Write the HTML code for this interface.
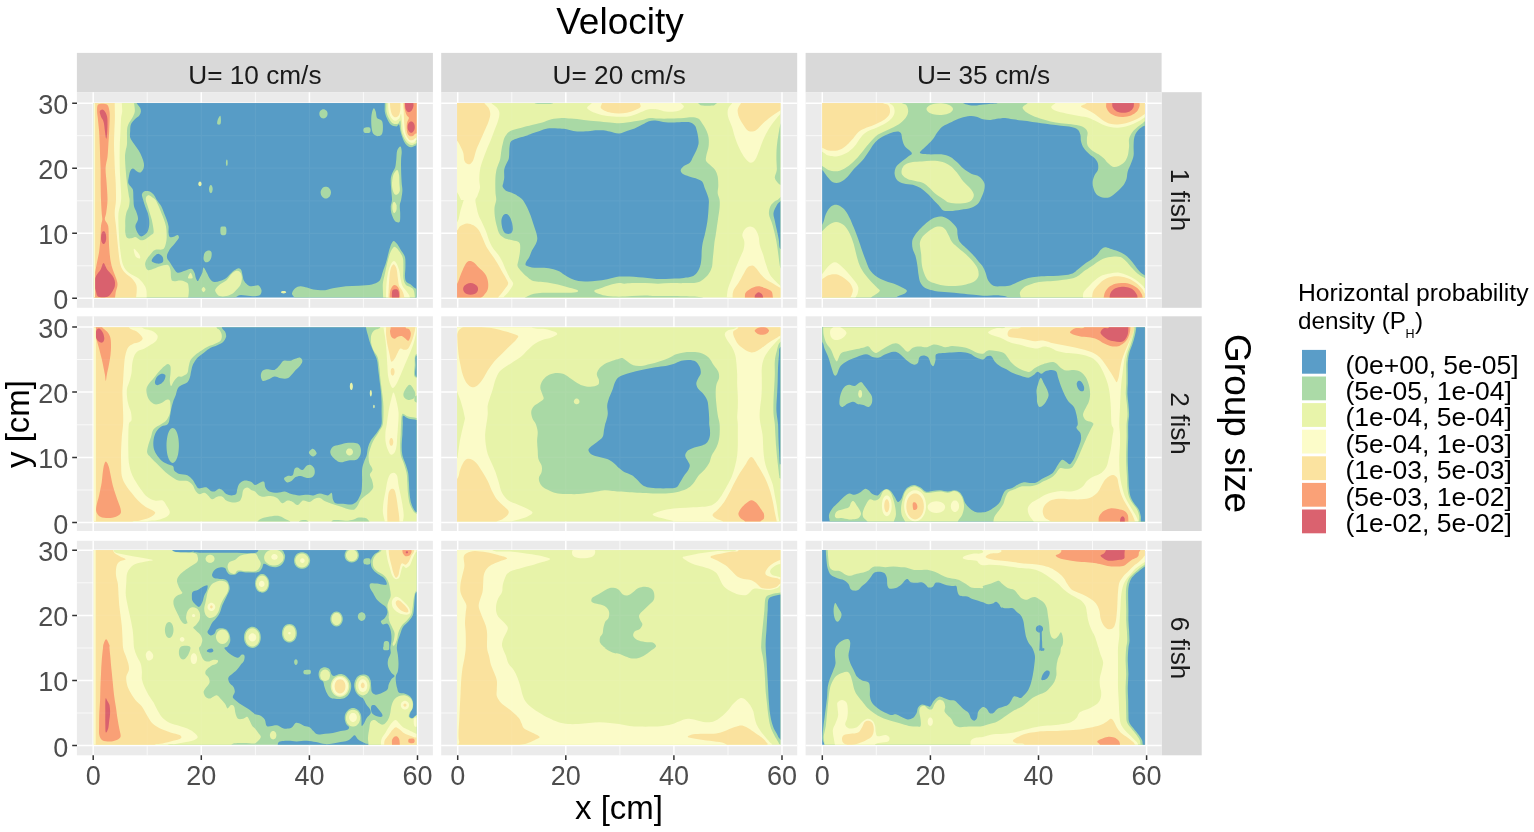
<!DOCTYPE html>
<html lang="en"><head><meta charset="utf-8"><title>Horizontal probability density</title>
<style>html,body{margin:0;padding:0;background:#fff}body{width:1534px;height:832px;overflow:hidden}svg{display:block}text{font-family:"Liberation Sans",sans-serif}</style></head><body>
<svg width="1534" height="832" viewBox="0 0 1534 832">
<rect width="1534" height="832" fill="#fff"/>
<defs>
<clipPath id="c00"><rect x="93.9" y="102.9" width="322.7" height="194.7"/></clipPath>
<clipPath id="c01"><rect x="457" y="102.9" width="323.4" height="194.7"/></clipPath>
<clipPath id="c02"><rect x="822.1" y="102.9" width="322.8" height="194.7"/></clipPath>
<clipPath id="c10"><rect x="93.9" y="327.2" width="322.7" height="194.4"/></clipPath>
<clipPath id="c11"><rect x="457" y="327.2" width="323.4" height="194.4"/></clipPath>
<clipPath id="c12"><rect x="822.1" y="327.2" width="322.8" height="194.4"/></clipPath>
<clipPath id="c20"><rect x="93.9" y="550" width="322.7" height="194.7"/></clipPath>
<clipPath id="c21"><rect x="457" y="550" width="323.4" height="194.7"/></clipPath>
<clipPath id="c22"><rect x="822.1" y="550" width="322.8" height="194.7"/></clipPath>
</defs>
<rect x="76.9" y="52.9" width="356" height="39.4" fill="#d9d9d9"/>
<text x="254.9" y="83.9" font-size="26.2" text-anchor="middle" fill="#1a1a1a">U= 10 cm/s</text>
<rect x="441.2" y="52.9" width="356" height="39.4" fill="#d9d9d9"/>
<text x="619.2" y="83.9" font-size="26.2" text-anchor="middle" fill="#1a1a1a">U= 20 cm/s</text>
<rect x="805.6" y="52.9" width="356" height="39.4" fill="#d9d9d9"/>
<text x="983.6" y="83.9" font-size="26.2" text-anchor="middle" fill="#1a1a1a">U= 35 cm/s</text>
<rect x="1161.5" y="92.2" width="40.2" height="215.6" fill="#d9d9d9"/>
<text transform="translate(1170.8 200) rotate(90)" font-size="26.2" text-anchor="middle" fill="#1a1a1a">1 fish</text>
<rect x="1161.5" y="316.3" width="40.2" height="214.7" fill="#d9d9d9"/>
<text transform="translate(1170.8 423.6) rotate(90)" font-size="26.2" text-anchor="middle" fill="#1a1a1a">2 fish</text>
<rect x="1161.5" y="540.8" width="40.2" height="214.5" fill="#d9d9d9"/>
<text transform="translate(1170.8 648) rotate(90)" font-size="26.2" text-anchor="middle" fill="#1a1a1a">6 fish</text>
<g>
<rect x="76.9" y="92.2" width="356" height="215.6" fill="#ebebeb"/>
<path d="M147.2 92.2V307.8M255.4 92.2V307.8M363.4 92.2V307.8M76.9 265.8H432.9M76.9 200.8H432.9M76.9 135.7H432.9" stroke="#fff" stroke-width="0.75" fill="none"/>
<path d="M93.2 92.2V307.8M201.3 92.2V307.8M309.4 92.2V307.8M417.5 92.2V307.8M76.9 298.3H432.9M76.9 233.3H432.9M76.9 168.2H432.9M76.9 103.2H432.9" stroke="#fff" stroke-width="1.5" fill="none"/>
<g clip-path="url(#c00)">
<rect x="76.9" y="92.2" width="356" height="215.6" fill="#579cc6"/>
<path fill="#a9d9a5" d="M136.1 99.8C136.1 100.3 135.8 101.6 136.5 102.9C137.1 104.2 139.2 106.2 140 107.6C140.7 109 141 110.2 140.9 111.5C140.8 112.8 140.3 114.1 139.3 115.4C138.3 116.7 136.2 117.8 134.8 119.3C133.4 120.8 131.6 122.5 130.9 124.5C130.1 126.4 130.3 128.8 130.2 131C130.1 133.1 129.6 135.3 130.2 137.4C130.9 139.6 132.7 141.8 134.1 143.9C135.5 146.1 137.4 148.3 138.7 150.4C140 152.6 141.1 154.8 141.9 156.9C142.8 159.1 143.6 161.5 143.9 163.4C144.1 165.4 144 167.1 143.5 168.6C142.9 170.1 141.7 172.1 140.6 172.5C139.5 172.9 138 171.8 136.7 171.2C135.4 170.6 133.9 168.6 132.8 168.6C131.7 168.6 130.9 169.9 130.2 171.2C129.6 172.5 129.3 174.4 128.9 176.4C128.6 178.3 127.9 181 128.3 182.9C128.7 184.7 130.7 186.1 131.5 187.4C132.3 188.7 132.8 188.6 133.1 190.7C133.4 192.8 133.3 197.4 133.5 200C133.7 202.7 133.6 204.3 134.1 206.5C134.7 208.7 136.1 210.8 136.7 213C137.4 215.1 138.2 217.3 138 219.5C137.8 221.6 135.5 223.8 135.4 226C135.3 228.1 136.4 230.7 137.4 232.5C138.3 234.2 139.6 236.4 141.3 236.4C142.9 236.4 145.8 234.2 147.1 232.5C148.4 230.7 148.7 228.1 149.1 226C149.4 223.8 149.3 221.6 149.1 219.5C148.8 217.3 148.4 215.1 147.8 213C147.1 210.8 145.9 208.7 145.2 206.5C144.4 204.3 143.8 202 143.2 200C142.7 198 141.7 196 141.9 194.6C142.1 193.1 143.3 191.9 144.5 191.3C145.7 190.8 147.5 190.8 149.1 191.3C150.6 191.9 152.3 193.1 153.6 194.6C154.9 196 155.6 198 156.8 200C158.1 202 160.2 204.3 161.4 206.5C162.6 208.7 163.1 210.8 164 213C164.9 215.1 165.8 217.3 166.6 219.5C167.3 221.6 168.2 223.8 168.5 226C168.9 228.1 168.3 230.6 168.5 232.5C168.8 234.3 168.9 236.4 169.8 237C170.8 237.7 173.1 236.7 174.4 236.4C175.7 236 176.9 234.8 177.6 235.1C178.4 235.3 179.1 236.6 178.9 237.7C178.7 238.7 177.3 240.2 176.3 241.5C175.4 242.8 174.2 244.1 173.1 245.4C172 246.7 170.8 247.8 169.8 249.3C168.9 250.9 167.7 253 167.2 254.5C166.8 256 166.8 257.1 167.2 258.4C167.7 259.7 168.9 260.8 169.8 262.3C170.8 263.8 171.8 265.8 173.1 267.5C174.4 269.2 175.7 272.2 177.6 272.7C179.6 273.2 182.5 271.4 184.8 270.8C187 270.1 189.6 268.5 191.3 268.8C192.9 269.1 193.7 271.2 194.5 272.7C195.3 274.2 195.3 276.5 195.8 277.9C196.3 279.3 197.1 281.1 197.7 281.1C198.4 281.1 198.9 279.3 199.7 277.9C200.5 276.5 201.6 274.4 202.3 272.7C202.9 271 202.8 267.5 203.6 267.5C204.3 267.5 205.9 271 206.8 272.7C207.8 274.4 208.4 276.4 209.4 277.9C210.5 279.4 211.6 281.3 213.3 281.8C215.1 282.3 217.7 281.8 219.8 281.1C222 280.5 224.6 279.1 226.3 277.9C228 276.7 228.8 275.3 230.2 274C231.6 272.7 233.3 271.1 234.8 270.1C236.2 269.1 237.6 268.2 238.6 268.2C239.7 268.2 240.6 268.9 241.2 270.1C241.9 271.3 242.1 273.6 242.5 275.3C243 277 243.1 279 243.8 280.5C244.6 282 245.9 283.4 247.1 284.4C248.3 285.4 249.7 286.1 251 286.3C252.3 286.6 253.7 285.8 255 285.7C256.3 285.6 257.8 284.9 258.9 285.7C260 286.4 261.3 288.7 261.5 290.2C261.7 291.8 261.3 293.8 260.2 294.8C259.1 295.8 257.4 296.2 255 296.3C252.6 296.4 248.6 295.5 245.8 295.4C243 295.3 239.6 294.6 238 295.8C236.4 297 227 301.4 236 302.6C245.1 303.7 282.7 304.1 292 302.6C301.3 301.1 291.5 295.9 292 293.5C292.5 291.1 293.8 289.5 295.2 288.3C296.7 287.1 298.5 286.4 300.4 286.3C302.4 286.2 304.8 287.1 306.9 287.6C309.1 288.2 310.4 289.2 313.4 289.6C316.5 290 321.9 290.5 325.1 290.2C328.4 290 329.4 288.9 332.9 288.3C336.4 287.6 341.6 286.8 345.9 286.3C350.2 285.9 354.5 286 358.9 285.7C363.2 285.4 368.6 285 371.9 284.4C375.1 283.7 376.8 282.9 378.3 281.8C379.9 280.7 380.2 279.6 380.9 277.9C381.7 276.2 382 274 382.9 271.4C383.8 268.8 385.2 265.6 386.1 262.3C387.1 259.1 387.9 255 388.7 251.9C389.6 248.9 390.5 246 391.3 244.1C392.2 242.3 392.7 240.9 393.7 240.9C394.6 240.9 395.9 242.5 397.2 244.1C398.4 245.8 399.8 248.5 401.1 250.6C402.4 252.8 404.2 254.3 405 257.1C405.7 259.9 405.4 264.3 405.4 267.5C405.4 270.8 404.8 274.2 405 276.6C405.1 279 405.3 280.5 406.3 281.8C407.2 283.1 409.3 283.3 410.8 284.4C412.3 285.5 413.4 287.2 415.3 288.3C417.3 289.4 421.3 290.5 422.5 290.9L428.6 309.6L81.5 309.6L81.5 90.8Z"/>
<path fill="#a9d9a5" d="M384.8 92C384.8 93.8 384.8 99.7 384.8 102.9C384.8 106.2 384.5 109 384.8 111.5C385.2 114 385.8 115.8 386.8 118C387.8 120.1 389.1 123.1 390.7 124.5C392.3 125.9 395.1 126.4 396.5 126.4C397.9 126.4 398.5 123.7 399.1 124.5C399.8 125.2 399.9 128.8 400.4 131C401 133.1 401.5 135.3 402.4 137.4C403.2 139.6 404.2 142.3 405.6 143.9C407 145.6 409 147 410.8 147.2C412.6 147.4 413.8 145.8 416.6 145.2C419.5 144.7 425.8 144.2 427.7 143.9L428.6 90.8Z"/>
<path fill="#a9d9a5" d="M220.5 227.9C220.7 226.8 221 226.8 221.8 226.6C222.5 226.4 224.3 226.3 225 226.6C225.8 226.9 226.1 227.5 226.3 228.6C226.5 229.6 226.5 232 226.3 233.1C226.1 234.2 225.8 234.7 225 235.1C224.3 235.4 222.5 235.4 221.8 235.1C221 234.7 220.7 234.3 220.5 233.1C220.3 231.9 220.3 229 220.5 227.9Z"/>
<path fill="#a9d9a5" d="M203.6 257.1C203.7 255.8 204.1 253.7 204.9 252.6C205.6 251.5 207.1 250.7 208.1 250.6C209.2 250.5 210.8 250.9 211.4 251.9C211.9 253 211.7 255.6 211.4 257.1C211.1 258.6 210.3 260.2 209.4 261C208.6 261.9 207.1 262.4 206.2 262.3C205.3 262.2 204.4 261.2 204 260.4C203.5 259.5 203.4 258.4 203.6 257.1Z"/>
<path fill="#a9d9a5" d="M217.2 121.9C217.4 120.8 218 118.9 218.5 118C219.1 117 220.1 115.4 220.5 116C220.9 116.7 221 120.5 220.9 121.9C220.8 123.3 220.4 124.1 219.8 124.5C219.3 124.8 217.9 124.6 217.5 124.2C217.1 123.8 217.1 122.9 217.2 121.9Z"/>
<path fill="#a9d9a5" d="M227.7 162.8C227.7 163.5 227.6 164.5 227.5 165.1C227.3 165.6 227 166 226.8 166C226.6 166 226.3 165.6 226.2 165.1C226 164.5 225.9 163.5 225.9 162.8C225.9 162 226 161 226.2 160.5C226.3 159.9 226.6 159.5 226.8 159.5C227 159.5 227.3 159.9 227.5 160.5C227.6 161 227.7 162 227.7 162.8Z"/>
<path fill="#e7f3a9" d="M201.6 183.9C201.6 184.5 201.4 185.2 201.1 185.6C200.9 186 200.4 186.3 200 186.3C199.6 186.3 199 186 198.8 185.6C198.5 185.2 198.3 184.5 198.3 183.9C198.3 183.4 198.5 182.7 198.8 182.3C199 181.9 199.6 181.6 200 181.6C200.4 181.6 200.9 181.9 201.1 182.3C201.4 182.7 201.6 183.4 201.6 183.9Z"/>
<path fill="#a9d9a5" d="M212.7 189.1C212.7 190.1 212.4 191.4 212.1 192.1C211.8 192.7 211.3 193.3 210.9 193.3C210.4 193.3 209.9 192.7 209.6 192.1C209.3 191.4 209 190.1 209 189.1C209 188.1 209.3 186.9 209.6 186.2C209.9 185.5 210.4 185 210.9 185C211.3 185 211.8 185.5 212.1 186.2C212.4 186.9 212.7 188.1 212.7 189.1Z"/>
<path fill="#a9d9a5" d="M327.6 113.8C327.6 114.7 327.3 115.8 326.8 116.6C326.3 117.3 325.5 118 324.7 118.3C323.9 118.5 322.9 118.5 322.1 118.3C321.4 118 320.5 117.3 320.1 116.6C319.6 115.8 319.3 114.7 319.3 113.8C319.3 112.9 319.6 111.8 320.1 111.1C320.5 110.3 321.4 109.7 322.1 109.4C322.9 109.1 323.9 109.1 324.7 109.4C325.5 109.7 326.3 110.3 326.8 111.1C327.3 111.8 327.6 112.9 327.6 113.8Z"/>
<path fill="#a9d9a5" d="M373.8 108.2C374.4 108 375.2 109.9 375.7 111.5C376.3 113.1 376.1 116.5 377 118C378 119.5 380.6 119.3 381.6 120.6C382.6 121.9 382.8 123.6 382.9 125.8C383 127.9 383 131.8 382.2 133.5C381.5 135.3 379.8 136 378.3 136.1C376.9 136.3 374.9 135.3 373.8 134.2C372.7 133.1 372.3 131.9 371.9 129.7C371.4 127.4 371.2 123.4 371.2 120.6C371.2 117.8 371.4 114.8 371.9 112.8C372.3 110.7 373.2 108.4 373.8 108.2Z"/>
<path fill="#a9d9a5" d="M364.1 128.1C365 127.3 368.9 127 369.9 127.7C370.9 128.4 370.9 131.7 369.9 132.5C368.9 133.3 365 133.2 364.1 132.5C363.1 131.8 363.1 128.9 364.1 128.1Z"/>
<path fill="#a9d9a5" d="M331 192.6C331 193.8 330.6 195.1 330 196.1C329.4 197 328.3 197.8 327.4 198.2C326.4 198.5 325.1 198.5 324.2 198.2C323.2 197.8 322.2 197 321.6 196.1C321 195.1 320.6 193.8 320.6 192.6C320.6 191.5 321 190.1 321.6 189.2C322.2 188.3 323.2 187.4 324.2 187.1C325.1 186.7 326.4 186.7 327.4 187.1C328.3 187.4 329.4 188.3 330 189.2C330.6 190.1 331 191.5 331 192.6Z"/>
<path fill="#a9d9a5" d="M400.4 146.5C401.2 146.7 401.6 149.6 401.7 151.7C401.8 153.9 401.2 156.5 401.1 159.5C401 162.5 401 166 401.1 169.9C401.2 173.8 401.5 179.4 401.7 182.9C401.9 186.3 402.5 187.8 402.4 190.7C402.3 193.5 401.5 197.6 401.1 200C400.6 202.4 399.9 203 399.8 205.2C399.6 207.4 400.2 210.3 400.2 213C400.2 215.7 400.4 219.9 399.8 221.4C399.2 222.9 397.5 222.4 396.5 222.1C395.5 221.7 394.8 221 393.9 219.5C393.1 218 391.9 215.1 391.3 213C390.8 210.8 390.6 208.7 390.7 206.5C390.8 204.3 391.9 202.6 392 200C392.1 197.4 391.5 194 391.3 190.7C391.1 187.4 390.6 183.1 390.7 180.3C390.8 177.5 391.2 176 392 173.8C392.7 171.6 394.5 169.7 395.2 167.3C395.9 164.9 395.9 162.3 396.3 159.5C396.6 156.7 396.5 152.6 397.2 150.4C397.9 148.3 399.7 146.3 400.4 146.5Z"/>
<path fill="#e7f3a9" d="M393.3 175.1C394.1 172.5 396.2 169.9 397.2 169.9C398.1 169.9 398.8 172.9 399.1 175.1C399.5 177.3 399.3 180.3 399.4 182.9C399.5 185.5 400.1 188.7 399.8 190.7C399.4 192.6 398.1 194.1 397.2 194.6C396.2 195 394.8 194.8 393.9 193.3C393.1 191.8 392.1 188.5 392 185.5C391.9 182.5 392.4 177.7 393.3 175.1Z"/>
<path fill="#e7f3a9" d="M392.6 203.9C393 202.7 393.9 201.7 394.6 201.9C395.2 202.2 396.2 203.8 396.5 205.2C396.8 206.6 396.7 209.1 396.3 210.4C395.8 211.7 394.6 213.2 393.9 213C393.3 212.8 392.6 210.6 392.4 209.1C392.2 207.6 392.3 205.1 392.6 203.9Z"/>
<path fill="#e7f3a9" d="M286.2 292.2C286.2 292.5 285.8 292.9 285.4 293.1C285 293.3 284.2 293.5 283.6 293.5C283 293.5 282.2 293.3 281.7 293.1C281.3 292.9 281 292.5 281 292.2C281 291.9 281.3 291.5 281.7 291.3C282.2 291 283 290.9 283.6 290.9C284.2 290.9 285 291 285.4 291.3C285.8 291.5 286.2 291.9 286.2 292.2Z"/>
<path fill="#579cc6" d="M151.7 261C151.2 259.7 153.7 257 154.9 255.8C156.1 254.6 157.5 253.7 158.8 253.9C160.1 254.1 162 255.7 162.7 257.1C163.3 258.5 163.6 261.2 162.7 262.3C161.8 263.4 159.3 263.8 157.5 263.6C155.7 263.4 152.1 262.3 151.7 261Z"/>
<path fill="#e7f3a9" d="M134.1 99.8C134.1 100.3 134 101 134.1 102.9C134.2 104.9 135.1 109 134.8 111.5C134.5 114 133.3 115.8 132.2 118C131.1 120.1 129.2 122.3 128.3 124.5C127.4 126.6 127.2 127.7 127 131C126.8 134.2 127.2 140.7 127 143.9C126.8 147.2 126 148.3 125.7 150.4C125.4 152.6 125 153.7 125 156.9C125 160.2 125.4 165.6 125.7 169.9C126 174.2 126.4 178.6 127 182.9C127.5 187.2 128.5 193 128.9 195.9C129.4 198.7 129.6 198.2 129.6 200C129.6 201.8 129.5 204.3 128.9 206.5C128.4 208.7 126.9 210.8 126.3 213C125.7 215.1 125.5 217.3 125.3 219.5C125.1 221.6 125.3 223.8 125.3 226C125.3 228.1 125 230.5 125.3 232.5C125.6 234.4 125.9 236.7 127 237.7C128 238.6 130.1 238.4 131.5 238.3C132.9 238.2 133.9 236.7 135.4 237C136.9 237.3 138.9 239.9 140.6 240.2C142.4 240.6 144.1 239.8 145.8 239C147.5 238.1 149.7 236.1 151 235.1C152.3 234 153.3 234 153.6 232.5C153.9 230.9 153.3 228.1 153 226C152.6 223.8 152.2 221.6 151.7 219.5C151.1 217.3 150.4 215.1 149.7 213C149.1 210.8 148.4 208.7 147.8 206.5C147.1 204.3 146 201.7 145.8 200C145.6 198.3 145.9 197.3 146.5 196.5C147 195.7 148 195 149.1 195.2C150.1 195.4 151.9 197 153 197.8C154 198.6 154.6 198.6 155.6 200C156.5 201.5 157.8 204.3 158.8 206.5C159.8 208.7 160.5 210.8 161.4 213C162.3 215.1 163.2 217.3 164 219.5C164.7 221.6 165.5 223.8 165.9 226C166.4 228.1 166.5 230.3 166.6 232.5C166.7 234.6 166.8 236.8 166.6 239C166.4 241.1 165.9 243.7 165.3 245.4C164.6 247.2 164.4 248.6 162.7 249.3C161 250.1 157 249.1 154.9 250C152.8 250.9 151.8 252.9 150.4 254.5C149 256.2 147.3 258 146.5 259.7C145.6 261.5 144.9 263.2 145.2 264.9C145.4 266.6 146.4 269.5 147.8 270.1C149.2 270.8 151.5 269.5 153.6 268.8C155.7 268.2 157.7 266.9 160.1 266.2C162.5 265.6 166.2 264.3 167.9 264.9C169.6 265.6 169.9 267.9 170.5 270.1C171 272.3 170.7 276.1 171.1 277.9C171.6 279.7 171.5 280.7 173.1 281.1C174.7 281.6 178.5 280.2 180.9 280.5C183.2 280.8 186.1 281.8 187.4 283.1C188.7 284.4 188.4 286.6 188.7 288.3C188.9 290 188.9 290.9 188.7 293.5C188.4 296.1 187.6 302.1 187.4 303.9L81.5 309.6L81.5 90.8Z"/>
<path fill="#e7f3a9" d="M188 277.9C187.7 277 189.8 272.7 190.6 272.7C191.4 272.7 193 277 192.6 277.9C192.1 278.8 188.3 278.8 188 277.9Z"/>
<path fill="#e7f3a9" d="M201.6 289.6C201.6 288.7 202.9 287 203.6 287C204.2 287 205.5 288.7 205.5 289.6C205.5 290.5 204.2 292.2 203.6 292.2C202.9 292.2 201.6 290.5 201.6 289.6Z"/>
<path fill="#e7f3a9" d="M215.3 289.6C215.8 288.1 218 285.9 219.8 284.4C221.7 282.9 224.4 282.2 226.3 280.5C228.3 278.8 229.8 275.6 231.5 274C233.2 272.4 235.2 271 236.7 270.8C238.2 270.5 239.7 271.5 240.6 272.7C241.5 273.9 241.9 276 241.9 277.9C241.9 279.8 241.5 282.4 240.6 284.4C239.7 286.3 238 288.1 236.7 289.6C235.4 291.1 234.5 292.4 232.8 293.5C231.1 294.6 228.5 295.6 226.3 296.1C224.1 296.5 221.4 296.5 219.8 296.1C218.2 295.6 217.3 294.6 216.6 293.5C215.8 292.4 214.7 291.1 215.3 289.6Z"/>
<path fill="#e7f3a9" d="M386.4 92C386.4 93.8 386.4 99.7 386.4 102.9C386.4 106.2 386 109 386.4 111.5C386.8 114 387.7 116 388.7 118C389.8 119.9 391.1 122.2 392.6 123.2C394.1 124.1 396.5 124.2 397.8 123.8C399.1 123.4 399.8 119.4 400.4 120.6C401 121.8 400.9 128.1 401.5 131C402 133.8 402.6 135.4 403.7 137.4C404.7 139.5 406.2 142 407.6 143.3C409 144.6 410.6 145.2 412.1 145.2C413.6 145.2 414 143.7 416.6 143.3C419.2 142.9 425.8 142.7 427.7 142.6L428.6 90.8Z"/>
<path fill="#e7f3a9" d="M383.5 303.9C383.4 301.7 383 294.3 382.9 290.9C382.8 287.4 382.6 285.9 382.9 283.1C383.2 280.3 384.1 277.5 384.8 274C385.6 270.5 386.6 265.8 387.4 262.3C388.3 258.9 389.1 255.7 390 253.2C391 250.7 392.3 248.4 393.3 247.4C394.2 246.4 394.8 246.6 395.9 247.4C397 248.1 398.6 250.1 399.8 251.9C401 253.8 402.4 255.6 403 258.4C403.6 261.2 403.3 265.6 403.4 268.8C403.5 272.1 403 275.3 403.4 277.9C403.8 280.5 404.5 282.9 405.6 284.4C406.7 285.9 408.7 285.9 410.2 287C411.6 288.1 413.2 288.1 414 290.9C414.9 293.7 415.1 301.7 415.3 303.9Z"/>
<path fill="#fbfbc8" d="M121.8 99.8C121.8 100.3 121.7 101 121.8 102.9C121.9 104.9 122.3 109 122.2 111.5C122.1 114 121.4 114.7 121.1 118C120.9 121.2 120.7 126.6 120.5 131C120.3 135.3 120 139.6 119.8 143.9C119.7 148.3 119.6 152.6 119.6 156.9C119.6 161.2 119.7 165.6 119.8 169.9C120 174.2 120.3 177.9 120.5 182.9C120.7 187.9 121.5 195 121.1 200C120.8 205 119 208.7 118.5 213C118.1 217.3 118.4 221.6 118.5 226C118.7 230.3 118.9 234.6 119.2 239C119.5 243.3 119.8 247.6 120.5 251.9C121.1 256.3 121.7 261.5 123.1 264.9C124.5 268.4 126.4 270.5 128.9 272.7C131.4 274.9 135.5 276 138 277.9C140.5 279.8 142.5 282.2 143.9 284.4C145.3 286.6 146 287.6 146.5 290.9C146.9 294.1 146.5 301.7 146.5 303.9L81.5 309.6L81.5 90.8Z"/>
<path fill="#fbfbc8" d="M134.1 248.7C135 249.1 138.3 252.9 139.3 254.5C140.3 256.2 140.5 258 140 258.4C139.4 258.9 137 258.2 136.1 257.1C135.1 256 134.5 253.3 134.1 251.9C133.8 250.5 133.3 248.3 134.1 248.7Z"/>
<path fill="#fbfbc8" d="M388.1 92C388.1 93.8 388 99.7 388.1 102.9C388.2 106.2 388.2 109 388.7 111.5C389.3 114 390.2 116.4 391.3 118C392.4 119.5 393.9 120.7 395.2 120.8C396.5 120.9 398.1 119.7 399.1 118.6C400.1 117.5 400.5 113.1 401.1 114.1C401.6 115 402 121.6 402.4 124.5C402.7 127.3 402.5 128.8 403 131C403.6 133.1 404.5 135.6 405.6 137.4C406.7 139.3 408.1 141.1 409.5 142C410.9 142.9 412.9 143 414 142.6C415.2 142.3 414.4 140.7 416.6 140C418.9 139.4 425.8 139 427.7 138.7L428.6 90.8Z"/>
<path fill="#fbfbc8" d="M386.1 303.9C386.1 301.7 386 294.8 386.1 290.9C386.2 287 386.4 284 386.8 280.5C387.2 277 388 272.9 388.7 270.1C389.5 267.3 390.5 265.1 391.3 263.6C392.2 262.1 393.1 261 393.9 261C394.8 261 395.7 262.1 396.5 263.6C397.4 265.1 398.5 267.7 399.1 270.1C399.8 272.5 399.9 275.3 400.4 277.9C401 280.5 401.4 283.5 402.4 285.7C403.3 287.9 405.1 289.2 406.3 290.9C407.4 292.6 408.9 293.9 409.5 296.1C410.2 298.2 410 302.6 410.2 303.9Z"/>
<path fill="#fae29e" d="M114.7 99.8C114.7 100.3 114.6 99.9 114.7 102.9C114.7 105.9 115 113.3 114.9 118C114.9 122.6 114.5 126.6 114.4 131C114.2 135.3 114 139.6 114 143.9C114 148.3 114.2 152.6 114.4 156.9C114.5 161.2 114.7 165.6 114.9 169.9C115.1 174.2 115.5 177.9 115.7 182.9C115.9 187.9 116.1 195 116 200C115.8 205 114.7 208.7 114.7 213C114.7 217.3 115.5 221.6 116 226C116.4 230.3 116.8 234.6 117.2 239C117.7 243.3 118 247.6 118.5 251.9C119.1 256.3 119.4 261.5 120.5 264.9C121.6 268.4 123.2 270.5 125 272.7C126.9 274.9 129.7 276 131.5 277.9C133.4 279.8 135.2 282.2 136.1 284.4C136.9 286.6 136.8 287.6 136.7 290.9C136.6 294.1 135.6 301.7 135.4 303.9L81.5 309.6L81.5 90.8Z"/>
<path fill="#fae29e" d="M390 92C390 93.8 389.9 99.9 390 102.9C390.1 105.9 390.2 108.1 390.7 110.2C391.1 112.3 391.8 114.2 392.6 115.4C393.5 116.6 394.8 117.4 395.9 117.3C397 117.2 398.4 116.1 399.1 114.7C399.9 113.3 400.2 110.8 400.4 108.9C400.6 106.9 400.4 105.7 400.4 102.9C400.4 100.1 400.4 93.8 400.4 92Z"/>
<path fill="#fae29e" d="M403 92C403 93.8 402.9 99.7 403 102.9C403.1 106.2 403.4 107.9 403.7 111.5C403.9 115.1 404 120.8 404.3 124.5C404.6 128.1 404.9 131.1 405.6 133.5C406.4 136 407.7 138.3 408.9 139.4C410 140.5 411.5 140.4 412.8 140C414 139.7 414.2 138.1 416.6 137.4C419.1 136.8 425.8 136.4 427.7 136.1L428.6 90.8Z"/>
<path fill="#fae29e" d="M388.1 303.9C388.2 301.3 388.5 292.6 388.7 288.3C388.9 284 389.1 281.1 389.4 277.9C389.7 274.7 390 271.1 390.7 268.8C391.4 266.5 392.7 264.3 393.7 264.3C394.6 264.3 395.8 266.5 396.5 268.8C397.2 271.1 397.4 275.1 397.8 277.9C398.3 280.7 398.3 283.3 399.1 285.7C400 288.1 401.9 289.2 403 292.2C404.1 295.2 405.2 301.9 405.6 303.9Z"/>
<path fill="#f9a076" d="M102.3 103.7C100.7 103.7 98.6 103.7 97.8 105C96.9 106.3 97.1 109.3 97.1 111.5C97.1 113.6 97.4 114.7 97.8 118C98.1 121.2 98.7 126.6 99.1 131C99.4 135.3 99.5 139.6 99.7 143.9C99.9 148.3 100 152.6 100.1 156.9C100.3 161.2 100.5 165.6 100.6 169.9C100.7 174.2 100.6 177.9 100.6 182.9C100.7 187.9 100.8 195 101 200C101.2 205 101.5 209.7 101.7 213C101.9 216.2 102.4 217.3 102.3 219.5C102.2 221.6 101.3 222.7 101 226C100.7 229.2 100.7 234.6 100.4 239C100 243.3 99.7 247.6 99.1 251.9C98.4 256.3 97.3 260.6 96.5 264.9C95.6 269.2 94.4 274.7 93.9 277.9C93.3 281.1 93.2 282.2 93.2 284.4C93.2 286.6 93.7 287.6 93.9 290.9C94.1 294.1 91.5 301.7 94.5 303.9C97.6 306 108.5 306 112.1 303.9C115.6 301.7 115 294.1 116 290.9C116.9 287.6 117.5 286.6 117.5 284.4C117.5 282.2 117 281.1 116 277.9C114.9 274.7 112.5 269.2 111.4 264.9C110.3 260.6 109.9 256.3 109.5 251.9C109 247.6 109 243.3 108.8 239C108.6 234.6 108.8 229.2 108.2 226C107.5 222.7 105.2 221.6 104.9 219.5C104.6 217.3 105.8 216.2 106.2 213C106.6 209.7 107.4 205 107.5 200C107.6 195 106.9 187.9 106.6 182.9C106.3 177.9 105.6 173.1 105.6 169.9C105.5 166.7 105.9 165.6 106.2 163.4C106.5 161.2 107.1 160.2 107.5 156.9C107.9 153.7 108.1 148.3 108.4 143.9C108.7 139.6 109 135.3 109.2 131C109.4 126.6 109.7 121.2 109.7 118C109.8 114.7 109.8 113.6 109.5 111.5C109.1 109.3 108.7 106.3 107.5 105C106.3 103.7 103.9 103.7 102.3 103.7Z"/>
<path fill="#f9a076" d="M404.3 92C404.3 93.8 404.2 99.9 404.3 102.9C404.4 105.9 404.5 108.1 405 110.2C405.4 112.3 406.3 114.1 406.9 115.4C407.6 116.7 408.9 116.7 408.9 118C408.9 119.3 407.2 121 406.9 123.2C406.6 125.3 406.6 128.9 406.9 131C407.2 133 407.9 134.6 408.9 135.5C409.8 136.4 411.6 136.5 412.8 136.1C413.9 135.8 413.5 134.4 416 133.5C418.5 132.7 425.7 131.4 427.7 131L428.6 90.8Z"/>
<path fill="#f9a076" d="M389.4 303.9C389.5 301.9 389.6 295 390 292.2C390.5 289.4 391.2 288.2 392 287C392.7 285.8 393.6 285 394.6 285C395.5 285 397 285.8 397.8 287C398.7 288.2 399.3 289.4 399.8 292.2C400.2 295 400.3 301.9 400.4 303.9Z"/>
<path fill="#d9616e" d="M99.7 111.5C99.9 110.3 101.5 109.5 102.3 109.5C103.2 109.5 104.1 110.3 104.9 111.5C105.7 112.7 106.7 114.5 107.1 116.7C107.6 118.8 107.5 121.6 107.5 124.5C107.5 127.3 107.3 131.2 107.1 133.5C106.9 135.9 106.6 139.2 106.2 138.7C105.8 138.3 105.3 133.8 104.9 131C104.5 128.1 104.3 124.2 103.6 121.9C103 119.5 101.7 118.4 101 116.7C100.4 114.9 99.5 112.7 99.7 111.5Z"/>
<path fill="#d9616e" d="M106.2 237.7C106.2 238.9 106 240.4 105.7 241.5C105.4 242.5 104.9 243.4 104.4 243.8C103.9 244.2 103.3 244.2 102.8 243.8C102.3 243.4 101.8 242.5 101.5 241.5C101.2 240.4 101 238.9 101 237.7C101 236.4 101.2 234.9 101.5 233.8C101.8 232.8 102.3 231.9 102.8 231.5C103.3 231.1 103.9 231.1 104.4 231.5C104.9 231.9 105.4 232.8 105.7 233.8C106 234.9 106.2 236.4 106.2 237.7Z"/>
<path fill="#d9616e" d="M103.6 263C104 263 104.3 263.7 104.9 264.9C105.6 266.1 106.3 268.4 107.5 270.1C108.7 271.8 110.9 273.6 112.1 275.3C113.2 277 114.2 278.8 114.7 280.5C115.1 282.2 115.2 284 114.9 285.7C114.6 287.4 113.9 289 112.7 290.9C111.5 292.7 109.9 295.8 107.5 296.7C105.1 297.7 100.4 297.7 98.4 296.7C96.5 295.8 96.5 292.7 95.8 290.9C95.2 289 94.7 287.4 94.5 285.7C94.3 284 94.2 282.2 94.5 280.5C94.9 278.8 95.5 277 96.5 275.3C97.4 273.6 99.4 271.8 100.4 270.1C101.3 268.4 101.8 266.1 102.3 264.9C102.9 263.7 103.2 263 103.6 263Z"/>
<path fill="#d9616e" d="M405 92C405 93.8 404.9 100.1 405 102.9C405.1 105.7 405.1 107.3 405.6 108.9C406.2 110.4 407.2 111.8 408.2 112.1C409.2 112.4 410.6 111.8 411.5 110.8C412.3 109.9 413.1 107.6 413.4 106.3C413.7 105 413.4 105.3 413.4 102.9C413.4 100.5 413.4 93.8 413.4 92Z"/>
<path fill="#d9616e" d="M414.8 127.1C414.8 128.1 414.6 129.5 414.1 130.3C413.7 131.2 413 132 412.3 132.4C411.6 132.7 410.7 132.7 410.1 132.4C409.4 132 408.7 131.2 408.3 130.3C407.8 129.5 407.6 128.1 407.6 127.1C407.6 126 407.8 124.7 408.3 123.8C408.7 122.9 409.4 122.1 410.1 121.7C410.7 121.4 411.6 121.4 412.3 121.7C413 122.1 413.7 122.9 414.1 123.8C414.6 124.7 414.8 126 414.8 127.1Z"/>
<path fill="#d9616e" d="M392 303.9C392 301.9 391.7 294.6 392 292.2C392.3 289.8 393.1 290 393.9 289.6C394.8 289.2 396.3 289 397.2 289.6C398 290.1 398.6 290.5 398.9 292.8C399.1 295.2 398.9 302 398.9 303.9Z"/>
<path fill="#fbfbc8" d="M91.5 100.8H95.1V299.6H91.5Z"/>
<path d="M93.2 92.2V307.8M147.2 92.2V307.8M201.3 92.2V307.8M255.4 92.2V307.8M309.4 92.2V307.8M363.4 92.2V307.8M417.5 92.2V307.8M76.9 298.3H432.9M76.9 265.8H432.9M76.9 233.3H432.9M76.9 200.8H432.9M76.9 168.2H432.9M76.9 135.7H432.9M76.9 103.2H432.9" stroke="#fff" stroke-opacity="0.05" stroke-width="1.2" fill="none"/>
</g></g>
<g>
<rect x="441.2" y="92.2" width="356" height="215.6" fill="#ebebeb"/>
<path d="M511.8 92.2V307.8M619.9 92.2V307.8M728 92.2V307.8M441.2 265.8H797.2M441.2 200.8H797.2M441.2 135.7H797.2" stroke="#fff" stroke-width="0.75" fill="none"/>
<path d="M457.7 92.2V307.8M565.8 92.2V307.8M673.9 92.2V307.8M782 92.2V307.8M441.2 298.3H797.2M441.2 233.3H797.2M441.2 168.2H797.2M441.2 103.2H797.2" stroke="#fff" stroke-width="1.5" fill="none"/>
<g clip-path="url(#c01)">
<rect x="441.2" y="92.2" width="356" height="215.6" fill="#e7f3a9"/>
<path fill="#a9d9a5" d="M619 123.2C616.2 123.2 613.5 122.8 609.8 122.5C606.1 122.2 601.1 121.6 596.8 121.2C592.5 120.8 588.1 120.3 583.8 119.9C579.5 119.5 574.5 118.9 570.8 118.6C567.2 118.3 565 117.9 561.7 118C558.5 118.1 554.6 118.5 551.4 119.3C548.1 120 545.5 121.5 542.3 122.5C539 123.5 535.3 124.2 531.9 125.1C528.4 126 524.5 126.9 521.5 127.7C518.5 128.5 515.9 128.9 513.7 129.7C511.5 130.4 510 131 508.5 132.2C507 133.5 505.6 135.5 504.6 137.4C503.6 139.4 503.2 141.8 502.7 143.9C502.1 146.1 501.8 147.8 501.4 150.4C500.9 153 500.8 156.5 500.1 159.5C499.3 162.5 497.6 165.8 496.8 168.6C496.1 171.4 495.8 173.6 495.5 176.4C495.3 179.2 495.3 182.7 495.3 185.5C495.3 188.3 495.4 190.8 495.5 193.3C495.7 195.7 496.4 197.6 496.2 200C496 202.4 494.7 205 494.5 207.8C494.3 210.6 494.5 213.8 494.9 216.9C495.3 219.9 496.1 223.2 496.8 226C497.6 228.8 498.1 231.7 499.4 233.8C500.7 235.8 502.5 237.2 504.6 238.3C506.8 239.4 510 239.6 512.4 240.2C514.8 240.9 517.6 241.1 518.9 242.2C520.2 243.3 520.1 244.7 520.2 246.7C520.3 248.8 519.9 252.2 519.6 254.5C519.2 256.9 518.6 259.1 518.3 261C517.9 263 517.1 264.5 517.6 266.2C518.1 267.9 520 269.7 521.5 271.4C523 273.1 525 275.1 526.7 276.6C528.4 278.1 529.9 279.6 531.9 280.5C533.8 281.4 535.8 281.5 538.4 281.8C541 282.1 544.2 282 547.5 282.4C550.7 282.9 554.6 283.6 557.9 284.4C561.1 285.2 563.9 286.1 566.9 287C570 287.9 574.2 288.9 576 289.6C577.9 290.2 578 290.5 578 290.9C578 291.3 578.1 291.9 576 292.2C574 292.5 569.1 292.7 565.6 292.8C562.2 292.9 558.7 292.8 555.3 292.8C551.8 292.8 548.1 292.7 544.9 292.8C541.6 292.9 538.4 293 535.8 293.5C533.2 293.9 531.2 294.6 529.3 295.4C527.3 296.3 525 297.3 524.1 298.7C523.2 300.1 494.4 303 524.1 303.9C553.8 304.7 672.4 304.9 702.1 303.9C731.8 302.8 705.1 298.9 702.1 297.6C699.1 296.4 691.3 296.6 683.9 296.3C676.6 296.1 664.4 296.2 658 296.1C651.5 295.9 649.3 295.4 645 295.4C640.6 295.4 636.3 295.9 632 296.1C627.7 296.3 623.1 296.7 619 296.7C614.9 296.7 610.5 296.5 607.2 296.1C603.9 295.6 601.6 295 599.4 294.1C597.2 293.3 594 291.9 594.2 290.9C594.4 289.9 598.1 289.3 600.7 288.3C603.3 287.3 606.7 285.9 609.8 285C612.8 284.2 616.6 283.3 619 283.1C621.4 282.9 622 283.7 624.2 283.7C626.4 283.7 628.5 283.2 632 283.1C635.4 283 640.6 283 645 283.1C649.3 283.2 653.6 283.7 658 283.7C662.3 283.7 666.6 283.2 670.9 283.1C675.3 283 679.6 283.2 683.9 283.1C688.2 283 693.7 283.1 696.9 282.4C700.1 281.8 701.4 280.6 703.4 279.2C705.3 277.8 707.2 276 708.6 274C710 272.1 711.1 269.9 711.8 267.5C712.5 265.1 712.5 262.3 712.7 259.7C713 257.1 713.2 254.7 713.5 251.9C713.8 249.1 714.1 245.7 714.4 242.8C714.8 240 715.3 237.9 715.7 235.1C716.2 232.2 716.6 229 717 226C717.5 222.9 717.9 219.9 718.3 216.9C718.8 213.8 719.4 210.6 719.6 207.8C719.8 205 719.9 202.4 719.6 200C719.3 197.6 717.9 195.7 717.7 193.3C717.5 190.9 718.3 188.3 718.3 185.5C718.3 182.7 718.2 179 717.7 176.4C717.1 173.8 716.4 171.8 715.1 169.9C713.8 168 711.4 166.2 709.9 164.7C708.4 163.2 706.5 162.5 706 160.8C705.4 159.1 706.2 156.7 706.6 154.3C707.1 151.9 708.3 149.3 708.6 146.5C708.9 143.7 709 140.3 708.6 137.4C708.2 134.6 707.1 132 706 129.7C704.9 127.3 703.4 125 702.1 123.2C700.8 121.3 699.9 119.6 698.2 118.6C696.5 117.6 694.1 117.4 691.7 117.3C689.3 117.2 687.4 117.8 683.9 118C680.5 118.2 675.3 118.5 670.9 118.6C666.6 118.7 661.4 118.7 658 118.6C654.5 118.5 652.8 117.8 650.2 118C647.6 118.2 645 119.4 642.4 119.9C639.8 120.5 637.2 120.8 634.6 121.2C632 121.6 629.4 122.2 626.8 122.5C624.2 122.8 621.8 123.2 619 123.2Z"/>
<path fill="#a9d9a5" d="M535.8 101.1C533.2 101.5 533.8 103.3 536.4 103.7C539 104.1 548.8 104.1 551.4 103.7C554 103.3 554.6 101.5 552 101.1C549.4 100.7 538.4 100.7 535.8 101.1Z"/>
<path fill="#a9d9a5" d="M696.9 101.1C693.8 101.5 698 102.9 698.8 103.7C699.7 104.4 699.8 105.3 702.1 105.6C704.4 106 710.2 105.9 712.5 105.6C714.8 105.4 714.9 104.7 715.7 103.9C716.6 103.2 720.8 101.6 717.7 101.1C714.5 100.6 700 100.7 696.9 101.1Z"/>
<path fill="#a9d9a5" d="M782.6 123.2C782.2 123.4 781.1 122.5 780.4 124.5C779.7 126.4 779 131.2 778.4 134.8C777.8 138.5 777.1 142.4 776.8 146.5C776.4 150.6 776.4 155.6 776.4 159.5C776.4 163.4 777 166.9 776.8 169.9C776.5 172.9 774.6 175.5 774.8 177.7C775 179.9 777.1 181.7 778 182.9C779 184.1 779.6 184.4 780.4 184.8C781.1 185.3 782.2 185.4 782.6 185.5Z"/>
<path fill="#a9d9a5" d="M782.6 195.9C782.2 196.1 781.3 196.5 780.4 197.2C779.5 197.9 778.3 199.3 777.4 200C776.5 200.7 776 200.2 774.8 201.3C773.6 202.4 771.2 204.3 770.3 206.5C769.3 208.7 768.7 211.7 769 214.3C769.2 216.9 770.7 219.3 771.6 222.1C772.4 224.9 773.4 227.9 774.2 231.2C775 234.4 775.7 238.1 776.4 241.5C777 245 777.6 248.5 778 251.9C778.5 255.4 779 259.7 779.3 262.3C779.7 264.9 779.8 266.4 780.4 267.5C780.9 268.6 782.2 268.6 782.6 268.8Z"/>
<path fill="#579cc6" d="M619 133.5C616.2 133.7 612.4 132.1 609.8 131.6C607.2 131.1 605.5 130.5 603.3 130.3C601.1 130.1 599 130.2 596.8 130.3C594.6 130.4 592.9 130.7 590.3 131C587.7 131.2 584 131.6 581.2 131.6C578.4 131.6 576 131.4 573.4 131C570.8 130.5 568.2 129.4 565.6 129C563 128.6 560.9 128.5 557.9 128.4C554.8 128.2 550.5 127.9 547.5 128.4C544.4 128.8 542.3 130.1 539.7 131C537.1 131.8 534.3 132.7 531.9 133.5C529.5 134.4 528 135.3 525.4 136.1C522.8 137 518.7 137.9 516.3 138.7C513.9 139.6 512.2 140 511.1 141.3C510 142.6 509.9 144.4 509.6 146.5C509.2 148.7 509.3 152.2 509.2 154.3C509 156.5 509.1 157.8 508.5 159.5C508 161.2 506.6 163 505.9 164.7C505.2 166.4 504.5 167.7 504.2 169.9C503.9 172.1 504.4 175.5 504.2 177.7C504.1 179.9 503.6 181.4 503.3 182.9C503.1 184.4 502.2 185.5 502.7 186.8C503.1 188.1 504.5 189.7 505.9 190.7C507.3 191.6 509.2 191.8 511.1 192.6C513.1 193.5 515.7 194.6 517.6 195.9C519.6 197.1 521.2 198 522.8 200C524.4 202 526 205.2 527.3 207.8C528.6 210.4 529.6 213 530.6 215.6C531.6 218.2 532.3 220.8 533.2 223.4C534 226 535.1 228.7 535.8 231.2C536.5 233.6 537.3 236.1 537.3 238.3C537.3 240.5 536.7 242.1 535.8 244.1C534.9 246.2 533 248.5 531.9 250.6C530.8 252.8 530.3 255.2 529.3 257.1C528.3 259.1 526.6 260.9 526 262.3C525.5 263.7 525.1 264.7 526 265.6C527 266.4 529.6 267.1 531.9 267.5C534.2 267.9 536.9 267.7 539.7 267.8C542.5 267.9 545.7 267.7 548.8 268.2C551.8 268.7 555.3 269.7 557.9 270.8C560.4 271.8 562.2 273.4 564.3 274.7C566.5 276 568.5 277.5 570.8 278.6C573.2 279.6 575.8 280.7 578.6 281.1C581.4 281.6 584.7 281.6 587.7 281.5C590.7 281.5 593.6 281.1 596.8 280.8C600 280.4 603.5 279.9 607.2 279.2C610.9 278.5 615.3 277 619 276.6C622.7 276.2 626.1 276.5 629.4 276.6C632.6 276.7 635.4 277 638.5 277.3C641.5 277.5 644.5 277.6 647.6 277.9C650.6 278.2 653.6 278.8 656.7 278.9C659.7 279.1 662.7 279 665.7 278.9C668.8 278.9 671.8 278.7 674.8 278.6C677.9 278.4 681.1 278.2 683.9 277.9C686.7 277.6 689.5 277.5 691.7 276.6C693.9 275.7 695.5 274.4 696.9 272.7C698.3 271 699.4 268.6 700.1 266.2C700.9 263.8 701.2 261 701.4 258.4C701.7 255.8 701.5 253.2 701.7 250.6C701.9 248 702.2 245.4 702.7 242.8C703.2 240.2 704 237.9 704.7 235.1C705.3 232.2 706.1 229 706.6 226C707.2 222.9 707.6 219.9 707.9 216.9C708.3 213.8 708.4 210.6 708.6 207.8C708.7 205 709.1 202.2 708.8 200C708.6 197.8 708 196.6 707.3 194.6C706.6 192.6 705.6 190.2 704.7 188.1C703.8 185.9 703.6 183.2 702.1 181.6C700.6 180 697.8 179.2 695.6 178.3C693.4 177.5 691.3 177.2 689.1 176.4C686.9 175.6 684 174.9 682.6 173.8C681.2 172.7 680.5 171.2 680.7 169.9C680.9 168.6 682.4 167.2 683.9 166C685.4 164.8 688.2 164.3 689.8 162.8C691.3 161.2 691.9 159 693 156.9C694.1 154.9 695.3 152.6 696.3 150.4C697.2 148.3 698.1 146.1 698.5 143.9C698.8 141.8 698.5 139.6 698.2 137.4C697.9 135.3 697.4 132.9 696.9 131C696.4 129 696 127.2 695 125.8C693.9 124.4 692.2 123.1 690.4 122.5C688.6 121.9 686.7 122.1 683.9 122.1C681.1 122.1 677 122.6 673.5 122.5C670.1 122.5 666.2 122.2 663.1 121.9C660.1 121.5 657.7 120.7 655.4 120.6C653 120.5 651 120.6 648.9 121.2C646.7 121.9 644.8 123.3 642.4 124.5C640 125.6 637.2 127.3 634.6 128.4C632 129.4 629.4 130.1 626.8 131C624.2 131.8 621.8 133.4 619 133.5Z"/>
<path fill="#579cc6" d="M501.4 220.8C501.5 218.5 502.5 216.4 503.3 215.3C504.2 214.2 505.5 213.8 506.6 214C507.6 214.3 508.9 215.3 509.8 216.9C510.7 218.4 511.7 221.2 512.2 223.4C512.6 225.5 513 228.2 512.7 229.9C512.4 231.6 511.6 232.9 510.5 233.5C509.3 234.1 507.2 234.2 505.9 233.5C504.6 232.8 503.4 231.3 502.7 229.2C501.9 227.1 501.3 223.1 501.4 220.8Z"/>
<path fill="#579cc6" d="M782.6 200C782.2 200.2 781.4 200.4 780.4 201.3C779.4 202.2 777.9 203.2 776.8 205.2C775.6 207.1 773.8 210.4 773.5 213C773.2 215.6 774.3 218 774.8 220.8C775.3 223.6 776.1 226.8 776.8 229.9C777.4 232.9 778.2 235.9 778.7 239C779.2 242 779.1 246.3 779.7 248C780.4 249.8 782.1 249.1 782.6 249.3Z"/>
<path fill="#fbfbc8" d="M491.6 99.8C491.6 100.4 490.8 101.9 491.6 103.2C492.5 104.5 495.5 106 496.8 107.6C498.1 109.2 499.2 110.6 499.4 112.8C499.6 114.9 499 117.5 498.1 120.6C497.3 123.6 495.5 127.5 494.2 131C492.9 134.4 491.6 138.1 490.3 141.3C489 144.6 487.7 147.2 486.4 150.4C485.1 153.7 483.6 157.6 482.5 160.8C481.5 164.1 480.5 166.7 480 169.9C479.4 173.1 479.3 177.3 479.3 180.3C479.3 183.3 480.3 185.5 480 188.1C479.6 190.7 478.1 193.9 477.4 195.9C476.6 197.9 475.5 198 475.4 200C475.3 202 476.2 205.2 476.7 207.8C477.2 210.4 477.7 213 478.7 215.6C479.6 218.2 481.2 220.6 482.5 223.4C483.8 226.2 485.4 229.6 486.4 232.5C487.5 235.3 488 237.7 489 240.2C490.1 242.8 491.4 245.7 492.9 248C494.4 250.4 496.6 252.4 498.1 254.5C499.6 256.7 500.7 258.4 502 261C503.3 263.6 504.6 267.3 505.9 270.1C507.2 272.9 508.6 275.7 509.8 277.9C511 280.1 512.8 281.4 513.1 283.1C513.3 284.8 512.1 286.6 511.1 288.3C510.1 290 508.5 291.9 507.2 293.5C505.9 295 504.2 295.9 503.3 297.6C502.5 299.4 502.2 302.8 502 303.9L445.5 309.6L445.5 207.8L455.3 226L458.5 219.5L460.5 210.4L463.7 200L461.1 200L458.5 194.6L455.3 189.4L445.5 172.8L445.5 90.8Z"/>
<path fill="#fbfbc8" d="M591.6 99.8C591.6 100.4 592.4 101.9 591.6 103.2C590.9 104.5 587.3 106.3 587.1 107.6C586.8 108.9 588.7 109.9 590.3 110.8C591.9 111.8 594 112.6 596.8 113.4C599.6 114.3 603.5 115.5 607.2 116C610.9 116.6 615.7 116.6 619 116.7C622.3 116.8 624.2 117 626.8 116.7C629.4 116.3 632.2 115.5 634.6 114.7C637 114 638.9 113 641.1 112.1C643.2 111.3 645.6 110.1 647.6 109.5C649.5 109 651 108.9 652.8 108.9C654.5 108.9 655.8 109.1 658 109.5C660.1 110 662.9 111.2 665.7 111.5C668.6 111.8 672.2 111.8 674.8 111.5C677.4 111.2 679.8 110.4 681.3 109.5C682.8 108.7 683.9 107.3 683.9 106.3C683.9 105.3 682 104.5 681.3 103.4C680.7 102.3 680.2 100.4 680 99.8Z"/>
<path fill="#fbfbc8" d="M733.3 99.8C733 100.4 732.8 101.7 732 103.2C731.1 104.7 728.7 106.6 728.1 108.9C727.4 111.1 727.4 113.6 728.1 116.7C728.7 119.7 730.7 123.2 732 127.1C733.3 131 734.3 135.9 735.9 140C737.4 144.2 739.3 148.5 741 151.7C742.8 155 744.6 157.7 746.2 159.5C747.9 161.4 749.3 162.8 750.8 162.8C752.3 162.8 753.9 161.6 755.3 159.5C756.7 157.5 757.9 153.7 759.2 150.4C760.5 147.2 761.6 143.5 763.1 140C764.6 136.6 766.4 132.9 768.3 129.7C770.3 126.4 772.8 123.2 774.8 120.6C776.8 118 778.4 116 780.4 114.1C782.3 112.1 785.5 109.7 786.5 108.9L792.6 90.8Z"/>
<path fill="#fbfbc8" d="M726.8 303.9C726.8 302.8 726.5 300.2 726.8 297.6C727 295 727.2 291.6 728.1 288.3C728.9 285 730.7 281.4 732 277.9C733.3 274.4 734.6 270.8 735.9 267.5C737.2 264.3 738.4 261.5 739.7 258.4C741 255.4 742.9 252.2 743.6 249.3C744.4 246.5 744.5 243.9 744.3 241.5C744.1 239.2 742.2 237.1 742.3 235.1C742.5 233 743.6 230.6 744.9 229.2C746.2 227.8 748.4 226.6 750.1 226.6C751.9 226.6 753.9 227.6 755.3 229.2C756.7 230.8 757.8 233.6 758.6 236.4C759.3 239.1 759.1 242.4 759.9 245.4C760.6 248.5 762.1 251.5 763.1 254.5C764.1 257.6 764.6 260.4 765.7 263.6C766.8 266.9 768.1 271.2 769.6 274C771.1 276.8 773 278.6 774.8 280.5C776.6 282.4 778.4 284.2 780.4 285.7C782.3 287.2 785.5 288.9 786.5 289.6L792.6 309.6Z"/>
<path fill="#fae29e" d="M484.5 99.8C484.5 100.4 483.8 101.9 484.5 103.2C485.1 104.5 487.4 105.8 488.4 107.6C489.4 109.4 490.3 111.7 490.3 114.1C490.3 116.5 489.4 119 488.4 121.9C487.4 124.7 485.9 127.7 484.5 131C483.1 134.2 481.4 138.1 480 141.3C478.5 144.6 477.1 147.4 476.1 150.4C475 153.5 474.3 157.4 473.5 159.5C472.6 161.7 471.8 162.7 470.9 163.4C469.9 164.2 468.7 164.5 467.6 164.1C466.5 163.6 465.1 162.7 464.4 160.8C463.7 159 464 155.4 463.3 153C462.7 150.6 461.4 148.5 460.5 146.5C459.5 144.6 458.8 143.1 457.5 141.3C456.2 139.6 453.5 137 452.7 136.1L445.5 90.8Z"/>
<path fill="#fae29e" d="M602.6 99.8C602.5 100.4 602.3 101.9 602 103.2C601.7 104.5 600.3 106.3 600.7 107.6C601.1 108.9 602.9 110 604.6 110.8C606.3 111.7 608.7 112.3 611.1 112.8C613.5 113.2 616.4 113.4 619 113.4C621.6 113.4 624.2 113.3 626.8 112.8C629.4 112.2 632.3 111.2 634.6 110.2C636.9 109.2 639.6 108.1 640.4 106.9C641.3 105.8 640.1 104.4 639.8 103.2C639.4 102 638.7 100.4 638.5 99.8Z"/>
<path fill="#fae29e" d="M742.3 99.8C742.1 100.4 741.8 101.7 741 103.2C740.3 104.7 738.2 106.8 737.8 108.9C737.4 110.9 737.7 113 738.4 115.4C739.2 117.8 740.9 120.8 742.3 123.2C743.8 125.5 745.4 128.2 746.9 129.7C748.4 131.1 749.8 131.6 751.4 131.6C753.1 131.6 754.7 131.1 756.6 129.7C758.6 128.2 760.7 125.3 763.1 123.2C765.5 121 768.3 118.6 770.9 116.7C773.5 114.7 776.1 113.2 778.7 111.5C781.3 109.7 785.2 107.1 786.5 106.3L792.6 90.8Z"/>
<path fill="#fae29e" d="M452.7 233.8C453.5 233.1 456.2 231.2 457.5 229.9C458.8 228.6 458.9 227 460.5 226C462.1 224.9 464.8 223.5 467 223.4C469.1 223.3 471.5 224.2 473.5 225.3C475.4 226.4 477.1 227.8 478.7 229.9C480.2 231.9 481.2 234.8 482.5 237.7C483.8 240.5 484.9 243.9 486.4 246.7C488 249.6 489.9 251.9 491.6 254.5C493.4 257.1 495.1 259.5 496.8 262.3C498.6 265.1 500.3 268.4 502 271.4C503.8 274.4 506.2 278.3 507.2 280.5C508.2 282.7 508.5 282.7 507.9 284.4C507.2 286.1 504.9 288.7 503.3 290.9C501.7 293.1 499.4 295.5 498.1 297.6C496.8 299.8 496 302.8 495.5 303.9L445.5 309.6Z"/>
<path fill="#fae29e" d="M732.6 303.9C732.6 302.8 732.5 299.8 732.6 297.6C732.7 295.5 732.3 293.3 733.3 290.9C734.2 288.5 736.7 285.9 738.4 283.1C740.2 280.3 742.1 276.6 743.6 274C745.2 271.4 746 268.9 747.5 267.5C749.1 266.1 751.2 265.4 752.7 265.6C754.2 265.8 755.3 267.4 756.6 268.8C757.9 270.2 759 272.3 760.5 274C762 275.7 763.8 277.7 765.7 279.2C767.7 280.7 770 281.8 772.2 283.1C774.4 284.4 776.3 285.7 778.7 287C781.1 288.3 785.2 290.2 786.5 290.9L792.6 309.6Z"/>
<path fill="#f9a076" d="M452.7 290.9C453.5 289.6 456.2 285.7 457.5 283.1C458.8 280.5 459.3 278.1 460.5 275.3C461.6 272.5 463.1 268.6 464.4 266.2C465.7 263.9 466.8 261.9 468.3 261.3C469.8 260.6 471.7 261.3 473.5 262.3C475.2 263.4 476.7 265.6 478.7 267.5C480.6 269.5 483.6 271.6 485.1 274C486.7 276.4 487.6 279.2 488 281.8C488.4 284.4 488.4 287.3 487.7 289.6C487 291.9 485.1 293.9 483.8 295.4C482.5 296.9 481 297.3 480 298.7C478.9 300.1 477.8 303 477.4 303.9L445.5 309.6Z"/>
<path fill="#f9a076" d="M744.9 303.9C744.9 302.8 744.8 299.5 744.9 297.6C745 295.8 744.7 294.3 745.6 292.8C746.5 291.4 748.1 290 750.1 288.9C752.2 287.9 755.3 286.4 757.9 286.3C760.5 286.2 763.4 287.4 765.7 288.3C768 289.2 770.4 290 771.6 291.5C772.7 293.1 772.6 295.6 772.9 297.6C773.1 299.7 772.9 302.8 772.9 303.9Z"/>
<path fill="#d9616e" d="M478.1 288.9C478.1 289.9 477.8 291 477.1 291.9C476.5 292.7 475.5 293.5 474.4 294C473.3 294.5 471.9 294.8 470.6 294.8C469.3 294.8 467.9 294.5 466.8 294C465.8 293.5 464.7 292.7 464.1 291.9C463.5 291 463.1 289.9 463.1 288.9C463.1 288 463.5 286.9 464.1 286C464.7 285.2 465.8 284.4 466.8 283.9C467.9 283.4 469.3 283.1 470.6 283.1C471.9 283.1 473.3 283.4 474.4 283.9C475.5 284.4 476.5 285.2 477.1 286C477.8 286.9 478.1 288 478.1 288.9Z"/>
<path fill="#d9616e" d="M754.7 303.9C754.7 302.8 754.6 299.2 754.7 297.6C754.8 296.1 754.7 295.7 755.3 294.8C756 293.9 757.5 292.3 758.6 292.2C759.7 292.1 761.1 293.2 761.8 294.1C762.6 295 762.9 296 763.1 297.6C763.3 299.3 763.1 302.8 763.1 303.9Z"/>
<path d="M457.7 92.2V307.8M511.8 92.2V307.8M565.8 92.2V307.8M619.9 92.2V307.8M673.9 92.2V307.8M728 92.2V307.8M782 92.2V307.8M441.2 298.3H797.2M441.2 265.8H797.2M441.2 233.3H797.2M441.2 200.8H797.2M441.2 168.2H797.2M441.2 135.7H797.2M441.2 103.2H797.2" stroke="#fff" stroke-opacity="0.05" stroke-width="1.2" fill="none"/>
</g></g>
<g>
<rect x="805.6" y="92.2" width="356" height="215.6" fill="#ebebeb"/>
<path d="M876.3 92.2V307.8M984.4 92.2V307.8M1092.5 92.2V307.8M805.6 265.8H1161.6M805.6 200.8H1161.6M805.6 135.7H1161.6" stroke="#fff" stroke-width="0.75" fill="none"/>
<path d="M822.3 92.2V307.8M930.4 92.2V307.8M1038.5 92.2V307.8M1146.6 92.2V307.8M805.6 298.3H1161.6M805.6 233.3H1161.6M805.6 168.2H1161.6M805.6 103.2H1161.6" stroke="#fff" stroke-width="1.5" fill="none"/>
<g clip-path="url(#c02)">
<rect x="805.6" y="92.2" width="356" height="215.6" fill="#579cc6"/>
<path fill="#a9d9a5" d="M812.8 164.7C814.3 165.6 819.8 168 822.1 169.9C824.5 171.8 825.3 174.3 827.1 176.4C828.9 178.4 830.8 181.3 832.9 182.2C835.1 183.2 837.6 183.2 840.1 182.2C842.5 181.3 845.5 178.7 847.8 176.4C850.2 174.1 852 171.2 854.3 168.6C856.7 166 859.7 163.6 862.1 160.8C864.5 158 866.7 154.5 868.6 151.7C870.6 148.9 871.9 146.2 873.8 143.9C875.8 141.7 877.7 139.8 880.3 138.1C882.9 136.4 886.6 134.6 889.4 133.5C892.2 132.5 895.2 131.6 897.2 131.6C899.1 131.6 900.2 132.1 901.1 133.5C901.9 135 901.7 137.9 902.4 140C903 142.2 903.7 144.7 905 146.5C906.3 148.4 909 149.8 910.2 151.1C911.3 152.3 912.2 153.1 911.7 154.1C911.3 155 909.3 155.6 907.6 156.9C905.8 158.3 903 160.4 901.1 162.1C899.1 163.8 897 165.4 895.9 167.3C894.8 169.3 894.4 171.6 894.6 173.8C894.8 176 895.7 178.7 897.2 180.3C898.7 181.9 901.1 182.8 903.7 183.5C906.3 184.3 910 184.1 912.8 184.8C915.6 185.6 918.2 186.7 920.6 188.1C922.9 189.5 924.9 191.3 927 193.3C929.2 195.3 931.6 198 933.5 200C935.5 202 937.1 203.5 938.7 205.2C940.4 206.9 941.3 209.4 943.3 210.4C945.2 211.4 947.5 211.1 950.4 211C953.3 210.9 957.3 210.3 960.8 209.7C964.3 209.2 968.4 208.8 971.2 207.8C974 206.8 976.2 205.2 977.7 203.9C979.2 202.6 979.2 202.2 980.3 200C981.3 197.8 983.4 193.5 984 190.7C984.7 187.8 985.1 185.3 984.3 182.9C983.5 180.5 981.2 177.9 979 176.4C976.8 174.9 973.8 175.1 971.2 173.8C968.6 172.5 965.8 170.6 963.4 168.6C961 166.7 959.1 164.1 956.9 162.1C954.7 160.2 953 158.2 950.4 156.9C947.8 155.6 945 154.8 941.3 154.3C937.6 153.9 931.9 154.6 928.3 154.3C924.8 154.1 920.3 154.1 919.9 152.8C919.5 151.5 923.7 148.7 925.7 146.5C927.8 144.4 930.3 142.4 932.2 140C934.2 137.7 935.7 134.5 937.4 132.2C939.2 130 940.2 128.1 942.6 126.4C945 124.7 948.7 123.3 951.7 121.9C954.7 120.5 957.8 118.9 960.8 118C963.8 117 967.3 116.2 969.9 116C972.5 115.8 974.2 116.1 976.4 116.7C978.6 117.2 980.6 118.7 983 119.3C985.4 119.8 988.2 120 990.8 119.9C993.4 119.8 996.2 118.9 998.6 118.6C1001 118.3 1002.7 117.9 1005.1 118C1007.5 118.1 1010 118.8 1012.9 119.3C1015.7 119.7 1018.7 120.1 1022 120.6C1025.2 121 1029.1 121.4 1032.3 121.9C1035.6 122.3 1038.4 122.7 1041.4 123.2C1044.5 123.6 1047.3 124 1050.5 124.5C1053.8 124.9 1057.4 125.3 1060.9 125.8C1064.4 126.2 1068.5 126.4 1071.3 127.1C1074.1 127.7 1076.3 128.4 1077.8 129.7C1079.3 131 1079.8 132.9 1080.4 134.8C1080.9 136.8 1080.5 139.2 1081 141.3C1081.6 143.5 1082.2 145.7 1083.6 147.8C1085 150 1087.6 152.6 1089.5 154.3C1091.3 156.1 1093.3 156.7 1094.7 158.2C1096.1 159.7 1097.4 161.5 1097.9 163.4C1098.4 165.4 1098.4 168 1097.9 169.9C1097.4 171.8 1095.5 173.1 1094.7 175.1C1093.8 177 1092.9 179.4 1092.7 181.6C1092.5 183.8 1092.7 185.9 1093.4 188.1C1094 190.2 1095.1 193 1096.6 194.6C1098.1 196.1 1100.3 197 1102.4 197.4C1104.6 197.9 1107.2 198.1 1109.6 197.2C1112 196.3 1114.5 193.9 1116.7 192C1119 190 1121.6 187.6 1123.2 185.5C1124.8 183.3 1125.7 181.4 1126.5 179C1127.2 176.6 1127 173.8 1127.8 171.2C1128.5 168.6 1130 166 1131 163.4C1132 160.8 1133.2 158.4 1133.6 155.6C1134 152.8 1133.5 149.6 1133.6 146.5C1133.7 143.5 1133.6 140 1134.3 137.4C1134.9 134.8 1136.2 132.7 1137.5 131C1138.8 129.2 1140.8 127.9 1142 127.1C1143.3 126.2 1142.9 126.4 1144.9 125.8C1147 125.1 1152.8 123.6 1154.4 123.2L1156.9 90.8L810.1 90.8Z"/>
<path fill="#579cc6" d="M960.8 99.8C961.1 100.3 961.5 102 962.8 102.9C964 103.8 966.5 104.5 968.6 105C970.6 105.4 972.7 105.7 975.1 105.6C977.5 105.6 980.4 104.9 983 104.6C985.6 104.3 988.4 103.9 990.8 103.7C993.2 103.4 996 103.8 997.3 103.2C998.6 102.5 998.4 100.4 998.6 99.8Z"/>
<path fill="#a9d9a5" d="M812.8 229.9C814.3 229 820 227.3 822.1 224.7C824.3 222.1 824.3 217.3 825.8 214.3C827.2 211.3 829 208 831 206.5C832.9 204.9 835.3 204.5 837.5 204.9C839.6 205.4 842 207.1 844 209.1C845.9 211.1 847.5 213.8 849.1 216.9C850.8 219.9 852.2 223.6 853.7 227.3C855.2 230.9 856.8 235.1 858.2 239C859.6 242.8 860.8 247 862.1 250.6C863.4 254.3 864.7 257.8 866 261C867.3 264.3 868.2 267.5 869.9 270.1C871.6 272.7 873.8 274.8 876.4 276.6C879 278.4 882.3 279.8 885.5 281.1C888.7 282.4 892.9 283.2 895.9 284.4C898.9 285.6 901.8 287.2 903.7 288.3C905.5 289.4 906.9 289.9 906.9 290.9C906.9 291.9 905.5 293 903.7 294.1C901.8 295.3 897.4 296 895.9 297.6C894.4 299.3 894.8 302.8 894.6 303.9L810.1 309.6Z"/>
<path fill="#a9d9a5" d="M912.1 242.8C912.2 240.9 912.4 239.6 913.4 237.7C914.4 235.7 916.1 233.3 918 231.2C919.8 229 922.1 226.7 924.4 224.7C926.8 222.6 929.6 220.2 932.2 218.8C934.8 217.5 937.6 216.7 940 216.6C942.4 216.5 944.4 217.1 946.5 218.2C948.7 219.3 951.3 221.6 953 223.4C954.7 225.1 956.2 226.6 956.9 228.6C957.7 230.5 957.1 232.9 957.6 235.1C958 237.2 958.1 239.4 959.5 241.5C960.9 243.7 963.6 245.7 966 248C968.4 250.4 971.4 253.2 973.8 255.8C976.2 258.4 978.7 261.8 980.3 263.6C981.8 265.5 982.1 265.4 983 266.9C983.9 268.4 984.7 270.4 985.6 272.7C986.5 275 986.9 278.3 988.2 280.5C989.5 282.7 991.2 284.7 993.4 285.7C995.6 286.7 998.6 286.3 1001.2 286.3C1003.8 286.3 1006.4 286.3 1009 285.7C1011.6 285 1014.2 283.5 1016.8 282.4C1019.4 281.4 1022 280.1 1024.5 279.2C1027.1 278.3 1029.5 277.7 1032.3 277.3C1035.2 276.8 1038 276.6 1041.4 276.3C1044.9 276.1 1049.4 276.1 1053.1 276C1056.8 275.8 1060.3 275.7 1063.5 275.3C1066.7 274.9 1070.2 274.3 1072.6 273.4C1075 272.4 1075.8 271 1077.8 269.5C1079.7 267.9 1081.9 266 1084.3 264.3C1086.7 262.5 1089.9 260.7 1092.1 259.1C1094.2 257.5 1095.8 256 1097.3 254.5C1098.7 253 1099.3 251.2 1100.5 250C1101.7 248.8 1102.8 247.6 1104.4 247.4C1106 247.2 1108 248 1110.2 248.7C1112.5 249.3 1115.6 250.3 1118 251.3C1120.4 252.3 1122.6 253.2 1124.5 254.5C1126.5 255.8 1128 257.2 1129.7 259.1C1131.4 260.9 1133.2 263.4 1134.9 265.6C1136.6 267.7 1138.4 270.4 1140.1 272.1C1141.8 273.7 1142.5 274.1 1144.9 275.3C1147.3 276.5 1152.8 273.8 1154.4 279.2C1156 284.6 1178.6 303 1154.4 307.8C1130.1 312.5 1033.4 309.5 1009 307.8C984.5 306.1 1009.2 299.7 1007.7 297.6C1006.2 295.6 1002.7 295.8 999.9 295.4C997.1 295.1 993.6 295.4 990.8 295.4C988 295.5 985.8 295.9 983 295.8C980.2 295.7 977.5 295.2 973.8 294.8C970.1 294.4 965.1 293.9 960.8 293.5C956.5 293 952.1 292.6 947.8 292.2C943.5 291.8 938.5 291.5 934.8 290.9C931.2 290.2 928.1 289.6 925.7 288.3C923.4 287 921.7 285.3 920.6 283.1C919.4 280.9 919.1 278.3 918.6 275.3C918.1 272.3 917.8 268.2 917.3 264.9C916.8 261.7 916.1 258.4 915.4 255.8C914.6 253.2 913.3 251.5 912.8 249.3C912.2 247.2 912 244.8 912.1 242.8Z"/>
<path fill="#e7f3a9" d="M812.8 162.1C814.3 162.8 819.5 164.7 822.1 166C824.7 167.3 825.8 169 828.4 169.9C830.9 170.8 834.4 171.6 837.5 171.2C840.5 170.8 843.5 169.3 846.5 167.3C849.6 165.4 852.8 162.3 855.6 159.5C858.4 156.7 861 153.2 863.4 150.4C865.8 147.6 867.5 145.2 869.9 142.6C872.3 140 874.7 137 877.7 134.8C880.7 132.7 884.6 131.4 888.1 129.7C891.6 127.9 895.6 126.4 898.5 124.5C901.4 122.5 904 120.1 905.6 118C907.2 115.8 908.1 113.6 908.2 111.5C908.3 109.3 907.4 106.4 906.3 105C905.2 103.6 902.8 104.2 901.7 102.9C900.6 101.6 900.1 98.1 899.8 97.2L810.1 90.8Z"/>
<path fill="#e7f3a9" d="M953 109.1C953 110.1 952.3 111.3 951.2 112.1C950.1 113 948.3 113.8 946.4 114.3C944.5 114.8 942 115.1 939.8 115.1C937.6 115.1 935.1 114.8 933.1 114.3C931.2 113.8 929.4 113 928.3 112.1C927.2 111.3 926.5 110.1 926.5 109.1C926.5 108.1 927.2 107 928.3 106.2C929.4 105.3 931.2 104.5 933.1 104C935.1 103.5 937.6 103.2 939.8 103.2C942 103.2 944.5 103.5 946.4 104C948.3 104.5 950.1 105.3 951.2 106.2C952.3 107 953 108.1 953 109.1Z"/>
<path fill="#e7f3a9" d="M901.7 169.9C902.2 168.2 903.1 166 905 164.7C906.8 163.4 910 162.7 912.8 162.1C915.6 161.6 918.6 161.7 921.9 161.5C925.1 161.2 928.8 160.7 932.2 160.8C935.7 160.9 939.6 161.2 942.6 162.1C945.7 163 948 164.3 950.4 166C952.8 167.7 954.7 169.9 956.9 172.5C959.1 175.1 961.2 179 963.4 181.6C965.6 184.2 968.2 185.9 969.9 188.1C971.6 190.2 973.5 192.6 973.8 194.6C974.1 196.6 972.9 198.7 971.8 200C970.8 201.3 969.6 202 967.3 202.6C965 203.2 961.2 203.6 958.2 203.6C955.2 203.6 951.4 203.2 949.1 202.6C946.8 202 947 201.6 944.6 200C942.2 198.4 937.3 195.3 934.8 193.3C932.3 191.3 931.6 189.8 929.6 188.1C927.7 186.3 925.5 184.1 923.2 182.9C920.8 181.7 918 181.6 915.4 180.9C912.8 180.3 909.7 180 907.6 179C905.4 178 903.4 176.6 902.4 175.1C901.4 173.6 901.3 171.6 901.7 169.9Z"/>
<path fill="#e7f3a9" d="M1029.7 97.2C1029.4 98.1 1029 101.2 1027.8 102.9C1026.6 104.6 1022.7 105.9 1022.6 107.6C1022.5 109.2 1025.1 111.3 1027.1 112.8C1029.2 114.3 1031.9 115.5 1034.9 116.7C1038 117.9 1041.9 118.9 1045.3 119.9C1048.8 120.9 1052.2 121.9 1055.7 122.5C1059.2 123.2 1062.6 123.4 1066.1 123.8C1069.6 124.2 1073.5 124.5 1076.5 125.1C1079.5 125.8 1082.4 126.5 1084.3 127.7C1086.1 128.9 1087.1 130.4 1087.5 132.2C1088 134.1 1086.9 136.6 1086.9 138.7C1086.9 140.9 1086.7 143.3 1087.5 145.2C1088.4 147.2 1090.2 148.9 1092.1 150.4C1093.9 151.9 1096.6 153 1098.6 154.3C1100.5 155.6 1102.2 156.8 1103.7 158.2C1105.3 159.6 1106.1 161.4 1107.6 162.8C1109.2 164.2 1111 166.1 1112.8 166.7C1114.7 167.2 1116.7 166.8 1118.7 166C1120.6 165.2 1123 163.8 1124.5 162.1C1126 160.4 1127 158.2 1127.8 155.6C1128.5 153 1128.8 149.3 1129.1 146.5C1129.3 143.7 1128.5 141.1 1129.1 138.7C1129.6 136.4 1130.9 134.2 1132.3 132.2C1133.7 130.3 1135.8 128.6 1137.5 127.1C1139.2 125.5 1141.5 124.1 1142.7 123.2C1143.9 122.2 1143 122.3 1144.9 121.2C1146.9 120.1 1152.8 117.4 1154.4 116.7L1156.9 90.8Z"/>
<path fill="#e7f3a9" d="M812.8 237.7C814.3 236.6 819.5 233.2 822.1 231.2C824.7 229.1 826 226.8 828.4 225.3C830.7 223.8 833.6 222.1 836.2 222.1C838.8 222.1 841.7 223.4 844 225.3C846.2 227.3 848.2 230.6 849.8 233.8C851.4 236.9 852.6 240.7 853.7 244.1C854.8 247.6 855.3 251.1 856.3 254.5C857.3 258 858.1 261.7 859.5 264.9C860.9 268.2 862.8 271.2 864.7 274C866.7 276.8 869.1 279.4 871.2 281.8C873.4 284.2 876.3 286.8 877.7 288.3C879.1 289.8 880.1 289.8 879.7 290.9C879.2 292 876.5 293.7 875.1 294.8C873.7 295.9 872.1 296.1 871.2 297.6C870.4 299.2 870.1 302.8 869.9 303.9L810.1 309.6Z"/>
<path fill="#e7f3a9" d="M919.9 242.8C920.2 241.1 920.7 239.4 921.9 237.7C923 235.9 925.1 234.1 927 232.5C929 230.8 931.4 228.9 933.5 227.9C935.7 226.9 938.1 226.4 940 226.6C942 226.8 943.8 227.8 945.2 229.2C946.6 230.6 947.4 233 948.5 235.1C949.6 237.1 950.3 239.6 951.7 241.5C953.1 243.5 954.7 244.8 956.9 246.7C959.1 248.7 962.1 250.9 964.7 253.2C967.3 255.6 970.3 258.4 972.5 261C974.7 263.6 976.7 266.2 977.7 268.8C978.7 271.4 979 274.4 978.3 276.6C977.7 278.8 975.8 280.5 973.8 281.8C971.7 283.1 969 283.7 966 284.4C963 285.1 959.1 285.7 955.6 286C952.1 286.2 948.5 286.1 945.2 285.7C942 285.3 938.9 284.6 936.1 283.7C933.3 282.9 930.3 282.1 928.3 280.5C926.4 278.9 925.5 276.6 924.4 274C923.4 271.4 922.4 268.2 921.9 264.9C921.3 261.7 921.5 257.3 921.2 254.5C920.9 251.7 920.5 250 920.3 248C920.1 246.1 919.6 244.6 919.9 242.8Z"/>
<path fill="#e7f3a9" d="M1020.7 303.9C1020.7 302.8 1020.8 299.6 1020.7 297.6C1020.5 295.7 1019.4 294 1020 292.2C1020.7 290.4 1022.5 288.4 1024.5 287C1026.6 285.6 1029.5 284.6 1032.3 283.7C1035.2 282.9 1038 282.2 1041.4 281.8C1044.9 281.4 1049.4 281.5 1053.1 281.1C1056.8 280.8 1060 280.4 1063.5 279.8C1067 279.3 1071.3 278.7 1073.9 277.9C1076.5 277.1 1077.1 276.6 1079.1 275.3C1081 274 1083.2 271.8 1085.6 270.1C1088 268.4 1091 266.5 1093.4 264.9C1095.7 263.3 1097.7 261.6 1099.9 260.4C1102 259.2 1104 258.4 1106.3 257.8C1108.7 257.1 1111.8 256.6 1114.1 256.5C1116.5 256.4 1118.7 256.4 1120.6 257.1C1122.6 257.9 1124.1 259.4 1125.8 261C1127.6 262.6 1129.1 264.8 1131 266.9C1133 268.9 1135.2 271.5 1137.5 273.4C1139.8 275.2 1142.1 276.5 1144.9 277.9C1147.7 279.3 1152.8 281.1 1154.4 281.8L1156.9 309.6Z"/>
<path fill="#fbfbc8" d="M812.8 149.1C814.3 149.6 819.5 150.6 822.1 151.7C824.7 152.8 825.8 154.9 828.4 155.6C830.9 156.4 834.4 156.7 837.5 156.3C840.5 155.8 843.7 154.6 846.5 153C849.4 151.4 852 149.1 854.3 146.5C856.7 143.9 858.7 139.9 860.8 137.4C863 135 864.7 133.2 867.3 131.6C869.9 130 873.4 129.1 876.4 127.7C879.4 126.3 882.9 124.8 885.5 123.2C888.1 121.5 890.5 119.8 892 118C893.5 116.1 894.4 114.1 894.6 112.1C894.8 110.2 894.2 107.8 893.3 106.3C892.4 104.7 890.3 104.4 889.4 102.9C888.5 101.4 888.3 98.1 888.1 97.2L810.1 90.8Z"/>
<path fill="#fbfbc8" d="M1058.3 97.2C1057.9 98.1 1056.9 101.3 1055.7 102.9C1054.5 104.5 1051.2 105.6 1051.2 106.9C1051.2 108.3 1053.2 109.7 1055.7 110.8C1058.2 111.9 1062.6 112.7 1066.1 113.4C1069.6 114.2 1073 114.7 1076.5 115.4C1079.9 116 1083.8 116.5 1086.9 117.3C1089.9 118.2 1092.1 119.4 1094.7 120.6C1097.3 121.8 1099.9 123.4 1102.4 124.5C1105 125.5 1107.6 126.5 1110.2 127.1C1112.8 127.6 1115.4 127.8 1118 127.7C1120.6 127.6 1123.2 127.1 1125.8 126.4C1128.4 125.8 1131.2 124.8 1133.6 123.8C1136 122.8 1138.2 121.6 1140.1 120.6C1142 119.5 1142.5 118.6 1144.9 117.3C1147.3 116 1152.8 113.5 1154.4 112.8L1156.9 90.8Z"/>
<path fill="#fbfbc8" d="M812.8 283.1C814.3 281.6 819.5 276.8 822.1 274C824.7 271.2 826.2 268.2 828.4 266.2C830.5 264.3 832.7 262.3 834.9 262.3C837 262.3 839.2 264.5 841.4 266.2C843.5 267.9 845.7 270.3 847.8 272.7C850 275.1 852.6 278.1 854.3 280.5C856.1 282.9 857.7 284.8 858.2 287C858.8 289.2 858 291.7 857.6 293.5C857.2 295.3 856.1 295.9 855.6 297.6C855.2 299.4 855.1 302.8 855 303.9L810.1 309.6Z"/>
<path fill="#fbfbc8" d="M1083 303.9C1083 302.8 1082.9 299.6 1083 297.6C1083.1 295.7 1082.8 294 1083.6 292.2C1084.5 290.4 1086.3 288.9 1088.2 287C1090 285 1092.3 282.4 1094.7 280.5C1097 278.6 1099.9 276.5 1102.4 275.3C1105 274.1 1107.4 273.8 1110.2 273.4C1113.1 272.9 1116.5 272.4 1119.3 272.7C1122.1 273 1124.5 274.2 1127.1 275.3C1129.7 276.4 1132.3 277.5 1134.9 279.2C1137.5 280.9 1141 284.2 1142.7 285.7C1144.4 287.2 1143 287 1144.9 288.3C1146.9 289.6 1152.8 292.6 1154.4 293.5L1156.9 309.6Z"/>
<path fill="#fae29e" d="M812.8 145.2C814.3 145.7 819.5 147 822.1 147.8C824.7 148.7 825.8 150 828.4 150.4C830.9 150.9 834.6 151.1 837.5 150.4C840.3 149.8 842.9 148.3 845.2 146.5C847.6 144.8 849.6 142.4 851.7 140C853.9 137.7 856.1 134.2 858.2 132.2C860.4 130.3 862.1 129.5 864.7 128.4C867.3 127.2 870.8 126.4 873.8 125.1C876.8 123.8 880.4 122.2 882.9 120.6C885.4 118.9 887.6 117.1 888.7 115.4C889.9 113.6 890.2 111.9 890 110.2C889.9 108.4 889.3 106.2 888.1 105C886.9 103.8 884 104.2 882.9 102.9C881.8 101.6 881.8 98.1 881.6 97.2L810.1 90.8Z"/>
<path fill="#fae29e" d="M1089.5 97.2C1089 98.1 1088.3 101.4 1086.9 102.9C1085.5 104.4 1081 105.2 1081 106.3C1081 107.4 1084.6 108.2 1086.9 109.5C1089.1 110.8 1092.1 112.3 1094.7 114.1C1097.3 115.8 1099.9 118.3 1102.4 119.9C1105 121.5 1107.6 123.1 1110.2 123.8C1112.8 124.6 1115.4 124.6 1118 124.5C1120.6 124.4 1123.2 123.8 1125.8 123.2C1128.4 122.5 1131.2 121.5 1133.6 120.6C1136 119.6 1138.2 118.4 1140.1 117.3C1142 116.2 1142.5 115.5 1144.9 114.1C1147.3 112.7 1152.8 109.7 1154.4 108.9L1156.9 90.8Z"/>
<path fill="#fae29e" d="M812.8 283.1C814.3 282.4 819.5 280.5 822.1 279.2C824.7 277.9 826 276.1 828.4 275.3C830.7 274.5 833.6 273.8 836.2 274.3C838.8 274.7 841.7 276.4 844 277.9C846.2 279.4 848.3 281.1 849.8 283.1C851.3 285 852.5 287.6 852.8 289.6C853.1 291.5 852.1 293.4 851.7 294.8C851.4 296.1 850.8 296.1 850.4 297.6C850.1 299.2 849.9 302.8 849.8 303.9L810.1 309.6Z"/>
<path fill="#fae29e" d="M1092.1 303.9C1092.1 302.8 1091.8 299.8 1092.1 297.6C1092.3 295.5 1092.3 293.1 1093.4 290.9C1094.4 288.7 1096.6 286.3 1098.6 284.4C1100.5 282.4 1102.7 280.5 1105 279.2C1107.4 277.9 1110.2 277 1112.8 276.6C1115.4 276.2 1118 276.3 1120.6 276.6C1123.2 276.9 1125.8 277.5 1128.4 278.6C1131 279.6 1133.8 281.3 1136.2 283.1C1138.6 284.9 1141.2 287.9 1142.7 289.6C1144.1 291.3 1143 291.5 1144.9 293.5C1146.9 295.4 1152.8 300 1154.4 301.3L1156.9 309.6Z"/>
<path fill="#f9a076" d="M1106.3 97.2C1106.3 98.1 1106.3 101.2 1106.3 102.9C1106.3 104.6 1105.8 105.9 1106.3 107.6C1106.9 109.2 1108.1 111.4 1109.6 112.8C1111.1 114.2 1113.2 115.3 1115.4 116C1117.7 116.7 1120.6 117 1123.2 116.9C1125.8 116.8 1128.7 116.3 1131 115.4C1133.3 114.5 1135.4 113 1136.9 111.5C1138.3 110 1139 107.7 1139.5 106.3C1139.9 104.9 1139.5 104.4 1139.5 102.9C1139.5 101.4 1139.5 98.1 1139.5 97.2Z"/>
<path fill="#f9a076" d="M1103.7 303.9C1103.7 302.8 1103.5 299.6 1103.7 297.6C1104 295.7 1104.2 294 1105 292.2C1105.9 290.4 1107.2 288.4 1108.9 287C1110.7 285.6 1113.1 284.4 1115.4 283.7C1117.8 283.1 1120.6 283 1123.2 283.1C1125.8 283.2 1128.6 283.5 1131 284.4C1133.4 285.3 1135.8 286.8 1137.5 288.3C1139.2 289.8 1140.5 291.9 1141.4 293.5C1142.3 295 1142.4 295.9 1142.7 297.6C1143 299.4 1142.9 302.8 1143 303.9Z"/>
<path fill="#d9616e" d="M1112.2 97.2C1112.2 98.1 1112.1 101.2 1112.2 102.9C1112.3 104.6 1112.1 106.2 1112.8 107.6C1113.6 109 1115 110.6 1116.7 111.5C1118.5 112.3 1121.1 112.8 1123.2 112.8C1125.4 112.8 1128 112.3 1129.7 111.5C1131.4 110.6 1132.7 109 1133.4 107.6C1134 106.2 1133.8 104.6 1133.9 102.9C1134 101.2 1133.9 98.1 1133.9 97.2Z"/>
<path fill="#d9616e" d="M1109.6 303.9C1109.6 302.8 1109.4 299.6 1109.6 297.6C1109.8 295.7 1109.9 293.7 1110.9 292.2C1111.9 290.6 1113.6 289.2 1115.4 288.3C1117.3 287.4 1119.8 286.8 1121.9 286.7C1124.1 286.6 1126.5 287.1 1128.4 287.6C1130.4 288.2 1132.2 289 1133.6 290.2C1135 291.4 1136.2 293.5 1136.9 294.8C1137.5 296 1137.4 296.1 1137.5 297.6C1137.6 299.2 1137.5 302.8 1137.5 303.9Z"/>
<path d="M822.3 92.2V307.8M876.3 92.2V307.8M930.4 92.2V307.8M984.4 92.2V307.8M1038.5 92.2V307.8M1092.5 92.2V307.8M1146.6 92.2V307.8M805.6 298.3H1161.6M805.6 265.8H1161.6M805.6 233.3H1161.6M805.6 200.8H1161.6M805.6 168.2H1161.6M805.6 135.7H1161.6M805.6 103.2H1161.6" stroke="#fff" stroke-opacity="0.05" stroke-width="1.2" fill="none"/>
</g></g>
<g>
<rect x="76.9" y="316.3" width="356" height="214.7" fill="#ebebeb"/>
<path d="M147.2 316.3V531M255.4 316.3V531M363.4 316.3V531M76.9 490H432.9M76.9 424.8H432.9M76.9 359.5H432.9" stroke="#fff" stroke-width="0.75" fill="none"/>
<path d="M93.2 316.3V531M201.3 316.3V531M309.4 316.3V531M417.5 316.3V531M76.9 522.6H432.9M76.9 457.4H432.9M76.9 392.1H432.9M76.9 326.9H432.9" stroke="#fff" stroke-width="1.5" fill="none"/>
<g clip-path="url(#c10)">
<rect x="76.9" y="316.3" width="356" height="214.7" fill="#e7f3a9"/>
<path fill="#a9d9a5" d="M216.6 316C189.2 317.9 216 324.8 216.6 327.2C217.1 329.5 219 328.9 219.8 330.3C220.7 331.7 221.7 333.7 221.8 335.5C221.9 337.2 221.7 339.3 220.5 340.7C219.3 342.1 216.7 342.9 214.6 343.9C212.6 344.9 210.3 345.4 208.1 346.5C206 347.6 203.8 349 201.6 350.4C199.5 351.8 197 353.3 195.2 355C193.3 356.6 191.7 358.2 190.6 360.1C189.5 362.1 189.2 364.5 188.7 366.6C188.1 368.8 188.4 371.5 187.4 373.1C186.3 374.8 183.8 375.7 182.2 376.4C180.5 377 179 376.2 177.6 377C176.2 377.9 174.8 380.1 173.7 381.6C172.6 383.1 171.8 386.2 171.1 386.1C170.5 386 169.9 383.1 169.8 380.9C169.7 378.8 170.4 375.5 170.5 373.1C170.6 370.7 170.9 368.2 170.5 366.6C170 365.1 169 364 167.9 364C166.8 364 165.5 365.3 164 366.6C162.5 367.9 160.5 369.9 158.8 371.8C157.1 373.8 155.2 376.4 153.6 378.3C152 380.3 150.2 381.8 149.1 383.5C147.9 385.2 146.8 386.8 146.5 388.7C146.1 390.7 146.6 393.3 147.1 395.2C147.7 397.1 148.4 398.9 149.7 400.4C151 401.9 153 403.9 154.9 404.3C156.8 404.7 159.4 403.7 161.4 403C163.3 402.2 165.2 400.2 166.6 399.7C168 399.3 169.2 399.2 169.8 400.4C170.5 401.6 170.5 404.7 170.5 406.9C170.5 409 170.5 411.2 169.8 413.4C169.2 415.5 168 418.1 166.6 419.9C165.2 421.6 163.6 422.5 161.4 424C159.2 425.6 155.3 427 153.6 429.2C151.9 431.4 151.9 434.4 151 437C150.1 439.6 149.1 442.2 148.4 444.8C147.8 447.4 146.7 450.4 147.1 452.6C147.5 454.7 149.3 455.8 151 457.8C152.7 459.7 155.3 462.1 157.5 464.2C159.7 466.4 161.8 468.8 164 470.7C166.2 472.7 168.1 474.3 170.5 475.9C172.9 477.6 175.5 479.6 178.3 480.5C181.1 481.3 185 480.4 187.4 481.1C189.7 481.9 191.3 483.5 192.6 485C193.9 486.5 194.1 488.7 195.2 490.2C196.2 491.7 197.5 493.7 199 494.1C200.6 494.5 202.7 492.6 204.2 492.8C205.8 493 206.8 494.3 208.1 495.4C209.4 496.5 210.5 499.1 212 499.3C213.5 499.5 215.5 497.1 217.2 496.7C219 496.3 220.9 496.1 222.4 496.7C223.9 497.4 224.6 499.6 226.3 500.6C228 501.6 230.6 502.4 232.8 502.6C235 502.7 237.8 502.2 239.3 501.3C240.8 500.3 241.2 498.5 241.9 496.7C242.5 494.9 242.3 491.7 243.2 490.2C244.1 488.7 245.7 487.6 247.1 487.6C248.5 487.6 250.3 489.6 251.6 490.2C252.9 490.9 253.8 490.6 255 491.5C256.2 492.4 257.4 494.5 258.9 495.4C260.4 496.3 262.1 496.6 264.1 496.7C266 496.8 268.4 495.8 270.6 496.1C272.7 496.3 275.1 496.8 277.1 498C279 499.2 280.5 502.8 282.3 503.2C284 503.6 285.7 500.8 287.5 500.6C289.2 500.4 290.9 501.1 292.7 501.9C294.4 502.7 296.1 505.4 297.8 505.1C299.6 504.9 301.1 501.1 303 500.6C305 500.1 307.6 502.2 309.5 501.9C311.5 501.6 313 499.3 314.7 498.7C316.5 498 318.2 497.6 319.9 498C321.6 498.4 323.2 500.3 325.1 501.3C327.1 502.2 329.4 503.1 331.6 503.8C333.8 504.6 335.7 505 338.1 505.8C340.5 506.6 343.3 507.7 345.9 508.4C348.5 509 351.7 510.1 353.7 509.7C355.6 509.3 356.5 507.3 357.6 505.8C358.7 504.3 359.1 502.1 360.2 500.6C361.2 499.1 362.5 498 364.1 496.7C365.6 495.4 367.7 494.3 369.3 492.8C370.8 491.3 372.7 489.8 373.2 487.6C373.6 485.5 372.4 482 371.9 479.8C371.3 477.7 369.8 476.4 369.9 474.6C370 472.9 372.6 471.4 372.5 469.4C372.4 467.5 369.9 465.3 369.3 463C368.6 460.6 368.4 457.8 368.6 455.2C368.8 452.6 369.8 449.8 370.6 447.4C371.3 445 372.2 442.8 373.2 440.9C374.1 438.9 375.3 437.4 376.4 435.7C377.5 434 378.6 432.4 379.6 430.5C380.7 428.5 382.2 427.5 382.9 424C383.5 420.5 383.5 413.6 383.5 409.5C383.5 405.3 383.2 402.6 382.9 399.1C382.6 395.6 382 392.2 381.6 388.7C381.2 385.2 380.7 381.8 380.3 378.3C379.9 374.9 379.8 371.4 379.4 367.9C379 364.5 378.6 360.4 377.7 357.5C376.8 354.7 374.9 353.4 373.8 351.1C372.7 348.7 371.6 345.9 371.2 343.3C370.8 340.7 370.7 337.6 371.2 335.5C371.7 333.3 372.9 331.7 374.4 330.3C376 328.9 379.2 329.5 380.3 327.2C381.4 324.8 408.2 317.9 380.9 316C353.7 314.1 244 314.1 216.6 316Z"/>
<path fill="#a9d9a5" d="M409.5 384.8C407.9 385 405.3 389.4 404.3 391.3C403.3 393.3 403.1 395.1 403.7 396.5C404.2 397.9 406 399.3 407.6 399.7C409.1 400.2 411.5 399.9 412.8 399.1C414 398.3 415.1 396.7 415.3 395.2C415.6 393.7 415 391.7 414 390C413.1 388.3 411.1 384.6 409.5 384.8Z"/>
<path fill="#a9d9a5" d="M426.4 417.9C424.8 417.9 419.7 418.1 416.6 417.9C413.6 417.7 410.6 417.3 408.2 416.6C405.8 416 403.6 412.8 402.4 414C401.2 415.3 401.3 420.6 401.1 424C400.8 427.4 400.8 430.9 400.7 434.4C400.5 437.8 400.1 441.3 400.2 444.8C400.2 448.2 400.2 451.9 400.8 455.2C401.5 458.4 403.1 461.2 404.1 464.2C405 467.3 406.1 470.3 406.6 473.3C407.2 476.4 407.1 479.2 407.3 482.4C407.5 485.7 407.6 489.6 407.9 492.8C408.3 496.1 408.6 499.2 409.2 501.9C409.9 504.6 411 507.1 412.1 509C413.2 511 413.6 512.2 416 513.6C418.4 515 424.7 516.8 426.4 517.5Z"/>
<path fill="#a9d9a5" d="M426.4 353.7C424.7 353.8 417.9 352.4 416 354.3C414 356.2 414.9 361.6 414.7 365.3C414.5 369.1 413 374.9 415 377C416.9 379.2 424.5 378.1 426.4 378.3Z"/>
<path fill="#a9d9a5" d="M426.4 395.2C424.7 395.3 418 395.2 416 395.8C414 396.5 414.4 398 414.4 399.1C414.4 400.2 414 401.7 416 402.3C418 403 424.7 402.9 426.4 403Z"/>
<path fill="#579cc6" d="M221.8 316C197.8 317.9 221.2 324.6 221.8 327.2C222.3 329.8 224.3 330 225 331.6C225.7 333.2 226.4 335 226.1 336.8C225.7 338.5 224.5 340.6 223.1 342C221.6 343.4 219.3 344.2 217.2 345.2C215.2 346.2 212.9 346.6 210.7 347.8C208.6 349 206.4 350.7 204.2 352.4C202.1 354 199.6 355.6 197.7 357.5C195.9 359.5 194.3 361.9 193.2 364C192.1 366.2 191.8 368.4 191.3 370.5C190.7 372.7 190.6 375.1 190 377C189.3 379 188.9 380.8 187.4 382.2C185.8 383.6 182.5 384.4 180.9 385.5C179.2 386.5 178.5 387.1 177.6 388.7C176.8 390.3 176.4 393 175.7 395.2C174.9 397.4 173.8 399.3 173.1 401.7C172.3 404.1 171.7 406.9 171.1 409.5C170.6 412.1 170.4 414.8 169.8 417.3C169.3 419.7 169.3 422.5 167.9 424C166.5 425.6 163.3 425.3 161.4 426.6C159.4 427.9 157.5 429.6 156.2 431.8C154.9 434 154 437 153.6 439.6C153.2 442.2 153.2 445 153.6 447.4C154 449.8 154.9 451.7 156.2 453.9C157.5 456 159.4 458.6 161.4 460.4C163.3 462.1 165.9 463.3 167.9 464.2C169.8 465.2 172 465.1 173.1 466.2C174.2 467.3 173.3 469.4 174.4 470.7C175.5 472 177.4 473.2 179.6 474C181.7 474.7 185.2 474.3 187.4 475.3C189.5 476.3 191.1 478.2 192.6 479.8C194 481.5 194.8 483.6 195.8 485C196.8 486.4 197.1 487.8 198.4 488.3C199.7 488.7 202.2 487.7 203.6 487.6C205 487.5 205.6 487.1 206.8 487.6C208 488.2 209.4 490.2 210.7 490.9C212 491.5 213.3 491.8 214.6 491.5C215.9 491.2 217.2 489.1 218.5 488.9C219.8 488.7 221.1 489.4 222.4 490.2C223.7 491.1 224.8 493.2 226.3 494.1C227.8 495 229.9 495.4 231.5 495.4C233.1 495.4 235.1 495.2 236 494.1C237 493 236.8 490.6 237.3 488.9C237.9 487.2 238.1 485.1 239.3 483.7C240.5 482.3 242.5 480.8 244.5 480.5C246.4 480.2 249.2 481 251 481.8C252.7 482.5 253.5 484.9 255 485C256.5 485.1 258.7 483 260.2 482.4C261.7 481.9 263.2 480.9 264.1 481.8C265 482.6 264.5 486 265.4 487.6C266.3 489.2 267.3 490.6 269.3 491.5C271.2 492.4 274.5 492.8 277.1 492.8C279.7 492.8 282.5 491.3 284.9 491.5C287.2 491.7 289 493.5 291.4 494.1C293.7 494.8 296.5 495.3 299.1 495.4C301.7 495.5 304.6 494.8 306.9 494.8C309.3 494.8 311.3 495.6 313.4 495.4C315.6 495.2 317.5 493.5 319.9 493.5C322.3 493.5 325.8 495.5 327.7 495.4C329.7 495.3 330.7 492.2 331.6 492.8C332.5 493.5 332.3 497.6 332.9 499.3C333.6 501 333.8 502.4 335.5 503.2C337.2 504 340.7 503.6 343.3 503.8C345.9 504.1 348.9 504.8 351.1 504.5C353.2 504.2 355 503 356.3 501.9C357.6 500.8 358 499.7 358.9 498C359.7 496.3 360.9 494.3 361.5 491.5C362 488.7 362 484.8 362.1 481.1C362.2 477.4 361.8 472.7 362.1 469.4C362.4 466.2 363.3 464 364.1 461.7C364.8 459.3 366 457.5 366.7 455.2C367.3 452.8 367.3 449.8 368 447.4C368.6 445 369.5 442.8 370.6 440.9C371.6 438.9 373.2 437.4 374.4 435.7C375.7 434 377.2 432.4 378.3 430.5C379.5 428.5 381 427.1 381.6 424C382.1 420.9 381.6 415.8 381.6 412.1C381.6 408.4 381.7 405.2 381.6 401.7C381.5 398.2 381.3 394.8 380.9 391.3C380.6 387.8 380.1 384.4 379.6 380.9C379.2 377.5 378.8 374 378.3 370.5C377.9 367.1 377.7 363 377 360.1C376.4 357.3 375.5 356.2 374.4 353.7C373.4 351.1 371.6 347.6 370.6 344.6C369.5 341.5 368.7 338.4 368 335.5C367.2 332.6 366.4 330.4 366 327.2C365.6 323.9 389.4 317.9 365.4 316C341.3 314.1 245.7 314.1 221.8 316Z"/>
<path fill="#579cc6" d="M154.9 382.2C154.9 380.9 155.8 378.4 156.8 377C157.9 375.6 160 374.1 161.4 373.8C162.8 373.5 164.7 374.1 165.3 375.1C165.8 376 165.3 378.2 164.6 379.6C164 381 162.7 382.6 161.4 383.5C160.1 384.4 157.9 385.3 156.8 385.1C155.8 384.9 154.9 383.6 154.9 382.2Z"/>
<path fill="#579cc6" d="M426.4 419.9C424.8 419.9 419.7 420.1 416.6 419.9C413.6 419.7 410.5 419.2 408.2 418.6C405.9 417.9 403.9 415.1 403 416C402.1 416.9 402.9 421 402.8 424C402.6 427.1 402.5 430.9 402.4 434.4C402.2 437.8 401.7 441.3 401.7 444.8C401.7 448.2 401.7 451.9 402.4 455.2C403 458.4 404.6 461.2 405.6 464.2C406.6 467.3 407.7 470.3 408.2 473.3C408.7 476.4 408.6 479.2 408.9 482.4C409.1 485.7 409.2 489.6 409.5 492.8C409.8 496.1 410.2 499.3 410.8 501.9C411.5 504.5 412.4 506.7 413.4 508.4C414.4 510.1 414.5 511 416.6 512.3C418.8 513.6 424.8 515.5 426.4 516.2Z"/>
<path fill="#579cc6" d="M426.4 355C424.7 355.1 418.2 353.9 416.4 355.6C414.6 357.3 415.8 361.9 415.7 365.3C415.7 368.8 414.2 374.4 416 376.4C417.8 378.3 424.7 376.9 426.4 377Z"/>
<path fill="#a9d9a5" d="M178.9 445.4C178.9 448.3 178.6 451.7 178.1 454.2C177.6 456.7 176.7 459.1 175.8 460.6C174.9 462.1 173.7 463 172.7 463C171.7 463 170.5 462.1 169.6 460.6C168.7 459.1 167.8 456.7 167.3 454.2C166.8 451.7 166.5 448.3 166.5 445.4C166.5 442.5 166.8 439.2 167.3 436.7C167.8 434.1 168.7 431.7 169.6 430.2C170.5 428.8 171.7 427.9 172.7 427.9C173.7 427.9 174.9 428.8 175.8 430.2C176.7 431.7 177.6 434.1 178.1 436.7C178.6 439.2 178.9 442.5 178.9 445.4Z"/>
<path fill="#a9d9a5" d="M260.8 375.7C260.8 374 261.6 371.6 262.8 370.5C264 369.4 266 369.3 268 369.2C269.9 369.1 272.5 370.5 274.5 369.9C276.4 369.2 278.2 366.9 279.7 365.3C281.2 363.8 281.8 361.6 283.6 360.8C285.3 360 288.1 361.1 290.1 360.8C292 360.5 293.6 359.4 295.2 358.8C296.9 358.3 298.6 357.2 299.8 357.5C301 357.9 302.3 359.5 302.4 360.8C302.5 362.1 301.6 363.7 300.4 365.3C299.3 367 296.8 368.9 295.2 370.5C293.7 372.2 292.7 373.8 291.4 375.1C290.1 376.4 289.2 377.8 287.5 378.3C285.7 378.9 283.1 378.6 281 378.3C278.8 378 276.6 376.2 274.5 376.4C272.3 376.6 269.9 378.9 268 379.6C266 380.4 264 381.6 262.8 380.9C261.6 380.3 260.8 377.5 260.8 375.7Z"/>
<path fill="#e7f3a9" d="M352.9 386.4C352.9 387.2 352.7 388.3 352.4 388.9C352.2 389.5 351.7 390 351.3 390C351 390 350.5 389.5 350.2 388.9C350 388.3 349.8 387.2 349.8 386.4C349.8 385.5 350 384.4 350.2 383.8C350.5 383.2 351 382.7 351.3 382.7C351.7 382.7 352.2 383.2 352.4 383.8C352.7 384.4 352.9 385.5 352.9 386.4Z"/>
<path fill="#e7f3a9" d="M371.9 393.3C371.9 394 371.7 395 371.5 395.5C371.4 396.1 371.1 396.5 370.8 396.5C370.6 396.5 370.3 396.1 370.1 395.5C369.9 395 369.8 394 369.8 393.3C369.8 392.5 369.9 391.5 370.1 391C370.3 390.4 370.6 390 370.8 390C371.1 390 371.4 390.4 371.5 391C371.7 391.5 371.9 392.5 371.9 393.3Z"/>
<path fill="#e7f3a9" d="M374.7 406.5C374.7 406.9 374.6 407.4 374.5 407.7C374.4 408 374.1 408.2 373.9 408.2C373.7 408.2 373.5 408 373.4 407.7C373.2 407.4 373.2 406.9 373.2 406.5C373.2 406.1 373.2 405.6 373.4 405.3C373.5 405 373.7 404.8 373.9 404.8C374.1 404.8 374.4 405 374.5 405.3C374.6 405.6 374.7 406.1 374.7 406.5Z"/>
<path fill="#a9d9a5" d="M330.3 451.3C330.5 449.8 331.4 447.8 332.9 446.7C334.4 445.6 336.8 445.4 339.4 444.8C342 444.1 345.5 443 348.5 442.8C351.5 442.6 355.5 442.5 357.6 443.5C359.6 444.4 360.4 446.7 360.8 448.7C361.2 450.6 360.9 453.3 360.2 455.2C359.4 457 358.2 458.8 356.3 459.7C354.3 460.6 351.1 459.9 348.5 460.4C345.9 460.8 342.9 462.4 340.7 462.3C338.5 462.2 337 460.8 335.5 459.7C334 458.6 332.5 457.2 331.6 455.8C330.7 454.4 330.1 452.8 330.3 451.3Z"/>
<path fill="#e7f3a9" d="M353 451.9C353 452.6 352.8 453.4 352.4 454C352 454.5 351.3 455 350.6 455.2C350 455.5 349.1 455.5 348.4 455.2C347.8 455 347.1 454.5 346.7 454C346.3 453.4 346 452.6 346 451.9C346 451.2 346.3 450.4 346.7 449.9C347.1 449.3 347.8 448.8 348.4 448.6C349.1 448.4 350 448.4 350.6 448.6C351.3 448.8 352 449.3 352.4 449.9C352.8 450.4 353 451.2 353 451.9Z"/>
<path fill="#a9d9a5" d="M312.8 448.7C314.1 448.8 316.7 451.9 316.7 453.2C316.7 454.5 314.1 456.6 312.8 456.5C311.5 456.4 308.9 453.9 308.9 452.6C308.9 451.3 311.5 448.6 312.8 448.7Z"/>
<path fill="#a9d9a5" d="M284.2 477.9C284.6 477.1 286.1 476.4 287.5 475.9C288.9 475.5 291.5 476.5 292.7 475.3C293.8 474.1 293.7 470.1 294.6 468.8C295.5 467.5 296.5 467.3 297.8 467.5C299.1 467.7 300.9 470.4 302.4 470.1C303.9 469.8 305.5 466.4 306.9 465.5C308.3 464.7 309.6 464.5 310.8 464.9C312 465.3 313.4 466.7 314.1 468.1C314.7 469.6 315 471.8 314.7 473.3C314.4 474.9 313.4 476.5 312.1 477.2C310.8 478 308.9 478.1 306.9 477.9C305 477.7 302.4 476 300.4 475.9C298.5 475.8 296.8 476.4 295.2 477.2C293.7 478.1 292.7 480.3 291.4 481.1C290.1 482 288.5 482.5 287.5 482.4C286.4 482.3 285.4 481.2 284.9 480.5C284.3 479.7 283.8 478.6 284.2 477.9Z"/>
<path fill="#a9d9a5" d="M257.6 527.9C257.6 526.8 256.7 523.3 257.6 521.6C258.5 520 260.4 519 262.8 518.1C265.2 517.2 269.1 516.5 271.9 516.2C274.7 515.9 277.3 515.6 279.7 516.2C282 516.7 284.4 518.5 286.2 519.4C287.9 520.3 289.4 520.2 290.1 521.6C290.7 523 290.1 526.8 290.1 527.9Z"/>
<path fill="#a9d9a5" d="M299.1 527.9C299.1 526.8 298.3 522.9 299.1 521.6C300 520.3 302.8 520.1 304.3 520.1C305.9 520.1 307.6 520.3 308.2 521.6C308.9 522.9 308.2 526.8 308.2 527.9Z"/>
<path fill="#a9d9a5" d="M331.6 527.9C331.6 526.8 331 522.9 331.6 521.6C332.3 520.3 333.1 520.2 335.5 520.1C337.9 519.9 342.9 520.8 345.9 520.7C348.9 520.6 351.5 520 353.7 519.4C355.8 518.9 356.9 517.7 358.9 517.5C360.8 517.3 363.6 517.4 365.4 518.1C367.1 518.8 368.6 520 369.3 521.6C369.9 523.3 369.3 526.8 369.3 527.9Z"/>
<path fill="#fbfbc8" d="M141.9 316C141.9 317.9 140.2 324.7 141.9 327.2C143.6 329.7 149.7 329.5 152.3 330.9C154.9 332.3 156.8 333.9 157.5 335.5C158.1 337.1 157.3 339.2 156.2 340.7C155.1 342.2 153 343.3 151 344.6C149.1 345.9 146.7 347.4 144.5 348.5C142.4 349.5 139.8 349.8 138 351.1C136.3 352.4 135.1 354.1 134.1 356.2C133.2 358.4 132.6 361.2 132.2 364C131.7 366.9 132 370.3 131.5 373.1C131.1 375.9 130.3 378.3 129.6 380.9C128.8 383.5 127.4 386.1 127 388.7C126.6 391.3 126.8 393.9 127 396.5C127.2 399.1 127.6 401.7 128.3 404.3C128.9 406.9 130.3 409.5 130.9 412.1C131.4 414.7 131.9 417.9 131.5 419.9C131.2 421.9 129.5 421.1 128.9 424C128.4 426.9 128.4 432.7 128.3 437C128.2 441.3 128.2 445.6 128.3 450C128.4 454.3 128.4 459.1 128.9 463C129.5 466.8 130.4 470.3 131.5 473.3C132.6 476.4 133.9 478.5 135.4 481.1C136.9 483.7 138.7 486.3 140.6 488.9C142.6 491.5 144.7 494.8 147.1 496.7C149.5 498.7 152.3 500 154.9 500.6C157.5 501.3 160.7 499.7 162.7 500.6C164.6 501.5 165.4 503.8 166.6 505.8C167.8 507.7 169.8 510.4 169.8 512.3C169.8 514.1 168.6 515.5 166.6 516.8C164.5 518.1 160.7 519.3 157.5 520.1C154.3 520.9 149.3 520.3 147.1 521.6C144.9 522.9 144.9 526.8 144.5 527.9L81.5 533.6L81.5 315Z"/>
<path fill="#fbfbc8" d="M383.5 316C383.5 317.9 383.3 323.9 383.5 327.2C383.8 330.4 384.4 332.4 384.8 335.5C385.3 338.6 385.8 342.4 386.1 345.9C386.5 349.3 386.6 352.8 386.8 356.2C387 359.7 387.2 363.4 387.4 366.6C387.6 369.9 387.6 372.9 388.1 375.7C388.5 378.5 389.3 381.5 390 383.5C390.8 385.6 391.7 387.8 392.6 388.1C393.6 388.3 394.8 386.4 395.9 384.8C397 383.2 397.9 380.9 399.1 378.3C400.3 375.7 401.7 372.3 403 369.2C404.3 366.2 405.6 363.2 406.9 360.1C408.2 357.1 409.6 354.1 410.8 351.1C412 348 413.2 345 414 342C414.9 338.9 415.6 335.3 416 332.9C416.4 330.4 416.4 330 416.6 327.2C416.9 324.4 417.2 317.9 417.3 316Z"/>
<path fill="#fbfbc8" d="M393.3 392.6C392.6 393 392 396.7 391.3 399.1C390.7 401.5 389.9 404.3 389.4 406.9C388.8 409.5 388.5 411.8 388.1 414.7C387.6 417.5 387.2 421.1 386.8 424C386.4 426.9 385.7 429 385.5 431.8C385.3 434.6 385.2 438.1 385.5 440.9C385.8 443.7 386.6 446.4 387.4 448.7C388.3 450.9 389.5 453.9 390.7 454.5C391.9 455.2 393.6 454 394.6 452.6C395.5 451.2 396.1 448.7 396.5 446.1C397 443.5 397 439.8 397.2 437C397.4 434.2 397.6 432.3 397.8 429.2C398 426.1 398.4 421.4 398.5 418.6C398.6 415.7 398.7 414.5 398.5 412.1C398.3 409.7 397.7 406.9 397.2 404.3C396.6 401.7 395.9 398.4 395.2 396.5C394.6 394.6 393.9 392.2 393.3 392.6Z"/>
<path fill="#fbfbc8" d="M384.8 527.9C384.8 526.8 385.2 524.2 384.8 521.6C384.5 519 383.1 515.6 382.9 512.3C382.7 509 383.1 505.4 383.5 501.9C384 498.4 384.8 495 385.5 491.5C386.1 488.1 386.7 483.9 387.4 481.1C388.2 478.3 388.9 476 390 474.6C391.1 473.2 392.7 472.5 393.9 472.7C395.1 472.9 396.4 473.9 397.2 475.9C397.9 478 397.9 482 398.5 485C399 488.1 399.8 490.9 400.4 494.1C401.1 497.4 401.8 501 402.4 504.5C402.9 508 403.6 512 403.7 514.9C403.8 517.7 403.1 519.5 403 521.6C402.9 523.8 403 526.8 403 527.9Z"/>
<path fill="#fae29e" d="M128.9 316C128.9 317.9 127.6 324.6 128.9 327.2C130.2 329.8 134.5 329.8 136.7 331.6C139 333.4 142.1 336.3 142.6 338.1C143 339.8 140.9 341 139.3 342C137.7 342.9 134.7 343 132.8 343.9C131 344.8 129.5 345.5 128.3 347.2C127.1 348.8 126.3 351.3 125.7 353.7C125 356 124.7 358.6 124.4 361.4C124.1 364.3 124 367.3 123.7 370.5C123.5 373.8 123.3 377.5 123.1 380.9C122.9 384.4 122.5 387.8 122.4 391.3C122.4 394.8 122.6 398.2 122.7 401.7C122.8 405.2 123 408.4 123.1 412.1C123.2 415.8 123.3 419.9 123.1 424C122.9 428.2 122.1 432.7 121.8 437C121.5 441.3 121.3 445.6 121.1 450C121 454.3 121 458.6 121.1 463C121.3 467.3 121 472.3 121.8 475.9C122.6 479.6 124.1 482.2 125.7 485C127.3 487.8 129.5 490.2 131.5 492.8C133.6 495.4 135.6 498.2 138 500.6C140.4 503 143.2 505.4 145.8 507.1C148.4 508.8 152.1 509.9 153.6 511C155.1 512.1 155.6 512.5 154.9 513.6C154.3 514.7 152.3 516.3 149.7 517.5C147.1 518.7 142.1 520 139.3 520.7C136.5 521.4 134.1 520.4 132.8 521.6C131.5 522.8 131.7 526.8 131.5 527.9L81.5 533.6L81.5 315Z"/>
<path fill="#fae29e" d="M386.1 316C386.1 317.9 386.1 323.9 386.1 327.2C386.1 330.4 385.9 332.6 386.1 335.5C386.4 338.4 386.9 341.5 387.4 344.6C388 347.6 388.7 350.8 389.4 353.7C390 356.5 390.5 360.6 391.3 361.4C392.2 362.3 393.5 360.4 394.6 358.8C395.7 357.3 396.8 354.1 397.8 352.4C398.8 350.6 399.3 348.9 400.4 348.5C401.5 348 403 349.8 404.3 349.8C405.6 349.8 407 349.8 408.2 348.5C409.4 347.2 410.5 344.3 411.5 342C412.4 339.6 413.4 336.6 414 334.2C414.7 331.7 415.1 330.2 415.3 327.2C415.6 324.1 415.7 317.9 415.7 316Z"/>
<path fill="#fae29e" d="M394.6 371.8C394.6 372.7 394.3 373.9 394 374.6C393.7 375.2 393.1 375.7 392.6 375.7C392.2 375.7 391.6 375.2 391.2 374.6C390.9 373.9 390.7 372.7 390.7 371.8C390.7 370.9 390.9 369.7 391.2 369.1C391.6 368.4 392.2 367.9 392.6 367.9C393.1 367.9 393.7 368.4 394 369.1C394.3 369.7 394.6 370.9 394.6 371.8Z"/>
<path fill="#fae29e" d="M393.3 441.9C393.3 442.8 393 444 392.7 444.7C392.4 445.3 391.8 445.8 391.3 445.8C390.9 445.8 390.3 445.3 390 444.7C389.6 444 389.4 442.8 389.4 441.9C389.4 441 389.6 439.8 390 439.2C390.3 438.5 390.9 438 391.3 438C391.8 438 392.4 438.5 392.7 439.2C393 439.8 393.3 441 393.3 441.9Z"/>
<path fill="#fae29e" d="M387.4 527.9C387.4 526.8 387.5 524.2 387.4 521.6C387.4 519 387.1 515.6 387.2 512.3C387.2 509 387.4 505.1 387.7 501.9C388 498.7 388.1 495 388.7 492.8C389.3 490.6 390.4 489.4 391.3 488.9C392.3 488.5 393.7 488.7 394.6 490.2C395.4 491.7 396 495.2 396.5 498C397.1 500.8 397.4 504.1 397.8 507.1C398.3 510.1 398.9 513.8 399.1 516.2C399.4 518.6 399.3 519.7 399.4 521.6C399.4 523.6 399.4 526.8 399.4 527.9Z"/>
<path fill="#f9a076" d="M95.2 323.8C94.3 325.1 94.3 329 94.5 331.6C94.7 334.2 95.7 336.6 96.5 339.4C97.2 342.2 98.2 345.2 99.1 348.5C99.9 351.7 100.9 355.6 101.7 358.8C102.4 362.1 103.1 365.3 103.6 367.9C104.2 370.5 104.5 372.3 104.9 374.4C105.3 376.6 105.5 380.9 105.8 380.9C106.1 380.9 106.4 377 106.9 374.4C107.4 371.8 108.2 368.6 108.8 365.3C109.4 362.1 110.1 358.4 110.5 355C110.9 351.5 111.1 347.6 111 344.6C111 341.5 110.8 338.9 110.1 336.8C109.4 334.6 108.1 333 106.9 331.6C105.7 330.2 104.2 329.6 103 328.3C101.8 327 101 324.5 99.7 323.8C98.4 323 96 322.5 95.2 323.8Z"/>
<path fill="#f9a076" d="M106.2 461.7C107 462.1 108.1 464.5 108.8 466.8C109.6 469.2 110 472.5 110.8 475.9C111.5 479.4 112.3 483.7 113.4 487.6C114.4 491.5 116.1 495.8 117.2 499.3C118.4 502.8 120 506 120.5 508.4C121 510.8 121.3 512.2 120.5 513.6C119.7 515 118 516.1 116 516.8C113.9 517.6 110.8 518.1 108.2 518.1C105.6 518.1 102.3 517.8 100.4 516.8C98.4 515.9 97.1 514.1 96.5 512.3C95.8 510.4 96 508.6 96.5 505.8C96.9 503 98.2 499.3 99.1 495.4C99.9 491.5 101 486.5 101.7 482.4C102.3 478.3 102.5 473.8 103 470.7C103.4 467.7 103.7 465.8 104.3 464.2C104.8 462.7 105.5 461.2 106.2 461.7Z"/>
<path fill="#f9a076" d="M390.7 316C390.7 317.9 390.8 324.6 390.7 327.2C390.6 329.8 389.9 330 390 331.6C390.1 333.2 390.6 335.6 391.3 336.8C392.1 338 393.5 338.7 394.6 338.7C395.7 338.7 396.6 337.2 397.8 336.8C399 336.3 400.4 335.8 401.7 336.1C403 336.4 404.5 338 405.6 338.7C406.7 339.5 407.4 340.9 408.2 340.7C409 340.5 409.7 338.7 410.2 337.4C410.6 336.1 411 334.3 410.8 332.9C410.6 331.5 409.7 329.9 408.9 329C408 328 406.2 329.3 405.6 327.2C405.1 325 405.6 317.9 405.6 316Z"/>
<path fill="#d9616e" d="M96.5 330.3C97.1 328.9 98.6 328.3 99.7 328.7C100.8 329.2 102.2 331.2 103 332.9C103.7 334.5 104.4 337.1 104.3 338.7C104.2 340.3 103.3 342.2 102.3 342.6C101.3 343 99.5 342.3 98.4 341.3C97.3 340.3 96.2 338.6 95.8 336.8C95.5 334.9 95.8 331.6 96.5 330.3Z"/>
<path fill="#fbfbc8" d="M91.5 325H95.9V523.6H91.5Z"/>
<path d="M93.2 316.3V531M147.2 316.3V531M201.3 316.3V531M255.4 316.3V531M309.4 316.3V531M363.4 316.3V531M417.5 316.3V531M76.9 522.6H432.9M76.9 490H432.9M76.9 457.4H432.9M76.9 424.8H432.9M76.9 392.1H432.9M76.9 359.5H432.9M76.9 326.9H432.9" stroke="#fff" stroke-opacity="0.05" stroke-width="1.2" fill="none"/>
</g></g>
<g>
<rect x="441.2" y="316.3" width="356" height="214.7" fill="#ebebeb"/>
<path d="M511.8 316.3V531M619.9 316.3V531M728 316.3V531M441.2 490H797.2M441.2 424.8H797.2M441.2 359.5H797.2" stroke="#fff" stroke-width="0.75" fill="none"/>
<path d="M457.7 316.3V531M565.8 316.3V531M673.9 316.3V531M782 316.3V531M441.2 522.6H797.2M441.2 457.4H797.2M441.2 392.1H797.2M441.2 326.9H797.2" stroke="#fff" stroke-width="1.5" fill="none"/>
<g clip-path="url(#c11)">
<rect x="441.2" y="316.3" width="356" height="214.7" fill="#e7f3a9"/>
<path fill="#a9d9a5" d="M619 358.8C617.3 359.3 614.8 359.9 612.4 360.8C610 361.7 606.9 362.6 604.6 364C602.3 365.4 600 367.5 598.8 369.2C597.5 371 596.8 372.7 596.8 374.4C596.8 376.2 598.5 377.9 598.8 379.6C599 381.4 599.5 383.6 598.1 384.8C596.7 386 592.9 386.7 590.3 386.8C587.7 386.9 584.9 386.2 582.5 385.5C580.1 384.7 578.2 383.5 576 382.2C573.9 380.9 571.7 379.1 569.5 377.7C567.4 376.3 565.4 374.5 563 373.8C560.7 373 557.9 372.8 555.3 373.1C552.7 373.5 549.6 374.4 547.5 375.7C545.3 377 543.5 379 542.3 380.9C541.1 382.9 540.3 385.2 540.3 387.4C540.3 389.6 541.7 392 542.3 393.9C542.8 395.8 544.2 397.6 543.6 399.1C542.9 400.6 540.1 401.7 538.4 403C536.6 404.3 534.4 405.4 533.2 406.9C532 408.4 531.3 410.1 531.2 412.1C531.1 414 531.8 416.6 532.5 418.6C533.3 420.6 534.9 421.8 535.8 424C536.6 426.2 537.5 429 537.7 431.8C537.9 434.6 537.1 437.8 537.1 440.9C537.1 443.9 537.5 446.9 537.7 450C537.9 453 537.7 456.5 538.4 459.1C539 461.7 541.1 463.4 541.6 465.5C542.2 467.7 542.1 470.1 541.6 472C541.2 474 539.4 475.5 539 477.2C538.7 479 538.9 480.7 539.7 482.4C540.4 484.2 541.8 486.2 543.6 487.6C545.3 489 547.7 489.9 550.1 490.9C552.4 491.8 554.8 492.9 557.9 493.5C560.9 494 564.8 494 568.2 494.1C571.7 494.2 575.2 494.3 578.6 494.1C582.1 493.9 586 493.2 589 492.8C592 492.4 594.2 491.9 596.8 491.5C599.4 491.1 602 490.3 604.6 490.2C607.2 490.1 610 490.6 612.4 490.9C614.8 491.1 616.2 491.3 619 491.5C621.8 491.7 625.9 491.9 629.4 492.2C632.8 492.4 635.9 492.6 639.8 492.8C643.7 493 648.4 493.4 652.8 493.5C657.1 493.6 661.8 493.7 665.7 493.5C669.6 493.2 672.7 492.9 676.1 492.2C679.6 491.4 683.7 490.3 686.5 488.9C689.3 487.5 691.1 485.9 693 483.7C695 481.6 696.3 478.3 698.2 475.9C700.1 473.6 702.9 471.6 704.7 469.4C706.5 467.3 708 465.3 709.2 463C710.4 460.6 710.8 457.5 711.8 455.2C712.9 452.8 714.6 450.8 715.7 448.7C716.8 446.5 717.7 444.6 718.3 442.2C719 439.8 719.4 437.4 719.6 434.4C719.8 431.4 719.9 427.3 719.6 424C719.3 420.7 718.2 418 717.7 414.7C717.1 411.4 716.7 407.8 716.4 404.3C716.1 400.8 715.7 397.1 715.7 393.9C715.7 390.7 715.8 387.4 716.4 384.8C716.9 382.2 718.6 380.5 719 378.3C719.3 376.2 719.2 374 718.3 371.8C717.5 369.7 715.4 367.7 713.8 365.3C712.2 363 710.8 359.6 708.6 357.5C706.4 355.5 703.4 353.9 700.8 353C698.2 352.1 695.8 352.2 693 352.1C690.2 352 686.7 352 683.9 352.4C681.1 352.7 678.7 353.3 676.1 354.3C673.5 355.3 671.2 357 668.3 358.2C665.5 359.4 662.3 360.5 659.2 361.4C656.2 362.4 653.2 363.3 650.2 364C647.1 364.8 643.9 365.8 641.1 366C638.3 366.2 635.4 366 633.3 365.3C631.1 364.7 629.8 363.3 628.1 362.1C626.4 360.9 624.4 358.7 622.9 358.2C621.4 357.7 620.8 358.4 619 358.8Z"/>
<path fill="#e7f3a9" d="M579.5 401.4C579.5 402.1 579.2 403 578.7 403.5C578.2 403.9 577.4 404.3 576.7 404.3C576 404.3 575.1 403.9 574.7 403.5C574.2 403 573.8 402.1 573.8 401.4C573.8 400.8 574.2 399.9 574.7 399.4C575.1 398.9 576 398.6 576.7 398.6C577.4 398.6 578.2 398.9 578.7 399.4C579.2 399.9 579.5 400.8 579.5 401.4Z"/>
<path fill="#a9d9a5" d="M790.4 340.7C788.7 340.9 782.7 340.2 780.4 342C778.1 343.7 777.7 347.8 776.8 351.1C775.8 354.3 775.1 357.5 774.8 361.4C774.5 365.3 774.9 370.1 774.8 374.4C774.7 378.8 774.4 383.1 774.2 387.4C773.9 391.7 773.6 396.1 773.5 400.4C773.4 404.7 773.3 409.4 773.5 413.4C773.7 417.3 774.5 420.1 774.8 424C775.1 428 775.2 432.7 775.5 437C775.7 441.3 776 445.6 776.4 450C776.7 454.3 777.2 458.6 777.7 463C778.2 467.3 778.9 473.3 779.3 475.9C779.8 478.5 778.5 477.9 780.4 478.5C782.2 479.2 788.7 479.6 790.4 479.8Z"/>
<path fill="#579cc6" d="M790.4 345.9C788.7 346.1 782.3 345.6 780.4 347.2C778.5 348.7 779.3 351.5 779 355C778.6 358.4 778.3 363.6 778 367.9C777.8 372.3 777.8 376.6 777.7 380.9C777.5 385.2 777.4 389.6 777.1 393.9C776.9 398.2 776.4 403.4 776.4 406.9C776.3 410.3 776.5 411.8 776.8 414.7C777 417.5 777.8 420.3 778 424C778.3 427.7 778.3 432.7 778.4 437C778.6 441.3 778.7 445.6 779 450C779.2 454.3 779.5 460.6 779.7 463C780 465.3 778.6 463.9 780.4 464.2C782.2 464.6 788.7 464.8 790.4 464.9Z"/>
<path fill="#579cc6" d="M619 377C617 378.4 616.1 380.1 615 382.2C613.9 384.4 613.4 387.4 612.4 390C611.4 392.6 610 395.2 609.1 397.8C608.3 400.4 607.4 403 607.2 405.6C607 408.2 607.9 411 607.8 413.4C607.7 415.8 607 418.1 606.5 419.9C606.1 421.6 605.7 422.3 605.2 424C604.8 425.8 604.4 428.3 603.9 430.5C603.5 432.7 603.8 435 602.6 437C601.5 438.9 598.6 440.7 596.8 442.2C595 443.7 593 444.8 591.6 446.1C590.2 447.4 588.4 448.6 588.4 450C588.4 451.4 589.8 453.3 591.6 454.5C593.4 455.7 596.8 456.4 599.4 457.1C602 457.9 604.8 458.1 607.2 459.1C609.6 460 611.7 461.4 613.7 463C615.7 464.5 617.3 466.6 619 468.1C620.8 469.7 622 470.8 624.2 472C626.4 473.2 629.8 474 632 475.3C634.1 476.6 635.4 478.2 637.2 479.8C638.9 481.5 640.4 483.7 642.4 485C644.3 486.3 646.3 487.1 648.9 487.6C651.5 488.2 654.7 488.2 658 488.3C661.2 488.4 665.3 488.4 668.3 488.3C671.4 488.2 674.2 488.6 676.1 487.6C678.1 486.6 678.7 484.4 680 482.4C681.3 480.5 682.6 477.9 683.9 475.9C685.2 474 686.8 472.5 687.8 470.7C688.8 469 689.8 467.2 689.8 465.5C689.8 463.9 688.6 462.6 687.8 461C687.1 459.4 685.2 457.5 685.2 455.8C685.2 454.1 686.3 452 687.8 450.6C689.3 449.2 691.9 448.2 694.3 447.4C696.7 446.5 699.9 446.3 702.1 445.4C704.3 444.6 706 443.8 707.3 442.2C708.6 440.6 709.5 437.8 709.9 435.7C710.3 433.5 710 431.1 709.9 429.2C709.8 427.2 709.3 425.8 709.2 424C709.1 422.2 709.3 421 709.2 418.6C709.1 416.2 708.9 412.5 708.6 409.5C708.3 406.5 708.2 403 707.3 400.4C706.4 397.8 704.9 395.8 703.4 393.9C701.9 392 699.4 390.4 698.2 388.7C697 387 696.3 385.2 696.3 383.5C696.3 381.8 697.4 380.1 698.2 378.3C699 376.6 700.6 375.1 700.8 373.1C701 371.2 700.4 368.6 699.5 366.6C698.6 364.7 697.3 362.6 695.6 361.4C693.9 360.3 691.5 360 689.1 359.9C686.7 359.8 683.9 360.1 681.3 360.8C678.7 361.5 676.1 363.2 673.5 364C670.9 364.9 668.8 365.4 665.7 366C662.7 366.5 658.8 366.7 655.4 367.3C651.9 367.8 648.2 368.6 645 369.2C641.7 369.9 638.9 370.4 635.9 371.2C632.8 371.9 629.6 372.8 626.8 373.8C624 374.8 621 375.6 619 377Z"/>
<path fill="#fbfbc8" d="M531.9 316C531.9 317.9 529.7 325 531.9 327.2C534 329.3 541.2 328.2 544.9 329C548.5 329.7 551.9 330.7 554 331.6C556 332.4 557.6 333.2 557.2 334.2C556.8 335.2 553.8 336.4 551.4 337.4C548.9 338.4 545.1 338.9 542.3 340C539.5 341.1 536.9 342.3 534.5 343.9C532.1 345.5 530.2 347.7 528 349.8C525.8 351.8 523.9 354.3 521.5 356.2C519.1 358.2 516.3 359.7 513.7 361.4C511.1 363.2 508.3 364.9 505.9 366.6C503.5 368.4 501.2 369.7 499.4 371.8C497.7 374 496.6 376.8 495.5 379.6C494.4 382.4 493.8 385.9 492.9 388.7C492.1 391.5 491.2 393.7 490.3 396.5C489.5 399.3 488.2 402.6 487.7 405.6C487.3 408.6 488 411.6 487.7 414.7C487.5 417.7 486.9 420.7 486.4 424C486 427.3 485.3 430.9 485.1 434.4C485 437.8 485.4 441.5 485.8 444.8C486.2 448 486.8 450.8 487.7 453.9C488.7 456.9 490.3 459.9 491.6 463C492.9 466 494.3 468.8 495.5 472C496.7 475.3 497.7 479 498.8 482.4C499.9 485.9 500.4 489.8 502 492.8C503.6 495.8 505.9 498.7 508.5 500.6C511.1 502.6 514.6 503.2 517.6 504.5C520.6 505.8 524.2 507.1 526.7 508.4C529.2 509.7 532.3 511 532.5 512.3C532.8 513.6 530.3 515 528 516.2C525.7 517.4 521.7 518.5 518.9 519.4C516.1 520.3 512.8 520.2 511.1 521.6C509.4 523 508.9 526.8 508.5 527.9L445.2 533.6L445.2 457.6L457.5 457.8L458.5 450L459.8 440.9L461.8 431.8L463.7 424L465 418.6L463.1 409.5L460.5 400.4L457.5 392.6L445.2 387L445.2 315Z"/>
<path fill="#fbfbc8" d="M736.5 316C727.5 317.9 737.9 324.8 736.5 327.2C735.1 329.5 730 329.1 728.1 330.3C726.1 331.5 725 332.7 724.8 334.2C724.6 335.7 725.6 337.2 726.8 339.4C728 341.5 730.6 344.6 732 347.2C733.4 349.8 734.4 352.1 735.2 355C736 357.8 736.2 360.8 736.5 364C736.8 367.3 737 371 737.2 374.4C737.3 377.9 737 381.1 737.2 384.8C737.3 388.5 737.7 392.8 737.8 396.5C737.9 400.2 737.9 403.4 737.8 406.9C737.7 410.3 737.2 414.4 737.2 417.3C737.2 420.1 737.7 421.1 737.8 424C737.9 426.9 737.8 430.9 737.8 434.4C737.8 437.8 737.9 441.3 737.8 444.8C737.7 448.2 737.6 451.7 737.2 455.2C736.7 458.6 736.1 462.1 735.2 465.5C734.3 469 733.4 472.5 732 475.9C730.6 479.4 728.5 483.1 726.8 486.3C725 489.6 723.3 492.8 721.6 495.4C719.8 498 718.3 500.2 716.4 501.9C714.4 503.6 712.7 504.9 709.9 505.8C707.1 506.7 703.4 506.8 699.5 507.1C695.6 507.4 690.8 507.5 686.5 507.7C682.2 508 677.9 507.9 673.5 508.4C669.2 508.9 664 510 660.5 511C657.1 512 653.4 513.3 652.8 514.2C652.1 515.2 654.3 516 656.7 516.8C659 517.7 664 518.6 667 519.4C670.1 520.2 673.3 520.2 674.8 521.6C676.3 523 658.6 526.8 676.1 527.9C693.7 528.9 762.8 528.9 780 527.9C797.2 526.8 779.7 523.8 779.3 521.6C779 519.5 778.5 517.5 778 514.9C777.6 512.2 777.3 509 776.8 505.8C776.2 502.6 775.5 498.9 774.8 495.4C774.2 491.9 773.7 488.3 772.9 485C772 481.8 770.8 479.2 769.6 475.9C768.4 472.7 766.7 469 765.7 465.5C764.7 462.1 764.2 458.6 763.8 455.2C763.3 451.7 763.3 448.2 763.1 444.8C762.9 441.3 763 438.5 762.5 434.4C761.9 430.2 760.3 424 759.9 419.9C759.4 415.7 759.7 412.9 759.9 409.5C760.1 406 760.8 402.6 761.2 399.1C761.5 395.6 761.7 392.2 761.8 388.7C761.9 385.2 761.8 381.8 761.8 378.3C761.8 374.9 761.5 371.2 761.8 367.9C762.1 364.7 762.7 361.7 763.8 358.8C764.8 356 766.5 353.7 768.3 351.1C770.2 348.5 772.8 345.4 774.8 343.3C776.8 341.1 777.8 340 780.4 338.1C783 336.1 788.7 335.3 790.4 331.6C792.1 327.9 799.4 318.6 790.4 316C781.4 313.4 745.5 314.1 736.5 316Z"/>
<path fill="#fae29e" d="M469.6 326.4C472.6 326.3 476.1 326.6 480 326.9C483.8 327.2 488.6 327.6 492.9 328.3C497.3 329.1 501.8 330.4 505.9 331.6C510 332.8 515.9 334.2 517.6 335.5C519.3 336.8 517.6 337.6 516.3 339.4C515 341.1 512.2 343.5 509.8 345.9C507.4 348.2 504.6 351.1 502 353.7C499.4 356.2 496.6 358.6 494.2 361.4C491.9 364.3 489.7 367.5 487.7 370.5C485.8 373.6 484.3 377.1 482.5 379.6C480.8 382.1 479.1 384.2 477.4 385.5C475.6 386.7 473.9 387.5 472.2 387.2C470.4 386.8 468.5 385.4 467 383.5C465.5 381.6 464.2 378.8 463.1 375.7C462 372.7 461.2 369 460.5 365.3C459.7 361.7 459 357.5 458.5 353.7C458.1 349.8 457.8 345.4 457.6 342C457.5 338.5 456.9 335.3 457.6 332.9C458.3 330.5 459.8 328.8 461.8 327.7C463.8 326.6 466.5 326.5 469.6 326.4Z"/>
<path fill="#fae29e" d="M448.8 486.3C450.2 485 455.6 481.1 457.5 478.5C459.3 475.9 458.9 473.3 459.8 470.7C460.8 468.1 461.9 464.9 463.1 463C464.3 461 465.5 459.6 467 459.1C468.5 458.5 470.4 458.8 472.2 459.7C473.9 460.6 475.6 462.2 477.4 464.2C479.1 466.3 480.8 469.2 482.5 472C484.3 474.9 486.2 478.1 487.7 481.1C489.3 484.2 490.1 487.2 491.6 490.2C493.2 493.2 494.9 496.7 496.8 499.3C498.8 501.9 501.4 503.8 503.3 505.8C505.3 507.7 507.9 509.4 508.5 511C509.2 512.6 508.3 514.1 507.2 515.5C506.1 516.9 503.8 518.4 502 519.4C500.3 520.4 497.9 520.2 496.8 521.6C495.7 523 495.7 526.8 495.5 527.9L445.2 533.6Z"/>
<path fill="#fae29e" d="M738.4 316C738.4 317.9 739.3 324.6 738.4 327.2C737.6 329.8 733.9 329.8 733.3 331.6C732.6 333.4 733.7 335.9 734.6 338.1C735.4 340.2 736.7 342.6 738.4 344.6C740.2 346.5 742.8 348.5 744.9 349.8C747.1 351.1 749.3 352.2 751.4 352.4C753.6 352.5 755.8 351.5 757.9 350.4C760.1 349.3 762.3 347.4 764.4 345.9C766.6 344.3 768.7 342.7 770.9 341.3C773.1 339.9 775.8 338.4 777.4 337.4C779 336.4 778.2 336.7 780.4 335.5C782.6 334.3 788.7 331.1 790.4 330.3L792.6 315Z"/>
<path fill="#fae29e" d="M722.9 527.9C722.9 526.8 724 523.2 722.9 521.6C721.8 520.1 718.1 519.9 716.4 518.8C714.6 517.7 712.3 516.4 712.5 514.9C712.7 513.4 715.7 511.9 717.7 509.7C719.6 507.5 722.2 504.7 724.2 501.9C726.1 499.1 727.6 496.1 729.4 492.8C731.1 489.6 732.8 485.7 734.6 482.4C736.3 479.2 738 476.2 739.7 473.3C741.5 470.5 743.4 467.9 744.9 465.5C746.5 463.2 747.8 460.5 748.8 459.1C749.9 457.6 750.5 456.9 751.4 457.1C752.4 457.3 753.5 458.7 754.7 460.4C755.9 462 757.2 464.5 758.6 466.8C760 469.2 761.7 472 763.1 474.6C764.5 477.2 765.8 479.6 767 482.4C768.2 485.2 769.3 488.3 770.3 491.5C771.2 494.8 772.1 498.4 772.9 501.9C773.6 505.4 774.2 509 774.8 512.3C775.5 515.6 776.3 519 776.8 521.6C777.2 524.2 777.3 526.8 777.4 527.9Z"/>
<path fill="#f9a076" d="M754.7 330.9C754.5 330 756.1 329 757.3 328.3C758.5 327.7 760.3 327 761.8 326.9C763.3 326.8 765.2 327.1 766.4 327.7C767.6 328.2 768.7 329.4 769 330.3C769.2 331.1 768.6 332.1 767.7 332.9C766.7 333.6 764.6 334.6 763.1 334.8C761.6 335 760 334.8 758.6 334.2C757.2 333.5 754.9 331.9 754.7 330.9Z"/>
<path fill="#f9a076" d="M744.9 527.9C744.9 526.8 745.7 523.3 744.9 521.6C744.2 520 741.5 519.5 740.4 518.1C739.3 516.8 738.3 515.2 738.4 513.6C738.6 512 739.7 510.1 741 508.4C742.3 506.7 744.5 504.5 746.2 503.2C748 501.9 749.8 500.5 751.4 500.3C753.1 500.2 754.5 501.2 756 502.6C757.5 503.9 759.2 506.6 760.5 508.4C761.8 510.2 763.2 511.9 763.8 513.6C764.3 515.3 764.3 517.4 763.8 518.8C763.2 520.1 761.1 520.1 760.5 521.6C760 523.2 760.5 526.8 760.5 527.9Z"/>
<path d="M457.7 316.3V531M511.8 316.3V531M565.8 316.3V531M619.9 316.3V531M673.9 316.3V531M728 316.3V531M782 316.3V531M441.2 522.6H797.2M441.2 490H797.2M441.2 457.4H797.2M441.2 424.8H797.2M441.2 392.1H797.2M441.2 359.5H797.2M441.2 326.9H797.2" stroke="#fff" stroke-opacity="0.05" stroke-width="1.2" fill="none"/>
</g></g>
<g>
<rect x="805.6" y="316.3" width="356" height="214.7" fill="#ebebeb"/>
<path d="M876.3 316.3V531M984.4 316.3V531M1092.5 316.3V531M805.6 490H1161.6M805.6 424.8H1161.6M805.6 359.5H1161.6" stroke="#fff" stroke-width="0.75" fill="none"/>
<path d="M822.3 316.3V531M930.4 316.3V531M1038.5 316.3V531M1146.6 316.3V531M805.6 522.6H1161.6M805.6 457.4H1161.6M805.6 392.1H1161.6M805.6 326.9H1161.6" stroke="#fff" stroke-width="1.5" fill="none"/>
<g clip-path="url(#c12)">
<rect x="805.6" y="316.3" width="356" height="214.7" fill="#579cc6"/>
<path fill="#a9d9a5" d="M812.8 335.5C814.3 336.6 820.2 339.8 822.1 342C824.1 344.1 823.4 345.9 824.5 348.5C825.5 351.1 827.2 354.3 828.4 357.5C829.6 360.8 830.6 365 831.6 367.9C832.6 370.9 833.3 374 834.2 375.1C835.1 376.2 835.9 375.6 836.8 374.4C837.7 373.2 838.4 369.7 839.4 367.9C840.4 366.2 841 365.3 842.7 364C844.3 362.7 846.8 361.3 849.1 360.1C851.5 359 854.1 357.9 856.9 356.9C859.7 355.9 863.4 354.3 866 354.3C868.6 354.3 870.4 356.4 872.5 356.9C874.7 357.4 876.8 358 879 357.5C881.2 357.1 883.1 355.3 885.5 354.3C887.9 353.3 891.1 351.9 893.3 351.7C895.5 351.5 896.8 352 898.5 353C900.2 354 901.9 356 903.7 357.5C905.4 359.1 907.1 360.9 908.9 362.1C910.6 363.3 912.5 364.6 914.1 364.7C915.6 364.8 917.1 363.9 918 362.7C918.8 361.6 918.4 358.7 919.3 357.5C920.1 356.4 921.6 355.6 923.2 355.6C924.7 355.6 927 356.1 928.3 357.5C929.6 359 930.1 362.6 930.9 364C931.8 365.4 932.8 366.6 933.5 366C934.3 365.3 935.1 362.1 935.5 360.1C935.9 358.2 934.9 355.5 936.1 354.3C937.3 353.1 940 353.3 942.6 353C945.2 352.7 948.7 352.5 951.7 352.4C954.7 352.2 957.8 351.9 960.8 352.1C963.8 352.3 967.3 352.7 969.9 353.7C972.5 354.6 974.2 356.6 976.4 357.5C978.6 358.5 981.3 359.7 983 359.5C984.8 359.3 985.5 356.8 986.9 356.2C988.3 355.7 990.1 355.4 991.4 356.2C992.7 357.1 993.3 359.8 994.7 361.4C996.1 363.1 997.9 364.7 999.9 366C1001.8 367.3 1004.2 368 1006.4 369.2C1008.5 370.4 1010.5 372 1012.9 373.1C1015.2 374.2 1018.1 375 1020.7 375.7C1023.2 376.5 1026.3 377.8 1028.4 377.7C1030.6 377.6 1032.1 376 1033.6 375.1C1035.2 374.1 1036.2 372 1037.5 371.8C1038.8 371.6 1040.1 373.9 1041.4 373.8C1042.7 373.7 1043.6 371.8 1045.3 371.2C1047.1 370.5 1050 369.8 1051.8 369.9C1053.7 370 1055.3 370.4 1056.4 371.8C1057.4 373.2 1057.5 375.9 1058.3 378.3C1059.1 380.7 1059.8 383.3 1060.9 386.1C1062 388.9 1063.5 392.6 1064.8 395.2C1066.1 397.8 1067.2 399.7 1068.7 401.7C1070.2 403.6 1072.6 404.7 1073.9 406.9C1075.2 409 1075.8 411.8 1076.5 414.7C1077.1 417.5 1077.8 421.8 1077.8 424C1077.8 426.2 1076 426.4 1076.5 427.9C1076.9 429.4 1079.6 431.1 1080.4 433.1C1081.1 435 1081.2 437.4 1081 439.6C1080.8 441.7 1079.8 443.9 1079.1 446.1C1078.3 448.2 1077.3 450.4 1076.5 452.6C1075.6 454.7 1075 457.1 1073.9 459.1C1072.8 461 1071.3 463.8 1070 464.2C1068.7 464.7 1067.4 462.4 1066.1 461.7C1064.8 460.9 1063.5 459.3 1062.2 459.7C1060.9 460.1 1059.6 462.4 1058.3 464.2C1057 466.1 1055.7 469 1054.4 470.7C1053.1 472.5 1052.5 473.3 1050.5 474.6C1048.6 475.9 1045.1 477.2 1042.7 478.5C1040.3 479.8 1038.4 481.7 1036.2 482.4C1034.1 483.2 1031.9 483.1 1029.7 483.1C1027.6 483.1 1025.2 482.2 1023.2 482.4C1021.3 482.6 1020 483.4 1018.1 484.4C1016.1 485.3 1013.6 487.3 1011.6 488.3C1009.5 489.2 1007.2 489 1005.7 490.2C1004.2 491.4 1003.4 493.5 1002.5 495.4C1001.5 497.4 1001.2 500 999.9 501.9C998.6 503.8 996.6 505.6 994.7 507.1C992.7 508.6 990.1 510.1 988.2 511C986.2 511.9 985 512.1 983 512.3C981 512.5 978.6 512.9 976.4 512.3C974.2 511.6 971.7 509.9 969.9 508.4C968.1 506.9 966.5 505.1 965.3 503.2C964.2 501.3 963.7 498.5 962.8 496.7C961.8 494.9 960.9 493.2 959.5 492.2C958.1 491.1 956.3 490.3 954.3 490.2C952.4 490.1 950.2 491.5 947.8 491.5C945.4 491.5 942.6 490.3 940 490.2C937.4 490.1 934.6 490.6 932.2 490.9C929.9 491.1 927.7 492.1 925.7 491.5C923.8 491 922.5 488.7 920.6 487.6C918.6 486.5 916.2 485 914.1 485C911.9 485 909.3 486.3 907.6 487.6C905.8 488.9 904.8 490.9 903.7 492.8C902.6 494.8 902.1 497.8 901.1 499.3C900.1 500.8 898.9 502.3 897.8 501.9C896.8 501.5 895.8 498.5 894.6 496.7C893.4 494.9 892.1 492.2 890.7 490.9C889.3 489.6 887.7 488.8 886.1 488.9C884.6 489 883 490.4 881.6 491.5C880.2 492.6 879.2 495 877.7 495.4C876.2 495.8 874 495 872.5 494.1C871 493.2 869.9 491.1 868.6 490.2C867.3 489.4 866.2 488.5 864.7 488.9C863.2 489.4 861.3 491.8 859.5 492.8C857.8 493.8 856.1 494.7 854.3 494.8C852.6 494.9 850.9 493.1 849.1 493.5C847.4 493.8 845.7 495.3 844 496.7C842.2 498.1 840.7 500 838.8 501.9C836.8 503.8 833.9 506.2 832.3 508.4C830.6 510.6 829.5 512.7 829 514.9C828.6 517.1 829.6 519.5 829.7 521.6C829.8 523.8 829.7 526.8 829.7 527.9L1156.9 533.6L1156.9 315L810.1 315Z"/>
<path fill="#a9d9a5" d="M839.4 401.7C839.5 399.7 839.9 396.3 840.7 393.9C841.5 391.5 842.5 388.9 844 387.4C845.4 385.9 847.4 385 849.1 384.8C850.9 384.6 852.8 386.3 854.3 386.1C855.9 385.9 857 384.2 858.2 383.5C859.4 382.9 860.4 381.8 861.5 382.2C862.6 382.6 863.5 384.6 864.7 386.1C865.9 387.6 867.4 389.6 868.6 391.3C869.8 393 871.3 394.6 871.9 396.5C872.4 398.4 872.4 401.3 871.9 403C871.3 404.7 870 406.6 868.6 406.9C867.2 407.2 865.2 405.4 863.4 404.9C861.7 404.5 860 404.8 858.2 404.3C856.5 403.7 854.8 401.8 853 401.7C851.3 401.6 849.6 402.8 847.8 403.6C846.1 404.5 844 406.6 842.7 406.9C841.4 407.2 840.6 406.5 840.1 405.6C839.5 404.7 839.3 403.6 839.4 401.7Z"/>
<path fill="#e7f3a9" d="M862.1 393.9C862.1 394.8 861.9 396 861.6 396.7C861.2 397.3 860.6 397.8 860.2 397.8C859.7 397.8 859.1 397.3 858.8 396.7C858.5 396 858.2 394.8 858.2 393.9C858.2 393 858.5 391.8 858.8 391.1C859.1 390.5 859.7 390 860.2 390C860.6 390 861.2 390.5 861.6 391.1C861.9 391.8 862.1 393 862.1 393.9Z"/>
<path fill="#a9d9a5" d="M1040.8 377.7C1041.8 377.7 1042.9 381.5 1044 383.5C1045.1 385.6 1046.5 388.1 1047.3 390C1048 392 1048.7 393.5 1048.6 395.2C1048.5 396.9 1047.5 398.8 1046.6 400.4C1045.8 402 1044.6 403.9 1043.4 404.9C1042.2 406 1040.5 407.2 1039.5 406.9C1038.5 406.6 1037.7 404.7 1037.3 403C1036.8 401.3 1037 398.7 1036.9 396.5C1036.8 394.3 1036.3 392.2 1036.5 390C1036.7 387.8 1037.5 385.6 1038.2 383.5C1038.9 381.5 1039.8 377.7 1040.8 377.7Z"/>
<path fill="#579cc6" d="M1076.7 383.5C1076.9 382.3 1077.6 381.1 1078.4 380.9C1079.3 380.7 1080.7 381.2 1081.7 382.2C1082.6 383.2 1083.7 385.4 1084 386.8C1084.3 388.2 1084.2 389.9 1083.6 390.7C1083 391.4 1081.4 391.5 1080.4 391C1079.4 390.6 1078.4 389.3 1077.8 388.1C1077.2 386.8 1076.6 384.7 1076.7 383.5Z"/>
<path fill="#e7f3a9" d="M823.2 316C823.2 318.2 823.1 325.7 823.2 329C823.3 332.2 823.3 333.1 823.8 335.5C824.4 337.9 825.2 340.9 826.4 343.3C827.6 345.6 829.7 347.4 831 349.8C832.3 352.1 833.2 355.6 834.2 357.5C835.2 359.5 836.1 361.4 836.8 361.4C837.6 361.4 838 359 838.8 357.5C839.5 356.1 839.8 354.1 841.4 353C842.9 351.9 845.2 351.7 847.8 351.1C850.4 350.4 854.1 349.8 856.9 349.1C859.7 348.5 862.8 347.6 864.7 347.2C866.7 346.7 867.3 345.9 868.6 346.5C869.9 347.2 871.2 350 872.5 351.1C873.8 352.1 874.7 353.3 876.4 353C878.1 352.7 880.7 350.4 882.9 349.1C885.1 347.8 887.2 346.2 889.4 345.2C891.6 344.2 893.9 343.2 895.9 343.3C897.8 343.4 899.1 344.5 901.1 345.9C903 347.3 905.6 351.4 907.6 351.7C909.5 352 910.8 348.7 912.8 347.8C914.7 346.9 916.9 346.6 919.3 346.5C921.6 346.4 924.7 347.5 927 347.2C929.4 346.8 931.6 344.9 933.5 344.6C935.5 344.2 936.8 344.8 938.7 345.2C940.7 345.6 943.1 347.1 945.2 347.2C947.4 347.3 949.6 346 951.7 345.9C953.9 345.8 955.8 346.2 958.2 346.5C960.6 346.8 963.6 347.2 966 347.8C968.4 348.5 970.5 349.5 972.5 350.4C974.4 351.3 975.9 352.5 977.7 353C979.4 353.5 981.3 354.1 983 353.7C984.8 353.2 986 350.8 988.2 350.4C990.4 350 993.4 350.6 996 351.1C998.6 351.5 1001.8 351.9 1003.8 353C1005.7 354.1 1006.4 355.9 1007.7 357.5C1009 359.2 1009.8 361 1011.6 362.7C1013.3 364.5 1015.7 366.5 1018.1 367.9C1020.4 369.3 1023.9 370.5 1025.8 371.2C1027.8 371.8 1028.2 372.4 1029.7 371.8C1031.3 371.3 1033 369.1 1034.9 367.9C1036.9 366.7 1039.3 365.6 1041.4 364.7C1043.6 363.8 1046 363.2 1047.9 362.7C1049.9 362.3 1051.6 361.9 1053.1 362.1C1054.6 362.3 1055.7 363.1 1057 364C1058.3 365 1059.4 366.9 1060.9 367.9C1062.4 369 1063.9 370.2 1066.1 370.5C1068.3 370.9 1071.5 369.7 1073.9 369.9C1076.3 370.1 1078.4 370.6 1080.4 371.8C1082.3 373 1084.2 374.9 1085.6 377C1087 379.2 1088.1 382 1088.8 384.8C1089.6 387.6 1090.1 391.1 1090.1 393.9C1090.1 396.7 1089.6 399.3 1088.8 401.7C1088.1 404.1 1086.5 406 1085.6 408.2C1084.6 410.3 1083 412.7 1083 414.7C1083 416.6 1084.3 418.7 1085.6 419.9C1086.9 421.1 1089.5 421.1 1090.8 421.8C1092.1 422.5 1093.4 422.8 1093.4 424C1093.4 425.3 1091.8 427 1090.8 429.2C1089.7 431.4 1088.2 434.2 1086.9 437C1085.6 439.8 1084.3 443 1083 446.1C1081.7 449.1 1080.4 452.3 1079.1 455.2C1077.8 458 1076.5 460.8 1075.2 463C1073.9 465.1 1072.8 467.2 1071.3 468.1C1069.8 469.1 1067.9 468.8 1066.1 468.8C1064.3 468.8 1061.9 467.5 1060.3 468.1C1058.6 468.8 1057.8 471.2 1056.4 472.7C1055 474.2 1053.9 475.8 1051.8 477.2C1049.8 478.6 1046.6 479.8 1044 481.1C1041.4 482.4 1038.8 484.2 1036.2 485C1033.6 485.9 1030.8 486.1 1028.4 486.3C1026.1 486.5 1024.1 485.9 1022 486.3C1019.8 486.8 1017.6 488.1 1015.5 488.9C1013.3 489.8 1010.6 490.2 1009 491.5C1007.3 492.8 1006.7 494.5 1005.7 496.7C1004.7 498.9 1004.3 502.1 1003.1 504.5C1001.9 506.9 1000 509 998.6 511C997.2 512.9 995.6 514.4 994.7 516.2C993.8 518 993.6 519.7 993.4 521.6C993.2 523.6 993.4 526.8 993.4 527.9L1156.9 533.6L1156.9 315Z"/>
<path fill="#e7f3a9" d="M834.9 514.9C835.1 513.7 835.9 512 837.5 511C839 510 842 509.7 844 509C845.9 508.4 848 508.2 849.1 507.1C850.3 506 850.3 503.5 851.1 502.6C851.8 501.6 852.7 500.7 853.7 501.3C854.7 501.8 855.9 504.2 856.9 505.8C858 507.4 859.5 509.5 860.2 511C860.8 512.5 861.4 513.6 860.8 514.9C860.3 516.2 858.9 518 856.9 518.8C855 519.5 851.7 519.5 849.1 519.4C846.5 519.3 843.5 518.3 841.4 518.1C839.2 517.9 837.2 518.7 836.2 518.1C835.1 517.6 834.6 516.1 834.9 514.9Z"/>
<path fill="#e7f3a9" d="M867.3 527.9C867.3 526.8 868 523.4 867.3 521.6C866.7 519.9 864.2 519 863.4 517.5C862.7 515.9 862.3 514.5 862.8 512.3C863.2 510.1 864.8 506.7 866 504.5C867.2 502.3 868.4 500 869.9 499.3C871.4 498.7 873.5 500.8 875.1 500.6C876.7 500.4 878.4 499.5 879.7 498C881 496.5 881.7 492.9 882.9 491.5C884.1 490.1 885.5 489.4 886.8 489.6C888.1 489.8 889.6 491.2 890.7 492.8C891.8 494.4 892.5 496.9 893.3 499.3C894 501.7 894.8 504.5 895.2 507.1C895.7 509.7 896.1 512.5 895.9 514.9C895.7 517.3 894.3 519.5 893.9 521.6C893.6 523.8 893.9 526.8 893.9 527.9Z"/>
<path fill="#e7f3a9" d="M905 527.9C905 526.8 905.5 523.8 905 521.6C904.4 519.5 902.4 517.3 901.7 514.9C901.1 512.5 900.9 509.9 901.1 507.1C901.3 504.3 902.2 500.8 903 498C903.9 495.2 904.4 492.2 906.3 490.2C908.1 488.3 911.7 486.5 914.1 486.3C916.4 486.1 918.6 487.8 920.6 488.9C922.5 490 923.6 492.3 925.7 492.8C927.9 493.4 930.9 492.4 933.5 492.2C936.1 491.9 938.9 491.4 941.3 491.5C943.7 491.6 945.7 492.9 947.8 492.8C950 492.7 952.4 490.8 954.3 490.9C956.3 491 958.1 492.1 959.5 493.5C960.9 494.9 962 497 962.8 499.3C963.5 501.6 964.2 504.5 964 507.1C963.9 509.7 963.1 512.6 962.1 514.9C961.1 517.2 959.1 518.6 958.2 520.7C957.3 522.9 957.1 526.7 956.9 527.9Z"/>
<path fill="#a9d9a5" d="M1134.6 316C1134.6 317.9 1134.9 323.9 1134.6 327.2C1134.4 330.4 1134 332.6 1133.4 335.5C1132.7 338.4 1131.7 341.5 1130.8 344.6C1129.8 347.6 1128.3 350.6 1127.5 353.7C1126.8 356.7 1126.4 359.5 1126.2 362.7C1126 366 1126.2 369.7 1126.2 373.1C1126.2 376.6 1126.3 380.1 1126.2 383.5C1126.1 387 1125.7 390.4 1125.8 393.9C1125.9 397.4 1126.6 400.8 1126.9 404.3C1127.1 407.8 1127.6 411.4 1127.5 414.7C1127.5 418 1126.8 420.3 1126.6 424C1126.4 427.7 1126.7 432.7 1126.6 437C1126.5 441.3 1126.3 445.6 1126.2 450C1126.1 454.3 1126.1 458.6 1126.2 463C1126.3 467.3 1126.6 471.6 1126.9 475.9C1127.1 480.3 1127.1 485.2 1127.5 488.9C1127.9 492.6 1128.5 495.4 1129.5 498C1130.4 500.6 1132.1 502.6 1133.4 504.5C1134.6 506.4 1136.3 507.7 1137.2 509.7C1138.2 511.6 1138.9 514.2 1139.2 516.2C1139.5 518.2 1139.2 519.7 1139.2 521.6C1139.2 523.6 1139.2 526.8 1139.2 527.9L1156.9 533.6L1156.9 315Z"/>
<path fill="#579cc6" d="M1136.2 316C1136.2 317.9 1136.4 323.9 1136.2 327.2C1136 330.4 1135.6 332.6 1134.9 335.5C1134.3 338.4 1133.3 341.5 1132.3 344.6C1131.3 347.6 1129.8 350.6 1129.1 353.7C1128.3 356.7 1128 359.5 1127.8 362.7C1127.6 366 1127.8 369.7 1127.8 373.1C1127.8 376.6 1127.8 380.1 1127.8 383.5C1127.7 387 1127.3 390.4 1127.4 393.9C1127.5 397.4 1128.1 400.8 1128.4 404.3C1128.7 407.8 1129.1 411.4 1129.1 414.7C1129 418 1128.3 420.3 1128.2 424C1128 427.7 1128.2 432.7 1128.2 437C1128.1 441.3 1127.8 445.6 1127.8 450C1127.7 454.3 1127.7 458.6 1127.8 463C1127.9 467.3 1128.2 471.6 1128.4 475.9C1128.6 480.3 1128.6 485.2 1129.1 488.9C1129.5 492.6 1130 495.4 1131 498C1132 500.6 1133.6 502.6 1134.9 504.5C1136.2 506.4 1137.8 507.7 1138.8 509.7C1139.8 511.6 1140.4 514.2 1140.8 516.2C1141.1 518.2 1140.8 519.7 1140.8 521.6C1140.8 523.6 1140.8 526.8 1140.8 527.9L1156.9 533.6L1156.9 315Z"/>
<path fill="#fbfbc8" d="M830.3 330.3C831 328.6 833 326.8 834.9 326.4C836.7 326 839.4 326.6 841.4 327.7C843.3 328.8 846.5 331 846.5 332.9C846.5 334.7 843.3 337.5 841.4 338.7C839.4 339.9 836.6 340.3 834.9 340C833.1 339.7 831.7 338.4 831 336.8C830.2 335.2 829.7 332 830.3 330.3Z"/>
<path fill="#fbfbc8" d="M1005.1 316C983.5 317.9 1006.6 325.1 1005.1 327.2C1003.6 329.2 998.8 327.5 996 328.3C993.2 329.2 988.6 331 988.2 332.2C987.8 333.4 991.4 334.6 993.4 335.5C995.3 336.3 997.7 336.6 999.9 337.4C1002 338.3 1004.2 339.7 1006.4 340.7C1008.5 341.6 1010.3 342.5 1012.9 343.3C1015.5 344 1018.9 344.5 1022 345.2C1025 346 1028.4 347.3 1031 347.8C1033.6 348.4 1035.4 348.7 1037.5 348.5C1039.7 348.2 1041.9 346.6 1044 346.5C1046.2 346.4 1048.4 347.1 1050.5 347.8C1052.7 348.6 1054.4 350.2 1057 351.1C1059.6 351.9 1062.8 352.6 1066.1 353C1069.3 353.4 1073.2 353.2 1076.5 353.7C1079.7 354.1 1082.8 354.7 1085.6 355.6C1088.4 356.5 1091.2 357.4 1093.4 358.8C1095.5 360.3 1097 362.1 1098.6 364C1100.1 366 1101.2 367.9 1102.4 370.5C1103.7 373.1 1105.3 376.6 1106.3 379.6C1107.4 382.6 1108.3 385.5 1108.9 388.7C1109.6 392 1109.9 395.6 1110.2 399.1C1110.6 402.6 1110.7 405.3 1110.9 409.5C1111.1 413.6 1111.1 420.7 1111.5 424C1112 427.3 1113.4 426.8 1113.5 429.2C1113.6 431.6 1112.6 435 1112.2 438.3C1111.8 441.5 1111.4 445.4 1110.9 448.7C1110.3 451.9 1109.6 454.9 1108.9 457.8C1108.3 460.6 1107.9 463.4 1107 465.5C1106.1 467.7 1105.2 469.2 1103.7 470.7C1102.3 472.3 1100.5 473.6 1098.6 474.6C1096.6 475.7 1094 476.2 1092.1 477.2C1090.1 478.3 1088.4 479.6 1086.9 481.1C1085.4 482.6 1084.7 484.8 1083 486.3C1081.2 487.8 1078.9 489.4 1076.5 490.2C1074.1 491.1 1071.3 491.4 1068.7 491.5C1066.1 491.6 1063.5 490.8 1060.9 490.9C1058.3 491 1055.7 491.5 1053.1 492.2C1050.5 492.8 1047.9 493.6 1045.3 494.8C1042.7 496 1039.9 497.9 1037.5 499.3C1035.2 500.7 1032.7 501.7 1031 503.2C1029.4 504.7 1028.1 506.4 1027.8 508.4C1027.5 510.3 1028.1 512.7 1029.1 514.9C1030.1 517.1 1032.8 519.5 1033.6 521.6C1034.5 523.8 1016.8 526.8 1034.3 527.9C1051.8 528.9 1121.5 528.9 1138.8 527.9C1156.1 526.8 1138.6 523.6 1138.2 521.6C1137.7 519.7 1137.2 518.2 1136.2 516.2C1135.2 514.2 1133.6 511.9 1132.3 509.7C1131 507.5 1129.7 505.6 1128.4 503.2C1127.1 500.8 1125.6 498.2 1124.5 495.4C1123.4 492.6 1122.7 489.6 1121.9 486.3C1121.2 483.1 1120.4 479.4 1120 475.9C1119.5 472.5 1119.4 469 1119.3 465.5C1119.2 462.1 1119.2 458.6 1119.3 455.2C1119.4 451.7 1119.9 448.2 1120 444.8C1120.1 441.3 1120.1 437.8 1120 434.4C1119.9 430.9 1119.3 428.6 1119.3 424C1119.3 419.4 1119.8 411.9 1120 406.9C1120.2 401.9 1120.4 397.8 1120.6 393.9C1120.8 390 1121 387 1121.3 383.5C1121.6 380.1 1122.1 376.6 1122.6 373.1C1123 369.7 1123.3 366 1123.9 362.7C1124.4 359.5 1124.8 357.1 1125.8 353.7C1126.8 350.2 1128.4 346.4 1129.7 342C1131 337.6 1132.9 331.5 1133.6 327.2C1134.4 322.8 1155.7 317.9 1134.3 316C1112.8 314.1 1026.6 314.1 1005.1 316Z"/>
<path fill="#fbfbc8" d="M891.7 505.8C891.7 507.5 891.5 509.5 891.1 511C890.7 512.5 890 513.9 889.3 514.8C888.6 515.7 887.6 516.2 886.8 516.2C886 516.2 885 515.7 884.3 514.8C883.6 513.9 882.9 512.5 882.5 511C882.1 509.5 881.9 507.5 881.9 505.8C881.9 504.1 882.1 502.1 882.5 500.6C882.9 499.1 883.6 497.7 884.3 496.8C885 495.9 886 495.4 886.8 495.4C887.6 495.4 888.6 495.9 889.3 496.8C890 497.7 890.7 499.1 891.1 500.6C891.5 502.1 891.7 504.1 891.7 505.8Z"/>
<path fill="#fbfbc8" d="M926.1 505.8C926.1 508.1 925.7 510.5 925 512.6C924.4 514.6 923.2 516.6 922 518C920.7 519.4 919.1 520.5 917.6 521C916 521.5 914.2 521.5 912.6 521C911.1 520.5 909.5 519.4 908.2 518C907 516.6 905.9 514.6 905.2 512.6C904.5 510.5 904.1 508.1 904.1 505.8C904.1 503.5 904.5 501.1 905.2 499C905.9 497 907 495 908.2 493.6C909.5 492.2 911.1 491.1 912.6 490.6C914.2 490.1 916 490.1 917.6 490.6C919.1 491.1 920.7 492.2 922 493.6C923.2 495 924.4 497 925 499C925.7 501.1 926.1 503.5 926.1 505.8Z"/>
<path fill="#fbfbc8" d="M945.2 507.1C945.2 508.1 944.8 509.2 944 510C943.3 510.9 942.1 511.7 940.8 512.2C939.5 512.6 937.9 512.9 936.4 512.9C934.9 512.9 933.3 512.6 932 512.2C930.7 511.7 929.5 510.9 928.7 510C928 509.2 927.6 508.1 927.6 507.1C927.6 506.1 928 505 928.7 504.2C929.5 503.3 930.7 502.5 932 502C933.3 501.5 934.9 501.3 936.4 501.3C937.9 501.3 939.5 501.5 940.8 502C942.1 502.5 943.3 503.3 944 504.2C944.8 505 945.2 506.1 945.2 507.1Z"/>
<path fill="#fbfbc8" d="M959.1 506.2C959.1 507.3 958.8 508.7 958.3 509.6C957.8 510.5 957 511.4 956.2 511.7C955.5 512.1 954.5 512.1 953.7 511.7C952.9 511.4 952.1 510.5 951.6 509.6C951.1 508.7 950.8 507.3 950.8 506.2C950.8 505 951.1 503.7 951.6 502.8C952.1 501.8 952.9 501 953.7 500.6C954.5 500.3 955.5 500.3 956.2 500.6C957 501 957.8 501.8 958.3 502.8C958.8 503.7 959.1 505 959.1 506.2Z"/>
<path fill="#fae29e" d="M1020.7 316C1020.7 317.9 1022.3 325 1020.7 327.2C1019 329.3 1013.1 328 1010.9 329C1008.8 329.9 1008 331.6 1007.7 332.9C1007.3 334.2 1007.5 335.9 1009 336.8C1010.5 337.6 1013.9 337.6 1016.8 338.1C1019.6 338.5 1022.8 338.8 1025.8 339.4C1028.9 339.9 1031.9 341.1 1034.9 341.3C1038 341.5 1041 340.3 1044 340.7C1047.1 341 1049.9 342.5 1053.1 343.3C1056.4 344 1060 344.6 1063.5 345.2C1067 345.9 1070.4 346.4 1073.9 347.2C1077.3 347.9 1081 348.8 1084.3 349.8C1087.5 350.7 1090.8 351.7 1093.4 353C1096 354.3 1097.9 355.7 1099.9 357.5C1101.8 359.4 1103.3 361.7 1105 364C1106.8 366.4 1108.7 369.4 1110.2 371.8C1111.8 374.2 1113.1 376.6 1114.1 378.3C1115.2 380.1 1116 382.4 1116.7 382.2C1117.5 382 1118.1 379.2 1118.7 377C1119.2 374.9 1119.4 372 1120 369.2C1120.5 366.4 1121.1 363.2 1121.9 360.1C1122.8 357.1 1124 354.1 1125.2 351.1C1126.4 348 1127.9 344.8 1129.1 342C1130.3 339.2 1131.4 336.6 1132.3 334.2C1133.2 331.7 1133.8 330.2 1134.3 327.2C1134.7 324.1 1134.8 317.9 1134.9 316Z"/>
<path fill="#fae29e" d="M1050.5 527.9C1050.5 526.8 1051.5 523.4 1050.5 521.6C1049.5 519.9 1046 519.3 1044.7 517.5C1043.4 515.7 1042.6 513.2 1042.7 511C1042.8 508.8 1043.8 506.3 1045.3 504.5C1046.8 502.7 1049.2 500.9 1051.8 500C1054.4 499 1057.7 498.8 1060.9 498.7C1064.1 498.5 1067.8 499.2 1071.3 499.3C1074.8 499.4 1078.4 499.6 1081.7 499.3C1084.9 499 1088.2 498.4 1090.8 497.4C1093.4 496.3 1095.5 494.7 1097.3 492.8C1099 491 1099.9 488.5 1101.2 486.3C1102.4 484.2 1103.6 481.6 1105 479.8C1106.5 478.1 1108.1 476.7 1109.6 475.9C1111.1 475.2 1112.8 474.9 1114.1 475.3C1115.4 475.7 1116.6 476.9 1117.4 478.5C1118.1 480.2 1118.1 482.6 1118.7 485C1119.2 487.4 1119.8 490.2 1120.6 492.8C1121.5 495.4 1122.7 498.2 1123.9 500.6C1125.1 503 1126.5 504.9 1127.8 507.1C1129.1 509.3 1130.5 511.2 1131.7 513.6C1132.9 516 1134.3 519.3 1134.9 521.6C1135.6 524 1135.4 526.8 1135.6 527.9Z"/>
<path fill="#fae29e" d="M889.4 505.8C889.4 507.1 889.2 508.6 888.9 509.6C888.6 510.6 888.1 511.6 887.6 512C887.1 512.4 886.5 512.4 886 512C885.5 511.6 885 510.6 884.7 509.6C884.4 508.6 884.2 507.1 884.2 505.8C884.2 504.5 884.4 503 884.7 502C885 501 885.5 500 886 499.6C886.5 499.2 887.1 499.2 887.6 499.6C888.1 500 888.6 501 888.9 502C889.2 503 889.4 504.5 889.4 505.8Z"/>
<path fill="#fae29e" d="M923.9 506.4C923.9 508.3 923.6 510.4 923.1 512.1C922.5 513.8 921.6 515.4 920.6 516.6C919.6 517.8 918.3 518.7 917.1 519.1C915.8 519.5 914.4 519.5 913.1 519.1C911.9 518.7 910.6 517.8 909.6 516.6C908.6 515.4 907.7 513.8 907.1 512.1C906.6 510.4 906.3 508.3 906.3 506.4C906.3 504.6 906.6 502.5 907.1 500.8C907.7 499.1 908.6 497.5 909.6 496.3C910.6 495.1 911.9 494.2 913.1 493.8C914.4 493.4 915.8 493.4 917.1 493.8C918.3 494.2 919.6 495.1 920.6 496.3C921.6 497.5 922.5 499.1 923.1 500.8C923.6 502.5 923.9 504.6 923.9 506.4Z"/>
<path fill="#f9a076" d="M1084.3 316C1084.3 317.9 1085.8 325.1 1084.3 327.2C1082.8 329.2 1077.6 327.5 1075.2 328.3C1072.8 329.2 1070.2 331.1 1070 332.2C1069.8 333.3 1071.9 334.1 1073.9 334.8C1075.8 335.6 1078.9 336.3 1081.7 336.8C1084.5 337.2 1088.2 337 1090.8 337.4C1093.4 337.9 1095.1 338.4 1097.3 339.4C1099.4 340.3 1101.6 342.2 1103.7 343.3C1105.9 344.3 1108.1 345.3 1110.2 345.9C1112.4 346.4 1114.7 346.8 1116.7 346.5C1118.8 346.2 1120.8 345.1 1122.6 343.9C1124.3 342.7 1125.9 341.2 1127.1 339.4C1128.3 337.5 1129.2 334.9 1129.7 332.9C1130.3 330.8 1130.2 330 1130.4 327.2C1130.5 324.4 1130.6 317.9 1130.6 316Z"/>
<path fill="#f9a076" d="M1098.6 527.9C1098.6 526.8 1098.4 523.6 1098.6 521.6C1098.7 519.7 1098.3 518 1099.2 516.2C1100.1 514.4 1101.9 512.3 1103.7 511C1105.6 509.7 1107.9 508.7 1110.2 508.4C1112.6 508.1 1115.6 508.6 1118 509C1120.4 509.5 1122.9 510 1124.5 511C1126.1 512 1127.1 513.1 1127.8 514.9C1128.4 516.7 1128.3 519.5 1128.4 521.6C1128.5 523.8 1128.4 526.8 1128.4 527.9Z"/>
<path fill="#f9a076" d="M912.8 503.2C913.1 502 914.6 502.1 915.4 502.6C916.1 503 917.1 504.7 917.3 505.8C917.5 506.9 917.3 508.4 916.7 509C916 509.7 914.1 510.7 913.4 509.7C912.8 508.7 912.4 504.4 912.8 503.2Z"/>
<path fill="#d9616e" d="M1108.9 316C1108.9 317.9 1109.8 325.1 1108.9 327.2C1108.1 329.2 1105.2 327.5 1103.7 328.3C1102.3 329.2 1100.7 331 1100.5 332.2C1100.3 333.4 1101.3 334.3 1102.4 335.5C1103.6 336.7 1105.7 338.4 1107.6 339.4C1109.6 340.3 1112 340.9 1114.1 341.3C1116.3 341.8 1118.8 342.3 1120.6 342C1122.5 341.6 1124 340.7 1125.2 339.4C1126.4 338.1 1127.2 336.2 1127.8 334.2C1128.3 332.1 1128.3 330.2 1128.4 327.2C1128.5 324.1 1128.4 317.9 1128.4 316Z"/>
<path fill="#d9616e" d="M1120 527.9C1120 526.8 1119.9 523.3 1120 521.6C1120.1 520 1120.2 519 1120.6 518.1C1121.1 517.2 1121.9 516.2 1122.6 516.2C1123.2 516.2 1124.2 517.2 1124.5 518.1C1124.9 519 1124.7 520 1124.8 521.6C1124.8 523.3 1124.8 526.8 1124.8 527.9Z"/>
<path d="M822.3 316.3V531M876.3 316.3V531M930.4 316.3V531M984.4 316.3V531M1038.5 316.3V531M1092.5 316.3V531M1146.6 316.3V531M805.6 522.6H1161.6M805.6 490H1161.6M805.6 457.4H1161.6M805.6 424.8H1161.6M805.6 392.1H1161.6M805.6 359.5H1161.6M805.6 326.9H1161.6" stroke="#fff" stroke-opacity="0.05" stroke-width="1.2" fill="none"/>
</g></g>
<g>
<rect x="76.9" y="540.8" width="356" height="214.5" fill="#ebebeb"/>
<path d="M147.2 540.8V755.3M255.4 540.8V755.3M363.4 540.8V755.3M76.9 713H432.9M76.9 648H432.9M76.9 582.8H432.9" stroke="#fff" stroke-width="0.75" fill="none"/>
<path d="M93.2 540.8V755.3M201.3 540.8V755.3M309.4 540.8V755.3M417.5 540.8V755.3M76.9 745.6H432.9M76.9 680.5H432.9M76.9 615.4H432.9M76.9 550.3H432.9" stroke="#fff" stroke-width="1.5" fill="none"/>
<g clip-path="url(#c20)">
<rect x="76.9" y="540.8" width="356" height="214.5" fill="#a9d9a5"/>
<path fill="#579cc6" d="M212 575.1C212 573.6 213.3 571.1 214.6 569.9C215.9 568.6 218.1 567.8 219.8 567.5C221.6 567.2 223.8 567.2 225 567.9C226.2 568.6 226.2 570.7 227 571.8C227.7 572.9 228.2 574 229.6 574.4C231 574.8 233.8 574.8 235.4 574.4C237 574 237.6 572.1 239.3 571.8C241 571.5 243.2 572.4 245.8 572.5C248.4 572.6 252.8 572.6 255 572.5C257.2 572.4 257.7 572.6 258.9 571.8C260.1 571.1 261.4 569.2 262.1 567.9C262.9 566.6 262.7 564.6 263.4 564C264.2 563.5 265.5 564.2 266.7 564.7C267.9 565.1 269.1 566.2 270.6 566.6C272.1 567 274 567.5 275.8 567.3C277.5 567 279.6 566.4 281 565.3C282.4 564.2 283.5 562.4 284.2 560.8C284.9 559.2 285.2 557.1 285.1 555.6C285 554.1 284.3 554.3 283.6 551.7C282.9 549.1 265 541.9 281 540C297 538.1 363.2 538.3 379.6 540C396.1 541.7 380.5 547.7 379.6 550.1C378.8 552.5 375.9 552.7 374.4 554.3C373 555.8 371.7 557.5 371.2 559.5C370.7 561.4 370.7 564 371.2 566C371.7 567.9 373 569.6 374.4 571.2C375.9 572.7 377.9 573.8 379.6 575.1C381.4 576.4 383.6 577.4 384.8 579C386 580.5 387 583.2 386.8 584.1C386.6 585.1 385.2 584.9 383.5 584.8C381.9 584.7 379.2 583.7 377 583.5C374.9 583.3 371.7 582.8 370.6 583.5C369.4 584.1 369.5 585.8 369.9 587.4C370.3 589 372 591.2 373.2 593.2C374.3 595.3 375.5 597.9 377 599.7C378.6 601.6 380.7 603 382.2 604.3C383.8 605.6 385.3 606.1 386.1 607.5C387 608.9 387.6 611 387.4 612.7C387.2 614.4 385.9 616.5 384.8 617.9C383.8 619.3 381.3 620.1 380.9 621.1C380.6 622.2 381.8 624 382.9 624.4C384 624.8 386.2 623.1 387.4 623.7C388.6 624.4 389.4 626.4 390 628.3C390.7 630.1 391.1 632.6 391.3 634.8C391.5 636.9 391.5 639.1 391.3 641.3C391.2 643.5 390.4 646 390.3 648C390.2 650 391 651.2 390.7 653.2C390.3 655.1 388.5 657.5 388.1 659.7C387.6 661.8 387.5 664 388.1 666.2C388.6 668.3 390.2 671 391.3 672.7C392.4 674.3 394.6 674.8 394.6 675.9C394.6 677 392.3 677.8 391.3 679.2C390.4 680.6 389.4 682.6 388.7 684.4C388.1 686.1 388.5 688.1 387.4 689.5C386.4 691 384.2 691.9 382.2 692.8C380.3 693.7 377.5 694.8 375.7 694.7C374 694.6 372.6 693.4 371.9 692.1C371.1 690.8 371.4 688.9 371.2 687C371 685 371.1 682.3 370.6 680.5C370 678.6 369.3 676.9 368 675.9C366.7 674.9 364.5 674.5 362.8 674.6C361 674.7 358.9 675.4 357.6 676.6C356.2 677.8 355.3 680 354.7 681.8C354.2 683.5 354.1 685.1 354.3 687C354.6 688.8 355.3 691.2 356.3 692.8C357.2 694.4 359.1 695.8 360.2 696.7C361.2 697.6 362 697.2 362.8 698C363.5 698.7 364.1 700 364.7 701.2C365.4 702.4 365.8 703.8 366.7 705.1C367.5 706.4 369.3 707.6 369.9 709C370.6 710.4 371.1 712.1 370.6 713.6C370 715.1 367.7 716.5 366.7 718.1C365.6 719.7 364.9 722 364.1 723.3C363.2 724.6 362.2 726.3 361.7 725.9C361.3 725.5 361.6 722.7 361.5 720.7C361.3 718.8 361.5 716.1 360.8 714.2C360.2 712.4 358.9 710.7 357.6 709.7C356.3 708.6 354.5 708 353 708C351.5 708 349.8 708.6 348.5 709.7C347.2 710.7 345.8 712.6 345.2 714.2C344.6 715.8 344.6 717.7 344.8 719.4C345.1 721.1 345.8 723.3 346.5 724.6C347.2 725.9 349 726.3 349.1 727.2C349.2 728.1 348.6 729.1 347.2 729.8C345.8 730.4 343.1 730.6 340.7 731.1C338.3 731.6 335.5 732.6 332.9 733C330.3 733.5 327.7 733.5 325.1 733.7C322.5 733.9 319.3 734.8 317.3 734.3C315.4 733.9 314.7 732.3 313.4 731.1C312.1 729.9 311 728.1 309.5 727.2C308 726.3 306.1 726.6 304.3 725.9C302.6 725.3 300.7 723.7 299.1 723.3C297.6 722.9 296.5 722.5 295.2 723.3C294 724.1 293.3 727 291.4 727.8C289.4 728.7 285.9 728.9 283.6 728.5C281.2 728.1 279 725.7 277.1 725.3C275.1 724.8 273.6 725.8 271.9 725.9C270.1 726 267.9 727 266.7 725.9C265.5 724.8 265.8 721.1 264.7 719.4C263.7 717.7 261.8 716.4 260.2 715.5C258.6 714.6 256.1 714.6 255 714.2C253.9 713.8 254.7 713.8 253.6 712.9C252.5 712.1 250.3 710.3 248.4 709C246.4 707.7 243.8 706.4 241.9 705.1C239.9 703.8 238.2 702.5 236.7 701.2C235.2 699.9 233.1 698.9 232.8 697.3C232.5 695.8 234.6 693.9 234.8 692.1C234.9 690.4 234.3 688.5 233.5 687C232.6 685.4 230.4 684.6 229.6 683.1C228.7 681.5 227.9 679.3 228.3 677.9C228.6 676.5 230.1 675.9 231.5 674.6C232.9 673.3 235.2 671.7 236.7 670.1C238.2 668.4 239.4 666.4 240.6 664.9C241.8 663.4 243.2 662.5 243.8 661C244.5 659.5 244.8 656.9 244.5 655.8C244.2 654.7 243 654.2 241.9 654.5C240.8 654.8 239.5 657.5 238 657.7C236.5 658 234.5 656.8 232.8 655.8C231.1 654.8 229 653.2 227.6 651.9C226.2 650.6 224.4 648.9 224.4 648C224.4 647.1 226.6 647.6 227.6 646.5C228.6 645.3 229.9 643.2 230.2 641.3C230.5 639.3 230.2 636.7 229.6 634.8C228.9 632.8 227.7 630.7 226.3 629.6C224.9 628.5 222.7 628.3 221.1 628.3C219.5 628.3 217.7 628.7 216.6 629.6C215.5 630.5 215.6 632.5 214.6 633.5C213.7 634.5 211.9 635.6 210.7 635.4C209.5 635.2 207.7 633.4 207.5 632.2C207.3 631 208.7 629.8 209.4 628.3C210.2 626.8 210.9 624.7 212 623.1C213.1 621.5 214.6 620.3 215.9 618.6C217.2 616.8 218.7 615 219.8 612.7C220.9 610.4 221.3 607.5 222.4 604.9C223.5 602.3 225.1 599.7 226.3 597.1C227.5 594.5 229.2 591.7 229.6 589.3C229.9 587 229 584.5 228.3 582.8C227.5 581.2 226.4 580.2 225 579.6C223.6 579 221.6 579.2 219.8 579C218.1 578.7 215.9 579 214.6 578.3C213.3 577.7 212 576.5 212 575.1Z"/>
<path fill="#579cc6" d="M191.9 597.1C191.9 595.7 191.6 593.1 192.6 591.9C193.5 590.7 196 590.9 197.7 590C199.5 589.1 201.3 587.5 202.9 586.7C204.6 586 206.8 584.8 207.5 585.4C208.1 586.1 207.4 588.9 206.8 590.6C206.3 592.4 205 593.9 204.2 595.8C203.5 597.8 203.2 600.5 202.3 602.3C201.4 604.2 200.3 606.6 199 606.9C197.7 607.1 195.6 604.7 194.5 603.6C193.4 602.5 192.7 601.5 192.3 600.4C191.9 599.3 191.9 598.5 191.9 597.1Z"/>
<path fill="#579cc6" d="M192.6 540C192.8 541.7 193.5 548.1 193.9 550.1C194.2 552.2 192.3 551.9 194.5 552.3C196.7 552.8 200.5 552.7 206.8 552.7C213.2 552.8 224.8 552.7 232.8 552.7C240.8 552.8 250.7 553.8 255 553C259.3 552.2 258.1 548.7 258.8 547.8Z"/>
<path fill="#579cc6" d="M172.4 540C172.5 541.8 169.5 549 173.1 550.9C176.6 552.8 190.4 553 193.9 551.2C197.3 549.3 193.9 541.9 193.9 540Z"/>
<path fill="#579cc6" d="M206.8 651.2C206.6 650.7 207.9 649.5 208.8 649C209.6 648.6 211.3 648.3 212 648.6C212.8 649 213.7 650.6 213.3 651.2C213 651.9 211.2 652.5 210.1 652.5C209 652.5 207.1 651.8 206.8 651.2Z"/>
<path fill="#579cc6" d="M278.4 751.9C278.4 750.3 276.9 744.4 278.4 742.5C279.9 740.7 284.4 741 287.5 740.8C290.5 740.7 293.3 741.5 296.5 741.5C299.8 741.5 303.7 740.7 306.9 740.8C310.2 740.9 313 741.6 316 742.1C319.1 742.7 322.3 743.9 325.1 744.1C327.9 744.3 330.3 743.8 332.9 743.4C335.5 743.1 338.3 742.6 340.7 742.1C343.1 741.7 345.5 741.5 347.2 740.8C348.9 740.2 349.8 739.2 351.1 738.2C352.3 737.3 353.6 735.1 354.7 735.3C355.8 735.4 356.4 737.8 357.6 738.9C358.7 739.9 360.2 740.7 361.5 741.5C362.8 742.2 364.2 742.9 365.4 743.4C366.6 744 368 743.3 368.6 744.7C369.3 746.1 369.1 750.7 369.3 751.9Z"/>
<path fill="#579cc6" d="M371.2 706.4C371.6 705.1 373.3 704.7 374.4 705.1C375.6 705.6 377 707.5 378.3 709C379.6 710.5 381.7 712.9 382.2 714.2C382.8 715.5 382.5 716.5 381.6 716.8C380.7 717.1 378.7 716.8 377 716.2C375.4 715.5 372.8 714.5 371.9 712.9C370.9 711.3 370.8 707.7 371.2 706.4Z"/>
<path fill="#579cc6" d="M426.4 590.6C424.8 590.9 418.6 590.6 416.6 591.9C414.7 593.2 415.1 595.8 414.7 598.4C414.3 601 414.4 604.7 414 607.5C413.7 610.3 413.7 612.9 412.8 615.3C411.8 617.7 409.8 619.8 408.2 621.8C406.6 623.7 404.3 625 403 627C401.7 628.9 401.3 631.1 400.4 633.5C399.6 635.9 398.4 638.8 397.8 641.3C397.2 643.7 396.8 645.8 396.8 648C396.8 650.2 397.5 651.9 397.8 654.5C398.1 657.1 398.5 660.8 398.5 663.6C398.5 666.4 398.3 669.3 397.8 671.4C397.4 673.4 396.2 674.2 395.9 675.9C395.5 677.6 395.7 679.7 395.9 681.8C396.1 683.8 396.6 686.4 397.2 688.2C397.7 690.1 397.9 691.9 399.1 692.8C400.3 693.7 402.6 692.9 404.3 693.4C406 694 408.1 694.7 409.5 696C410.9 697.3 412.2 699.3 412.8 701.2C413.3 703.2 413.2 705.8 412.8 707.7C412.3 709.7 410.7 711.4 410.2 712.9C409.6 714.4 409.1 715.9 409.5 716.8C409.9 717.7 411.6 718.4 412.8 718.1C413.9 717.8 414.4 715.7 416.6 714.9C418.9 714 424.8 713.2 426.4 712.9Z"/>
<path fill="#a9d9a5" d="M310.1 560.5C310.1 561.9 309.6 563.5 309 564.7C308.3 565.9 307.2 567 306 567.7C304.9 568.4 303.3 568.8 302 568.8C300.7 568.8 299.1 568.4 298 567.7C296.8 567 295.7 565.9 295 564.7C294.4 563.5 294 561.9 294 560.5C294 559.1 294.4 557.6 295 556.4C295.7 555.2 296.8 554 298 553.3C299.1 552.6 300.7 552.2 302 552.2C303.3 552.2 304.9 552.6 306 553.3C307.2 554 308.3 555.2 309 556.4C309.6 557.6 310.1 559.1 310.1 560.5Z"/>
<path fill="#a9d9a5" d="M269.3 583.5C269.3 585.1 268.9 586.8 268.3 588.2C267.7 589.5 266.7 590.8 265.7 591.6C264.7 592.4 263.3 592.8 262.1 592.8C261 592.8 259.6 592.4 258.6 591.6C257.5 590.8 256.6 589.5 256 588.2C255.4 586.8 255 585.1 255 583.5C255 581.9 255.4 580.2 256 578.8C256.6 577.5 257.5 576.2 258.6 575.4C259.6 574.6 261 574.1 262.1 574.1C263.3 574.1 264.7 574.6 265.7 575.4C266.7 576.2 267.7 577.5 268.3 578.8C268.9 580.2 269.3 581.9 269.3 583.5Z"/>
<path fill="#a9d9a5" d="M358.9 555.3C358.9 556.5 358.5 557.9 357.9 558.9C357.3 559.9 356.3 560.9 355.3 561.5C354.3 562.1 352.9 562.5 351.7 562.5C350.5 562.5 349.2 562.1 348.2 561.5C347.1 560.9 346.1 559.9 345.5 558.9C344.9 557.9 344.6 556.5 344.6 555.3C344.6 554.1 344.9 552.8 345.5 551.8C346.1 550.7 347.1 549.7 348.2 549.1C349.2 548.5 350.5 548.2 351.7 548.2C352.9 548.2 354.3 548.5 355.3 549.1C356.3 549.7 357.3 550.7 357.9 551.8C358.5 552.8 358.9 554.1 358.9 555.3Z"/>
<path fill="#a9d9a5" d="M364.1 559.1C365 558.2 368.9 558 369.9 558.8C370.9 559.6 370.9 563.2 369.9 564C368.9 564.9 365 564.8 364.1 564C363.1 563.2 363.1 560 364.1 559.1Z"/>
<path fill="#a9d9a5" d="M342.8 618.9C342.8 620.2 342.5 621.6 341.9 622.7C341.4 623.8 340.6 624.8 339.7 625.5C338.8 626.1 337.6 626.5 336.5 626.5C335.5 626.5 334.3 626.1 333.4 625.5C332.5 624.8 331.7 623.8 331.1 622.7C330.6 621.6 330.3 620.2 330.3 618.9C330.3 617.7 330.6 616.3 331.1 615.2C331.7 614.1 332.5 613 333.4 612.4C334.3 611.8 335.5 611.4 336.5 611.4C337.6 611.4 338.8 611.8 339.7 612.4C340.6 613 341.4 614.1 341.9 615.2C342.5 616.3 342.8 617.7 342.8 618.9Z"/>
<path fill="#a9d9a5" d="M365.6 616.6C365.6 617.6 365.1 618.9 364.5 619.6C363.8 620.3 362.6 620.9 361.7 620.9C360.8 620.9 359.6 620.3 359 619.6C358.3 618.9 357.8 617.6 357.8 616.6C357.8 615.6 358.3 614.3 359 613.6C359.6 612.9 360.8 612.3 361.7 612.3C362.6 612.3 363.8 612.9 364.5 613.6C365.1 614.3 365.6 615.6 365.6 616.6Z"/>
<path fill="#a9d9a5" d="M296.9 633.2C296.9 634.8 296.6 636.5 295.9 637.9C295.3 639.2 294.3 640.5 293.2 641.3C292.1 642.1 290.7 642.6 289.4 642.6C288.2 642.6 286.7 642.1 285.6 641.3C284.6 640.5 283.5 639.2 282.9 637.9C282.3 636.5 281.9 634.8 281.9 633.2C281.9 631.7 282.3 629.9 282.9 628.5C283.5 627.2 284.6 625.9 285.6 625.1C286.7 624.3 288.2 623.9 289.4 623.9C290.7 623.9 292.1 624.3 293.2 625.1C294.3 625.9 295.3 627.2 295.9 628.5C296.6 629.9 296.9 631.7 296.9 633.2Z"/>
<path fill="#a9d9a5" d="M260.8 637.4C260.8 639.2 260.4 641.2 259.7 642.7C259 644.2 257.8 645.7 256.6 646.6C255.4 647.5 253.8 648 252.4 648C251 648 249.4 647.5 248.2 646.6C247 645.7 245.8 644.2 245.1 642.7C244.4 641.2 244 639.2 244 637.4C244 635.6 244.4 633.6 245.1 632.1C245.8 630.5 247 629 248.2 628.2C249.4 627.3 251 626.7 252.4 626.7C253.8 626.7 255.4 627.3 256.6 628.2C257.8 629 259 630.5 259.7 632.1C260.4 633.6 260.8 635.6 260.8 637.4Z"/>
<path fill="#a9d9a5" d="M384.2 641.9C384.9 640.7 388 640.7 388.7 641.9C389.5 643.1 389.5 647.9 388.7 649.1C388 650.3 384.9 650.3 384.2 649.1C383.4 647.9 383.4 643.1 384.2 641.9Z"/>
<path fill="#a9d9a5" d="M318.6 674C318.7 672.2 319.5 669.9 320.6 668.8C321.6 667.6 323.6 667.1 325.1 667.2C326.6 667.3 328.6 668.2 329.7 669.4C330.7 670.7 330.8 673.5 331.6 674.6C332.4 675.7 332.8 676 334.2 675.9C335.6 675.8 338.1 674 340 674C342 674 344.2 674.6 345.9 675.9C347.6 677.2 349.6 679.7 350.4 681.8C351.3 683.8 351.4 686.1 351.1 688.2C350.8 690.4 349.8 693 348.5 694.7C347.2 696.5 345.2 697.9 343.3 698.6C341.3 699.3 338.9 699 336.8 698.9C334.7 698.8 332.6 698.9 331 698C329.3 697.1 328.1 695.3 327.1 693.4C326 691.6 325.1 688.9 324.5 687C323.8 685 323.9 683.1 323.2 681.8C322.4 680.5 320.7 680.5 319.9 679.2C319.2 677.9 318.5 675.7 318.6 674Z"/>
<path fill="#a9d9a5" d="M297.7 662C297.7 662.7 297.5 663.6 297.2 664C296.9 664.5 296.3 664.9 295.9 664.9C295.5 664.9 294.9 664.5 294.6 664C294.3 663.6 294.1 662.7 294.1 662C294.1 661.3 294.3 660.5 294.6 660C294.9 659.5 295.5 659.2 295.9 659.2C296.3 659.2 296.9 659.5 297.2 660C297.5 660.5 297.7 661.3 297.7 662Z"/>
<path fill="#a9d9a5" d="M304.1 670.3C305.1 669.7 309.2 669.5 310.2 670.1C311.2 670.7 311.2 673.3 310.2 674C309.2 674.6 305.1 674.6 304.1 674C303.1 673.4 303.1 671 304.1 670.3Z"/>
<path fill="#e7f3a9" d="M173.1 540C173.1 541.9 169.6 549 173.1 551.2C176.5 553.3 189.7 552 193.9 553C198 553.9 197.2 555.4 197.7 556.9C198.3 558.4 198.2 560.6 197.1 562.1C196 563.6 193.3 564.6 191.3 566C189.2 567.4 186.7 569 184.8 570.5C182.8 572 180.9 573.4 179.6 575.1C178.3 576.7 177.2 578.5 177 580.2C176.8 582 177.6 583.7 178.3 585.4C178.9 587.2 180.2 589.3 180.9 590.6C181.5 591.9 182.8 592.4 182.2 593.2C181.5 594.1 178.4 594.7 177 595.8C175.6 596.9 174.3 598.2 173.7 599.7C173.2 601.2 173.4 603.2 173.7 604.9C174.1 606.6 174.9 608.4 175.7 610.1C176.4 611.8 177.4 613.6 178.3 615.3C179.1 617 179.9 619.1 180.9 620.5C181.8 621.9 183 623.3 184.1 623.7C185.2 624.2 187 624.1 187.4 623.1C187.7 622.1 186.1 619.8 186.1 617.9C186.1 616 186.5 613.1 187.4 611.4C188.2 609.7 189.7 608.1 191.3 607.5C192.8 607 195 607.3 196.4 608.2C197.9 609 199.2 610.9 199.7 612.7C200.2 614.5 200.2 617.3 199.7 619.2C199.2 621.1 197.5 623 196.4 624.4C195.4 625.8 193.2 626.6 193.2 627.6C193.2 628.7 195.3 629.7 196.4 630.9C197.6 632.1 199.4 633.3 200.3 634.8C201.3 636.3 202.2 638.2 202.3 640C202.4 641.7 201.5 643.8 201 645.2C200.5 646.5 199.2 646.7 199 648C198.9 649.4 199.6 651.2 200.3 653.2C201.1 655.1 202.3 658.3 203.6 659.7C204.9 661.1 206.5 661.6 208.1 661.6C209.8 661.6 211.7 659.9 213.3 659.7C215 659.5 217.3 659.7 217.9 660.3C218.4 661 217.8 662.6 216.6 663.6C215.4 664.6 212.5 665.1 210.7 666.2C209 667.3 207.1 668.8 206.2 670.1C205.3 671.4 205.1 672.7 205.5 674C206 675.3 208.1 676.3 208.8 677.9C209.4 679.4 210 681.3 209.4 683.1C208.9 684.8 206.5 686.7 205.5 688.2C204.6 689.8 203.6 690.7 203.6 692.1C203.6 693.6 204.6 695.6 205.5 696.7C206.5 697.8 208.1 698.6 209.4 698.6C210.7 698.6 212 697.2 213.3 696.7C214.6 696.1 215.9 695 217.2 695.4C218.5 695.8 219.8 697.9 221.1 699.3C222.4 700.7 223.9 702.3 225 703.8C226.1 705.3 226.6 708.2 227.6 708.4C228.6 708.6 229.8 705.5 230.9 705.1C231.9 704.8 233.3 705.1 234.1 706.4C234.9 707.7 234.8 710.9 235.4 712.9C236 715 236.7 717.8 238 718.8C239.3 719.7 241.7 719.1 243.2 718.8C244.7 718.4 246 716.5 247.1 716.8C248.2 717.1 248.8 719.2 249.7 720.7C250.5 722.2 251.4 724.6 252.3 725.9C253.2 727.2 253.9 727.2 255 728.5C256.1 729.8 257.9 732.3 258.9 733.7C259.9 735.1 261 735.7 260.8 736.9C260.7 738.1 259.2 739.8 258.2 740.8C257.3 741.9 256 743 255 743.4C254 743.9 256 743.4 252.3 743.4C248.6 743.5 236.3 742.4 232.8 743.8C229.3 745.2 231.7 750.5 231.5 751.9L81.5 756.9L81.5 538.3Z"/>
<path fill="#a9d9a5" d="M173.5 630C173.5 631.3 173.3 632.8 172.9 634C172.5 635.2 171.9 636.3 171.3 636.9C170.7 637.6 169.9 638 169.2 638C168.5 638 167.7 637.6 167 636.9C166.4 636.3 165.8 635.2 165.5 634C165.1 632.8 164.9 631.3 164.9 630C164.9 628.6 165.1 627.1 165.5 626C165.8 624.8 166.4 623.7 167 623C167.7 622.3 168.5 621.9 169.2 621.9C169.9 621.9 170.7 622.3 171.3 623C171.9 623.7 172.5 624.8 172.9 626C173.3 627.1 173.5 628.6 173.5 630Z"/>
<path fill="#a9d9a5" d="M178.9 653.2C178.9 651.2 179 647.8 180.9 646.7C182.7 645.6 188.6 645.6 190 646.7C191.3 647.8 189.8 651.1 188.9 653.2C188.1 655.2 186.1 658.2 184.8 659C183.4 659.9 181.8 659.4 180.9 658.4C179.9 657.4 178.9 655.1 178.9 653.2Z"/>
<path fill="#e7f3a9" d="M214.6 558.8C214.6 559.6 214.3 560.6 213.8 561.3C213.2 561.9 212.3 562.5 211.5 562.8C210.6 563 209.5 563 208.7 562.8C207.8 562.5 206.9 561.9 206.4 561.3C205.9 560.6 205.5 559.6 205.5 558.8C205.5 558 205.9 557 206.4 556.4C206.9 555.7 207.8 555.1 208.7 554.9C209.5 554.6 210.6 554.6 211.5 554.9C212.3 555.1 213.2 555.7 213.8 556.4C214.3 557 214.6 558 214.6 558.8Z"/>
<path fill="#e7f3a9" d="M227.6 566C227.8 564.7 228.4 563 229.6 562.1C230.7 561.1 233.1 561.1 234.8 560.1C236.4 559.2 237.5 557.2 239.3 556.2C241.1 555.3 243.2 554.7 245.8 554.3C248.4 553.8 252.9 553 255 553.6C257.1 554.3 257.3 556.6 258.2 558.2C259.2 559.8 260.7 561.6 260.8 563.4C261 565.1 259.9 567.3 258.9 568.6C257.9 569.9 257.2 570.7 255 571.2C252.8 571.6 248.6 571.3 245.8 571.2C243 571.1 239.8 570.1 238 570.5C236.2 570.9 235.9 573.3 234.8 573.8C233.6 574.2 231.9 573.8 230.9 573.1C229.8 572.5 228.8 571.1 228.3 569.9C227.7 568.7 227.4 567.3 227.6 566Z"/>
<path fill="#e7f3a9" d="M208.1 590.6C209 588.7 210.3 585.8 212 584.1C213.8 582.5 216.4 581.3 218.5 580.9C220.7 580.5 223.4 580.8 225 581.5C226.6 582.3 227.8 583.7 228.3 585.4C228.7 587.2 228.4 589.8 227.6 591.9C226.9 594.1 224.9 596.3 223.7 598.4C222.5 600.6 221.3 602.8 220.5 604.9C219.6 607.1 219.5 609.5 218.5 611.4C217.5 613.4 216.1 615.5 214.6 616.6C213.1 617.7 210.9 618.2 209.4 617.9C207.9 617.6 206.4 616.2 205.5 614.7C204.7 613.1 204.2 610.9 204.2 608.8C204.2 606.8 205.1 604.5 205.5 602.3C206 600.2 206.4 597.8 206.8 595.8C207.3 593.9 207.3 592.6 208.1 590.6Z"/>
<path fill="#e7f3a9" d="M228.9 636.7C228.9 637.9 228.6 639.3 228 640.3C227.5 641.3 226.6 642.3 225.7 642.9C224.7 643.5 223.5 643.9 222.4 643.9C221.3 643.9 220.1 643.5 219.2 642.9C218.2 642.3 217.3 641.3 216.8 640.3C216.3 639.3 215.9 637.9 215.9 636.7C215.9 635.5 216.3 634.2 216.8 633.2C217.3 632.1 218.2 631.1 219.2 630.5C220.1 629.9 221.3 629.6 222.4 629.6C223.5 629.6 224.7 629.9 225.7 630.5C226.6 631.1 227.5 632.1 228 633.2C228.6 634.2 228.9 635.5 228.9 636.7Z"/>
<path fill="#e7f3a9" d="M259.5 637.4C259.5 638.9 259.2 640.6 258.6 641.9C258 643.2 257 644.5 256 645.2C254.9 646 253.6 646.5 252.4 646.5C251.2 646.5 249.9 646 248.8 645.2C247.8 644.5 246.8 643.2 246.2 641.9C245.6 640.6 245.3 638.9 245.3 637.4C245.3 635.9 245.6 634.1 246.2 632.8C246.8 631.5 247.8 630.3 248.8 629.5C249.9 628.7 251.2 628.3 252.4 628.3C253.6 628.3 254.9 628.7 256 629.5C257 630.3 258 631.5 258.6 632.8C259.2 634.1 259.5 635.9 259.5 637.4Z"/>
<path fill="#e7f3a9" d="M283.6 557.5C283.6 558.9 283.1 560.4 282.3 561.6C281.4 562.7 280.1 563.8 278.7 564.5C277.3 565.2 275.4 565.6 273.8 565.6C272.2 565.6 270.4 565.2 269 564.5C267.6 563.8 266.2 562.7 265.4 561.6C264.6 560.4 264.1 558.9 264.1 557.5C264.1 556.2 264.6 554.7 265.4 553.5C266.2 552.3 267.6 551.2 269 550.6C270.4 549.9 272.2 549.5 273.8 549.5C275.4 549.5 277.3 549.9 278.7 550.6C280.1 551.2 281.4 552.3 282.3 553.5C283.1 554.7 283.6 556.2 283.6 557.5Z"/>
<path fill="#e7f3a9" d="M308.8 560.5C308.8 561.7 308.4 563 307.8 564C307.3 565 306.4 566 305.4 566.6C304.4 567.2 303.1 567.5 302 567.5C300.9 567.5 299.6 567.2 298.6 566.6C297.7 566 296.7 565 296.2 564C295.6 563 295.2 561.7 295.2 560.5C295.2 559.3 295.6 558 296.2 557C296.7 556 297.7 555 298.6 554.4C299.6 553.9 300.9 553.5 302 553.5C303.1 553.5 304.4 553.9 305.4 554.4C306.4 555 307.3 556 307.8 557C308.4 558 308.8 559.3 308.8 560.5Z"/>
<path fill="#e7f3a9" d="M268.2 583.5C268.2 584.8 267.9 586.4 267.4 587.5C266.9 588.7 266.1 589.8 265.2 590.5C264.3 591.1 263.2 591.5 262.1 591.5C261.1 591.5 260 591.1 259.1 590.5C258.2 589.8 257.4 588.7 256.9 587.5C256.3 586.4 256 584.8 256 583.5C256 582.2 256.3 580.6 256.9 579.5C257.4 578.3 258.2 577.2 259.1 576.5C260 575.9 261.1 575.4 262.1 575.4C263.2 575.4 264.3 575.9 265.2 576.5C266.1 577.2 266.9 578.3 267.4 579.5C267.9 580.6 268.2 582.2 268.2 583.5Z"/>
<path fill="#e7f3a9" d="M357.6 555.3C357.6 556.3 357.3 557.4 356.8 558.2C356.3 559.1 355.5 559.9 354.6 560.4C353.8 560.9 352.7 561.2 351.7 561.2C350.8 561.2 349.7 560.9 348.8 560.4C348 559.9 347.2 559.1 346.7 558.2C346.2 557.4 345.9 556.3 345.9 555.3C345.9 554.3 346.2 553.2 346.7 552.4C347.2 551.6 348 550.7 348.8 550.3C349.7 549.8 350.8 549.5 351.7 549.5C352.7 549.5 353.8 549.8 354.6 550.3C355.5 550.7 356.3 551.6 356.8 552.4C357.3 553.2 357.6 554.3 357.6 555.3Z"/>
<path fill="#e7f3a9" d="M341.5 618.9C341.5 620 341.2 621.2 340.8 622.1C340.4 623 339.7 623.8 339 624.3C338.3 624.9 337.4 625.2 336.5 625.2C335.7 625.2 334.8 624.9 334.1 624.3C333.4 623.8 332.7 623 332.3 622.1C331.9 621.2 331.6 620 331.6 618.9C331.6 617.9 331.9 616.7 332.3 615.8C332.7 614.9 333.4 614.1 334.1 613.5C334.8 613 335.7 612.7 336.5 612.7C337.4 612.7 338.3 613 339 613.5C339.7 614.1 340.4 614.9 340.8 615.8C341.2 616.7 341.5 617.9 341.5 618.9Z"/>
<path fill="#e7f3a9" d="M295.6 633.2C295.6 634.6 295.3 636.1 294.8 637.2C294.3 638.4 293.4 639.5 292.5 640.2C291.6 640.9 290.4 641.3 289.4 641.3C288.4 641.3 287.2 640.9 286.3 640.2C285.4 639.5 284.5 638.4 284 637.2C283.5 636.1 283.2 634.6 283.2 633.2C283.2 631.9 283.5 630.4 284 629.2C284.5 628 285.4 626.9 286.3 626.3C287.2 625.6 288.4 625.2 289.4 625.2C290.4 625.2 291.6 625.6 292.5 626.3C293.4 626.9 294.3 628 294.8 629.2C295.3 630.4 295.6 631.9 295.6 633.2Z"/>
<path fill="#e7f3a9" d="M330 675.3C330 676.2 329.8 677.3 329.4 678.2C329 679 328.3 679.8 327.6 680.3C326.9 680.8 325.9 681.1 325.1 681.1C324.3 681.1 323.4 680.8 322.6 680.3C321.9 679.8 321.3 679 320.8 678.2C320.4 677.3 320.2 676.2 320.2 675.3C320.2 674.3 320.4 673.2 320.8 672.3C321.3 671.5 321.9 670.7 322.6 670.2C323.4 669.7 324.3 669.4 325.1 669.4C325.9 669.4 326.9 669.7 327.6 670.2C328.3 670.7 329 671.5 329.4 672.3C329.8 673.2 330 674.3 330 675.3Z"/>
<path fill="#e7f3a9" d="M349.4 686.3C349.4 688.1 348.9 690.1 348.1 691.6C347.4 693.2 346.1 694.6 344.7 695.5C343.4 696.4 341.6 696.9 340 696.9C338.5 696.9 336.7 696.4 335.4 695.5C334 694.6 332.7 693.2 331.9 691.6C331.2 690.1 330.7 688.1 330.7 686.3C330.7 684.5 331.2 682.5 331.9 681C332.7 679.4 334 678 335.4 677.1C336.7 676.2 338.5 675.7 340 675.7C341.6 675.7 343.4 676.2 344.7 677.1C346.1 678 347.4 679.4 348.1 681C348.9 682.5 349.4 684.5 349.4 686.3Z"/>
<path fill="#e7f3a9" d="M369.9 685.7C369.9 687.3 369.5 689.1 368.9 690.5C368.4 691.9 367.4 693.3 366.3 694.1C365.3 694.9 364 695.4 362.8 695.4C361.6 695.4 360.2 694.9 359.2 694.1C358.2 693.3 357.2 691.9 356.6 690.5C356 689.1 355.6 687.3 355.6 685.7C355.6 684 356 682.2 356.6 680.8C357.2 679.4 358.2 678 359.2 677.2C360.2 676.4 361.6 675.9 362.8 675.9C364 675.9 365.3 676.4 366.3 677.2C367.4 678 368.4 679.4 368.9 680.8C369.5 682.2 369.9 684 369.9 685.7Z"/>
<path fill="#e7f3a9" d="M360.2 718.1C360.2 719.5 359.8 721.1 359.2 722.3C358.6 723.5 357.6 724.7 356.6 725.4C355.6 726.1 354.2 726.6 353 726.6C351.8 726.6 350.5 726.1 349.5 725.4C348.4 724.7 347.4 723.5 346.8 722.3C346.2 721.1 345.9 719.5 345.9 718.1C345.9 716.7 346.2 715.1 346.8 713.9C347.4 712.7 348.4 711.5 349.5 710.8C350.5 710.1 351.8 709.7 353 709.7C354.2 709.7 355.6 710.1 356.6 710.8C357.6 711.5 358.6 712.7 359.2 713.9C359.8 715.1 360.2 716.7 360.2 718.1Z"/>
<path fill="#e7f3a9" d="M276.4 735.3C276.4 736.3 276 737.6 275.5 738.3C274.9 739 273.9 739.5 273.2 739.5C272.4 739.5 271.4 739 270.9 738.3C270.3 737.6 269.9 736.3 269.9 735.3C269.9 734.2 270.3 732.9 270.9 732.2C271.4 731.5 272.4 731 273.2 731C273.9 731 274.9 731.5 275.5 732.2C276 732.9 276.4 734.2 276.4 735.3Z"/>
<path fill="#a9d9a5" d="M383.5 646.7C384.4 646.2 387.9 646.2 388.7 646.7C389.6 647.2 389.3 649.4 388.5 649.9C387.6 650.5 384.6 650.5 383.8 649.9C383 649.4 382.7 647.2 383.5 646.7Z"/>
<path fill="#e7f3a9" d="M381.6 540C381.6 541.7 382.5 547.7 381.6 550.1C380.7 552.5 377.8 552.7 376.4 554.3C375 555.8 373.7 557.5 373.2 559.5C372.6 561.4 372.6 564.1 373.2 566C373.7 567.8 375 569.2 376.4 570.5C377.8 571.8 380 572.6 381.6 573.8C383.2 574.9 384.9 576.1 386.1 577.7C387.3 579.2 388.1 580.9 388.7 582.8C389.4 584.8 389.7 587.2 390 589.3C390.4 591.5 390.9 593.9 390.7 595.8C390.5 597.8 389.3 599.3 388.7 601C388.2 602.8 387.4 604.3 387.4 606.2C387.4 608.2 388.5 610.8 388.7 612.7C388.9 614.7 388.5 616.2 388.7 617.9C388.9 619.6 389.4 621.4 390 623.1C390.7 624.8 391.9 626.6 392.6 628.3C393.4 630 394.4 631.5 394.6 633.5C394.8 635.4 394.2 638.2 393.9 640C393.6 641.7 392.7 642.9 392.6 643.9C392.5 644.8 392.8 645.8 393.3 645.8C393.7 645.8 394.6 645.1 395.2 643.9C395.9 642.7 396.6 640.6 397.2 638.7C397.7 636.7 397.7 634.3 398.5 632.2C399.2 630 400.3 627.6 401.7 625.7C403.1 623.7 405.3 622.4 406.9 620.5C408.5 618.6 410.5 616.4 411.5 614C412.4 611.6 412.3 609 412.8 606.2C413.2 603.4 413.4 599.7 414 597.1C414.7 594.5 414.6 591.9 416.6 590.6C418.7 589.3 424.8 589.6 426.4 589.3L428.6 538.3Z"/>
<path fill="#e7f3a9" d="M368.6 751.9C368.6 750.7 368.7 747.1 368.6 744.7C368.5 742.3 367.8 740.3 368 737.6C368.1 734.9 368.8 731.1 369.3 728.5C369.7 725.9 369.7 723.4 370.6 722C371.4 720.6 373.2 720 374.4 720.1C375.7 720.2 376.9 721.9 378.3 722.7C379.8 723.4 381.4 724.9 382.9 724.6C384.4 724.3 386.2 722.4 387.4 720.7C388.6 719 389.4 716.6 390 714.2C390.7 711.8 390.7 708.8 391.3 706.4C392 704 392.6 701.7 393.9 699.9C395.2 698.2 397.2 696.8 399.1 696C401.1 695.3 403.7 695 405.6 695.4C407.6 695.8 409.6 697.2 410.8 698.6C412 700 412.5 702.1 412.8 703.8C413 705.6 412.6 707.5 412.1 709C411.6 710.5 410 711.6 409.5 712.9C409 714.2 408.4 715.8 408.9 716.8C409.3 717.8 410.8 719 412.1 718.8C413.4 718.5 414.3 716.5 416.6 715.5C419 714.5 424.8 713.4 426.4 712.9L428.6 756.9Z"/>
<path fill="#fbfbc8" d="M114 540C114 541.9 112.6 548.8 114 551.2C115.4 553.5 119.3 553.4 122.4 554.3C125.6 555.1 129.2 555.6 132.8 556.2C136.5 556.9 141.2 557.5 144.5 558.2C147.9 558.8 153 559.5 153 560.1C153 560.7 147.4 561.2 144.5 561.8C141.6 562.5 137.8 563 135.4 564C133 565 131.6 566.3 130.2 567.9C128.8 569.5 127.6 571.3 127 573.8C126.3 576.2 126.6 579.6 126.3 582.8C126.1 586.1 125.6 590 125.7 593.2C125.8 596.5 126.4 599.3 127 602.3C127.5 605.4 128.3 608.4 128.9 611.4C129.6 614.4 130.2 617.3 130.9 620.5C131.5 623.7 132.4 627.6 132.8 630.9C133.3 634.1 133.3 637.1 133.5 640C133.7 642.8 133.6 645.4 134.1 648C134.7 650.7 135.6 653.2 136.7 655.8C137.8 658.4 139.8 661 140.6 663.6C141.5 666.2 141.7 668.8 141.9 671.4C142.1 674 141.5 676.6 141.9 679.2C142.4 681.8 143.4 684.4 144.5 687C145.6 689.5 146.9 692.1 148.4 694.7C149.9 697.3 152.1 699.9 153.6 702.5C155.1 705.1 156 707.7 157.5 710.3C159 712.9 160.5 715.9 162.7 718.1C164.9 720.3 167.7 722 170.5 723.3C173.3 724.6 176.8 725 179.6 725.9C182.4 726.8 185 727.4 187.4 728.5C189.7 729.6 192.1 731 193.9 732.4C195.6 733.8 197.7 735.6 197.7 736.9C197.7 738.2 195.8 739.3 193.9 740.2C191.9 741 189.1 741.5 186.1 742.1C183 742.8 178.7 743.6 175.7 744.1C172.6 744.5 169.4 743.4 167.9 744.7C166.4 746 166.8 750.7 166.6 751.9L81.5 756.9L81.5 538.3Z"/>
<path fill="#fbfbc8" d="M184.5 639.3C184.5 639.9 184.2 640.6 183.8 641C183.4 641.4 182.7 641.7 182.2 641.7C181.6 641.7 180.9 641.4 180.5 641C180.1 640.6 179.8 639.9 179.8 639.3C179.8 638.8 180.1 638.1 180.5 637.7C180.9 637.3 181.6 637 182.2 637C182.7 637 183.4 637.3 183.8 637.7C184.2 638.1 184.5 638.8 184.5 639.3Z"/>
<path fill="#fbfbc8" d="M195.2 615.6C195.2 615.9 195 616.4 194.7 616.7C194.4 616.9 194 617.1 193.6 617.1C193.2 617.1 192.8 616.9 192.5 616.7C192.2 616.4 192 615.9 192 615.6C192 615.2 192.2 614.7 192.5 614.5C192.8 614.2 193.2 614 193.6 614C194 614 194.4 614.2 194.7 614.5C195 614.7 195.2 615.2 195.2 615.6Z"/>
<path fill="#fbfbc8" d="M215.3 606.9C215.3 607.7 215 608.6 214.5 609.3C214.1 610 213.3 610.6 212.6 610.8C211.9 611.1 210.9 611.1 210.2 610.8C209.5 610.6 208.7 610 208.2 609.3C207.8 608.6 207.5 607.7 207.5 606.9C207.5 606.1 207.8 605.1 208.2 604.4C208.7 603.8 209.5 603.2 210.2 602.9C210.9 602.7 211.9 602.7 212.6 602.9C213.3 603.2 214.1 603.8 214.5 604.4C215 605.1 215.3 606.1 215.3 606.9Z"/>
<path fill="#fbfbc8" d="M145.8 654.5C146 652.9 147.9 650.6 149.1 650.6C150.2 650.6 152.4 653.1 153 654.5C153.5 655.9 153.2 658.1 152.3 659C151.4 660 148.8 661.1 147.8 660.3C146.7 659.6 145.6 656.1 145.8 654.5Z"/>
<path fill="#fbfbc8" d="M197.1 658.6C197.1 659.7 196.9 661 196.5 661.9C196.1 662.7 195.5 663.5 194.9 663.8C194.3 664.2 193.5 664.2 192.8 663.8C192.2 663.5 191.6 662.7 191.2 661.9C190.9 661 190.6 659.7 190.6 658.6C190.6 657.6 190.9 656.3 191.2 655.4C191.6 654.6 192.2 653.8 192.8 653.5C193.5 653.1 194.3 653.1 194.9 653.5C195.5 653.8 196.1 654.6 196.5 655.4C196.9 656.3 197.1 657.6 197.1 658.6Z"/>
<path fill="#fbfbc8" d="M256.3 637.4C256.3 638.2 256 639.2 255.6 639.8C255.1 640.5 254.3 641.1 253.6 641.3C252.9 641.6 251.9 641.6 251.2 641.3C250.5 641.1 249.7 640.5 249.3 639.8C248.8 639.2 248.5 638.2 248.5 637.4C248.5 636.6 248.8 635.6 249.3 634.9C249.7 634.3 250.5 633.7 251.2 633.4C251.9 633.2 252.9 633.2 253.6 633.4C254.3 633.7 255.1 634.3 255.6 634.9C256 635.6 256.3 636.6 256.3 637.4Z"/>
<path fill="#fbfbc8" d="M277.7 556.9C277.7 557.6 277.3 558.4 276.8 558.9C276.2 559.4 275.2 559.7 274.5 559.7C273.7 559.7 272.7 559.4 272.2 558.9C271.6 558.4 271.2 557.6 271.2 556.9C271.2 556.2 271.6 555.3 272.2 554.9C272.7 554.4 273.7 554 274.5 554C275.2 554 276.2 554.4 276.8 554.9C277.3 555.3 277.7 556.2 277.7 556.9Z"/>
<path fill="#fbfbc8" d="M304.7 560.5C304.7 561.1 304.4 561.8 304 562.2C303.7 562.6 302.9 562.9 302.4 562.9C301.8 562.9 301.1 562.6 300.7 562.2C300.3 561.8 300.1 561.1 300.1 560.5C300.1 560 300.3 559.3 300.7 558.9C301.1 558.5 301.8 558.2 302.4 558.2C302.9 558.2 303.7 558.5 304 558.9C304.4 559.3 304.7 560 304.7 560.5Z"/>
<path fill="#fbfbc8" d="M264.6 583.9C264.6 584.6 264.2 585.6 263.8 586.1C263.3 586.6 262.4 587 261.8 587C261.1 587 260.2 586.6 259.7 586.1C259.3 585.6 258.9 584.6 258.9 583.9C258.9 583.2 259.3 582.2 259.7 581.7C260.2 581.2 261.1 580.8 261.8 580.8C262.4 580.8 263.3 581.2 263.8 581.7C264.2 582.2 264.6 583.2 264.6 583.9Z"/>
<path fill="#fbfbc8" d="M290.7 633.2C290.7 633.5 290.5 633.9 290.3 634.1C290.1 634.4 289.7 634.5 289.4 634.5C289.1 634.5 288.7 634.4 288.5 634.1C288.3 633.9 288.1 633.5 288.1 633.2C288.1 632.9 288.3 632.5 288.5 632.3C288.7 632.1 289.1 631.9 289.4 631.9C289.7 631.9 290.1 632.1 290.3 632.3C290.5 632.5 290.7 632.9 290.7 633.2Z"/>
<path fill="#fbfbc8" d="M348.1 686.3C348.1 687.9 347.7 689.6 347 691C346.3 692.3 345.2 693.6 344.1 694.4C342.9 695.2 341.4 695.6 340 695.6C338.7 695.6 337.2 695.2 336 694.4C334.9 693.6 333.7 692.3 333.1 691C332.4 689.6 332 687.9 332 686.3C332 684.7 332.4 683 333.1 681.6C333.7 680.3 334.9 679 336 678.2C337.2 677.4 338.7 677 340 677C341.4 677 342.9 677.4 344.1 678.2C345.2 679 346.3 680.3 347 681.6C347.7 683 348.1 684.7 348.1 686.3Z"/>
<path fill="#fbfbc8" d="M367.3 685.7C367.3 686.7 367.1 688 366.7 688.9C366.3 689.8 365.7 690.7 365 691.3C364.4 691.8 363.5 692.1 362.8 692.1C362 692.1 361.1 691.8 360.5 691.3C359.8 690.7 359.2 689.8 358.8 688.9C358.5 688 358.2 686.7 358.2 685.7C358.2 684.6 358.5 683.3 358.8 682.4C359.2 681.5 359.8 680.6 360.5 680C361.1 679.5 362 679.2 362.8 679.2C363.5 679.2 364.4 679.5 365 680C365.7 680.6 366.3 681.5 366.7 682.4C367.1 683.3 367.3 684.6 367.3 685.7Z"/>
<path fill="#fbfbc8" d="M356.9 717.5C356.9 718.4 356.6 719.4 356.2 720.1C355.7 720.9 355 721.5 354.2 721.8C353.5 722.1 352.5 722.1 351.8 721.8C351.1 721.5 350.3 720.9 349.9 720.1C349.4 719.4 349.1 718.4 349.1 717.5C349.1 716.6 349.4 715.5 349.9 714.8C350.3 714.1 351.1 713.4 351.8 713.1C352.5 712.9 353.5 712.9 354.2 713.1C355 713.4 355.7 714.1 356.2 714.8C356.6 715.5 356.9 716.6 356.9 717.5Z"/>
<path fill="#fbfbc8" d="M409.1 705.1C409.1 706 408.8 707 408.3 707.7C407.8 708.4 407 709.1 406.2 709.3C405.5 709.6 404.5 709.6 403.7 709.3C402.9 709.1 402.1 708.4 401.6 707.7C401.1 707 400.8 706 400.8 705.1C400.8 704.3 401.1 703.2 401.6 702.5C402.1 701.8 402.9 701.2 403.7 700.9C404.5 700.7 405.5 700.7 406.2 700.9C407 701.2 407.8 701.8 408.3 702.5C408.8 703.2 409.1 704.3 409.1 705.1Z"/>
<path fill="#fbfbc8" d="M386.1 540C386.1 541.7 386 547.5 386.1 550.1C386.2 552.7 386.5 553.6 386.8 555.6C387.1 557.6 387.5 559.9 388.1 562.1C388.6 564.2 389.4 566.4 390 568.6C390.7 570.7 391.1 573.3 392 575.1C392.8 576.8 394 578.5 395.2 579C396.4 579.4 398.1 579 399.1 577.7C400.1 576.4 400.4 573.1 401.1 571.2C401.7 569.2 402.1 566.5 403 566C403.9 565.4 405.1 568.1 406.3 567.9C407.4 567.7 409.1 566.3 410.2 564.7C411.2 563 411.9 560.1 412.8 558.2C413.6 556.2 414.7 554.1 415.3 553C416 551.9 414.8 552.6 416.6 551.7C418.5 550.8 424.8 548.4 426.4 547.8L428.6 538.3Z"/>
<path fill="#fbfbc8" d="M392 601C392.4 599.4 394 597.7 395.2 597.1C396.4 596.6 397.6 596.9 399.1 597.8C400.6 598.6 402.7 600.7 404.3 602.3C405.9 603.9 407.9 605.8 408.9 607.5C409.8 609.2 410.5 611.5 410.2 612.7C409.8 613.9 408.3 614.4 406.9 614.7C405.5 614.9 403.4 614.5 401.7 614C400 613.5 398 612.6 396.5 611.4C395 610.2 393.4 608.6 392.6 606.9C391.9 605.1 391.5 602.6 392 601Z"/>
<path fill="#fbfbc8" d="M380.9 751.9C380.9 750.7 380.8 746.9 380.9 744.7C381 742.6 380.9 740.7 381.6 738.9C382.2 737 383.6 735.6 384.8 733.7C386 731.7 387.4 729.1 388.7 727.2C390 725.3 391.4 723.2 392.6 722C393.8 720.8 394.8 719.8 395.9 720.1C397 720.3 397.9 722.1 399.1 723.3C400.3 724.5 401.5 726.1 403 727.2C404.5 728.3 406.5 728.9 408.2 729.8C409.9 730.7 412 731.7 413.4 732.4C414.8 733 414.5 733 416.6 733.7C418.8 734.3 424.8 735.9 426.4 736.3L428.6 756.9Z"/>
<path fill="#fbfbc8" d="M414 718.8C414.7 717.5 417.8 716.9 418.6 718.1C419.4 719.3 419.3 724.6 418.6 725.9C417.9 727.2 415.2 727.1 414.4 725.9C413.7 724.7 413.4 720.1 414 718.8Z"/>
<path fill="#fae29e" d="M113.4 540C113.4 541.9 112.3 548.5 113.4 551.2C114.4 553.9 117.8 554.9 119.8 556.2C121.9 557.6 125.7 558.4 125.7 559.2C125.7 560.1 121.4 560.3 119.8 561.4C118.3 562.5 117.2 563.7 116.6 566C116 568.2 115.7 572 116 575.1C116.2 578.1 117.5 580.9 117.9 584.1C118.3 587.4 118.3 591.1 118.5 594.5C118.8 598 118.9 601.5 119.2 604.9C119.5 608.4 120.1 611.8 120.5 615.3C120.9 618.8 121.5 622.2 121.8 625.7C122.1 629.2 122.2 632.4 122.4 636.1C122.7 639.8 122.6 644.7 123.1 648C123.6 651.3 124.8 653.2 125.7 655.8C126.6 658.4 127.7 661.2 128.3 663.6C128.8 666 129.3 667.9 128.9 670.1C128.6 672.2 126.7 674.2 126.3 676.6C126 678.9 126.3 681.8 127 684.4C127.6 687 128.8 689.5 130.2 692.1C131.6 694.7 133.5 697.6 135.4 699.9C137.4 702.3 140 703.8 141.9 706.4C143.9 709 145.4 712.7 147.1 715.5C148.8 718.3 150.1 721.1 152.3 723.3C154.5 725.5 157.1 727 160.1 728.5C163.1 730 167.2 731.3 170.5 732.4C173.7 733.5 177.8 734 179.6 735C181.3 736 182 737.3 180.9 738.2C179.8 739.2 176.1 740 173.1 740.8C170 741.7 165.7 742.8 162.7 743.4C159.7 744.1 156.4 743.3 154.9 744.7C153.4 746.1 153.8 750.7 153.6 751.9L81.5 756.9L81.5 538.3Z"/>
<path fill="#fbfbc8" d="M91.5 548.3H95.7V746.9H91.5Z"/>
<path fill="#fae29e" d="M212.7 606.9C212.7 607.2 212.5 607.7 212.3 608C212.1 608.2 211.7 608.4 211.4 608.4C211.1 608.4 210.7 608.2 210.5 608C210.2 607.7 210.1 607.2 210.1 606.9C210.1 606.5 210.2 606 210.5 605.8C210.7 605.5 211.1 605.3 211.4 605.3C211.7 605.3 212.1 605.5 212.3 605.8C212.5 606 212.7 606.5 212.7 606.9Z"/>
<path fill="#fae29e" d="M345.5 686.3C345.5 687.5 345.2 688.8 344.8 689.9C344.3 690.9 343.6 691.9 342.8 692.5C342 693.1 341 693.4 340 693.4C339.1 693.4 338.1 693.1 337.3 692.5C336.5 691.9 335.8 690.9 335.3 689.9C334.9 688.8 334.6 687.5 334.6 686.3C334.6 685.1 334.9 683.8 335.3 682.7C335.8 681.7 336.5 680.7 337.3 680.1C338.1 679.5 339.1 679.2 340 679.2C341 679.2 342 679.5 342.8 680.1C343.6 680.7 344.3 681.7 344.8 682.7C345.2 683.8 345.5 685.1 345.5 686.3Z"/>
<path fill="#fae29e" d="M364.7 685.4C364.7 686.1 364.5 686.9 364.1 687.4C363.8 687.9 363.2 688.2 362.8 688.2C362.3 688.2 361.7 687.9 361.4 687.4C361.1 686.9 360.8 686.1 360.8 685.4C360.8 684.7 361.1 683.8 361.4 683.4C361.7 682.9 362.3 682.5 362.8 682.5C363.2 682.5 363.8 682.9 364.1 683.4C364.5 683.8 364.7 684.7 364.7 685.4Z"/>
<path fill="#fae29e" d="M406.5 705.1C406.5 705.5 406.3 706 406.1 706.2C405.8 706.5 405.3 706.7 405 706.7C404.6 706.7 404.1 706.5 403.9 706.2C403.6 706 403.4 705.5 403.4 705.1C403.4 704.8 403.6 704.3 403.9 704C404.1 703.8 404.6 703.6 405 703.6C405.3 703.6 405.8 703.8 406.1 704C406.3 704.3 406.5 704.8 406.5 705.1Z"/>
<path fill="#fae29e" d="M388.7 540C388.7 541.7 388.6 547.3 388.7 550.1C388.8 552.9 388.9 554.5 389.4 556.9C389.8 559.3 390.7 562.1 391.3 564.7C392 567.3 392.5 570.3 393.3 572.5C394 574.6 395 577.2 395.9 577.7C396.7 578.1 397.8 576.6 398.5 575.1C399.1 573.5 399.2 570.5 399.8 568.6C400.3 566.6 400.7 564 401.7 563.4C402.7 562.7 404.4 565 405.6 564.7C406.8 564.3 407.9 562.9 408.9 561.4C409.8 559.9 410.6 557.3 411.5 555.6C412.3 553.9 413.5 553.8 414 551.2C414.6 548.6 414.6 541.9 414.7 540Z"/>
<path fill="#fae29e" d="M395.9 601.7C396.3 600.8 397.8 599.9 399.1 600.4C400.4 600.8 402.3 602.9 403.7 604.3C405.1 605.7 406.8 607.5 407.6 608.8C408.3 610.1 408.7 611.5 408.2 612.1C407.7 612.6 405.7 612.5 404.3 612.1C402.9 611.6 401.1 610.5 399.8 609.5C398.5 608.4 397.2 606.9 396.5 605.6C395.9 604.3 395.4 602.5 395.9 601.7Z"/>
<path fill="#fae29e" d="M384.2 751.9C384.2 750.7 384.1 746.7 384.2 744.7C384.3 742.8 384.1 741.8 384.8 740.2C385.6 738.6 387.4 736.7 388.7 735C390 733.3 391.4 731.1 392.6 729.8C393.8 728.5 394.8 727.3 395.9 727.2C397 727.1 397.9 728.3 399.1 729.1C400.3 730 401.5 731.4 403 732.4C404.5 733.4 406.5 734.2 408.2 735C409.9 735.7 412 736.5 413.4 736.9C414.8 737.4 414.5 737.3 416.6 737.6C418.8 737.9 424.8 738.7 426.4 738.9L428.6 756.9Z"/>
<path fill="#f9a076" d="M106.2 639.3C105.2 639.1 104.2 642.4 103.6 643.9C103.1 645.3 103.3 645.1 103 648C102.6 650.9 102 656.7 101.7 661C101.3 665.3 101.2 669.6 101 674C100.8 678.3 100.5 682.6 100.4 687C100.2 691.3 100.3 695.6 100.1 699.9C99.9 704.3 99.5 708.6 99.3 712.9C99.2 717.2 99.1 722.2 99.1 725.9C99.1 729.6 98.8 732.6 99.3 735C99.9 737.4 100.6 739.1 102.3 740.2C104 741.3 107.2 741.5 109.5 741.5C111.7 741.5 114.1 740.9 116 740.2C117.8 739.4 119.8 738.5 120.5 736.9C121.1 735.4 120.3 733.8 119.8 731.1C119.4 728.4 118.5 724.6 117.9 720.7C117.2 716.8 116.6 712.1 116 707.7C115.3 703.4 114.5 699.1 114 694.7C113.5 690.4 113.1 686.1 112.7 681.8C112.3 677.4 111.8 672.7 111.4 668.8C111 664.9 110.8 661.8 110.5 658.4C110.2 654.9 109.6 650.2 109.5 648C109.3 645.8 110 646.6 109.5 645.2C108.9 643.7 107.2 639.5 106.2 639.3Z"/>
<path fill="#f9a076" d="M402.4 540C402.4 541.7 402.3 547.9 402.4 550.1C402.5 552.4 402.5 552.6 403 553.6C403.6 554.6 404.5 555.9 405.6 556.2C406.7 556.6 408.5 556.2 409.5 555.6C410.5 554.9 411.1 553.2 411.5 552.3C411.8 551.4 411.5 552.2 411.5 550.1C411.5 548.1 411.5 541.7 411.5 540Z"/>
<path fill="#f9a076" d="M392 751.9C392 750.7 392 746.7 392 744.7C392 742.8 391.7 741.5 392 740.2C392.3 738.9 393.2 737.6 393.9 736.9C394.7 736.3 395.7 736 396.5 736.3C397.4 736.6 398.6 737.5 399.1 738.9C399.7 740.3 399.7 742.6 399.8 744.7C399.9 746.9 399.8 750.7 399.8 751.9Z"/>
<path fill="#f9a076" d="M408.9 739.1C409.7 738.5 413.2 738.3 414 738.9C414.9 739.5 414.9 742.1 414 742.8C413.2 743.4 409.7 743.4 408.9 742.8C408 742.2 408 739.8 408.9 739.1Z"/>
<path fill="#d9616e" d="M105.6 698.6C105.9 697.1 106.9 700.2 107.5 701.2C108.2 702.3 109 703.2 109.5 705.1C109.9 707.1 110.2 710.3 110.1 712.9C110.1 715.5 109.5 718.1 109.2 720.7C108.9 723.3 108.7 726.6 108.2 728.5C107.6 730.4 106.3 733.3 105.8 732.4C105.3 731.5 105.4 727 105.3 723.3C105.2 719.6 105.3 714.4 105.3 710.3C105.3 706.2 105.2 700.2 105.6 698.6Z"/>
<path fill="#d9616e" d="M408.1 552.3C408.1 552.6 407.9 552.9 407.7 553.1C407.5 553.2 407.2 553.4 406.9 553.4C406.6 553.4 406.3 553.2 406.1 553.1C405.9 552.9 405.7 552.6 405.7 552.3C405.7 552.1 405.9 551.8 406.1 551.6C406.3 551.4 406.6 551.3 406.9 551.3C407.2 551.3 407.5 551.4 407.7 551.6C407.9 551.8 408.1 552.1 408.1 552.3Z"/>
<path d="M93.2 540.8V755.3M147.2 540.8V755.3M201.3 540.8V755.3M255.4 540.8V755.3M309.4 540.8V755.3M363.4 540.8V755.3M417.5 540.8V755.3M76.9 745.6H432.9M76.9 713H432.9M76.9 680.5H432.9M76.9 648H432.9M76.9 615.4H432.9M76.9 582.8H432.9M76.9 550.3H432.9" stroke="#fff" stroke-opacity="0.05" stroke-width="1.2" fill="none"/>
</g></g>
<g>
<rect x="441.2" y="540.8" width="356" height="214.5" fill="#ebebeb"/>
<path d="M511.8 540.8V755.3M619.9 540.8V755.3M728 540.8V755.3M441.2 713H797.2M441.2 648H797.2M441.2 582.8H797.2" stroke="#fff" stroke-width="0.75" fill="none"/>
<path d="M457.7 540.8V755.3M565.8 540.8V755.3M673.9 540.8V755.3M782 540.8V755.3M441.2 745.6H797.2M441.2 680.5H797.2M441.2 615.4H797.2M441.2 550.3H797.2" stroke="#fff" stroke-width="1.5" fill="none"/>
<g clip-path="url(#c21)">
<rect x="441.2" y="540.8" width="356" height="214.5" fill="#e7f3a9"/>
<path fill="#a9d9a5" d="M619 590C617.7 588.9 616.5 588.4 615 588C613.4 587.7 611.5 587.6 609.8 588C608.1 588.5 606.5 589.6 604.6 590.6C602.6 591.7 600.2 593.3 598.1 594.5C596 595.7 593.3 596.6 592.3 597.8C591.2 599 591.1 600.7 591.6 601.7C592.2 602.6 593.8 603.1 595.5 603.6C597.2 604.2 600.2 604.3 602 604.9C603.8 605.6 605.4 606.3 606.5 607.5C607.7 608.7 608.8 610.3 609.1 612.1C609.5 613.8 609.1 616.3 608.5 617.9C607.8 619.5 606.1 620.1 605.2 621.8C604.4 623.5 603.7 626.3 603.3 628.3C602.9 630.2 603.2 632 602.6 633.5C602.1 635 600.5 635.9 600 637.4C599.6 638.9 599.5 641.1 600 642.6C600.6 644.1 602.3 645.6 603.3 646.5C604.3 647.4 605.7 647.8 605.9 648C606.1 648.3 603.9 647.5 604.6 648C605.2 648.5 608.1 650.4 609.8 651.2C611.5 652.1 613.4 652.8 615 653.2C616.5 653.6 617.3 653.3 619 653.8C620.8 654.4 623.3 655.7 625.5 656.4C627.7 657.2 629.8 658.1 632 658.4C634.1 658.7 636.3 658.7 638.5 658.1C640.6 657.6 643 656.3 645 655.1C646.9 654 648.5 652.4 650.2 651.2C651.8 650.1 653.7 648.9 654.7 648C655.7 647.1 656.3 646.7 656 645.8C655.7 644.9 654.6 643.2 652.8 642.6C650.9 641.9 647.6 642.4 645 641.9C642.4 641.5 639.1 640.9 637.2 640C635.2 639 633.7 637.5 633.3 636.1C632.8 634.7 633.5 632.7 634.6 631.5C635.7 630.3 638.5 630.1 639.8 628.9C641.1 627.7 642.3 625.8 642.4 624.4C642.5 623 641 622 640.4 620.5C639.9 619 638.6 617 639.1 615.3C639.7 613.6 642 611.8 643.7 610.1C645.3 608.4 647.2 606.6 648.9 604.9C650.6 603.2 652.9 601.7 653.8 599.7C654.7 597.8 654.4 595.1 654.1 593.2C653.7 591.4 653 589.8 651.5 588.7C649.9 587.6 647.1 586.8 645 586.7C642.8 586.6 640.4 587.2 638.5 588C636.5 588.9 635 590.7 633.3 591.9C631.6 593.1 629.8 594.7 628.1 595.2C626.4 595.6 624.4 595.4 622.9 594.5C621.4 593.7 620.3 591.1 619 590Z"/>
<path fill="#a9d9a5" d="M790.4 591.3C788.7 591.5 783.6 592 780.4 592.6C777.1 593.1 773.4 593.7 770.9 594.5C768.5 595.4 766.8 595.2 765.7 597.8C764.6 600.4 764.8 605.9 764.4 610.1C764 614.3 763.6 618.8 763.1 623.1C762.7 627.4 762.1 631.9 761.8 636.1C761.5 640.2 761 644.3 761.2 648C761.4 651.7 762.6 654.9 763.1 658.4C763.7 661.8 764.1 665.1 764.4 668.8C764.7 672.5 764.8 676.6 765.1 680.5C765.3 684.4 765.4 688.2 765.7 692.1C766 696 766.6 699.9 767 703.8C767.4 707.7 767.8 711.8 768.3 715.5C768.9 719.2 769.3 722.7 770.3 725.9C771.2 729.1 772.9 732.4 774.2 735C775.5 737.6 777 739.9 778 741.5C779.1 743.1 778.3 743.4 780.4 744.7C782.4 746 788.7 748.5 790.4 749.3Z"/>
<path fill="#579cc6" d="M790.4 593.2C788.7 593.4 783.4 594 780.4 594.5C777.4 595.1 774.2 595.6 772.2 596.5C770.2 597.3 769.1 597.5 768.3 599.7C767.6 602 767.9 606.6 767.7 610.1C767.4 613.6 767.2 617 767 620.5C766.8 624 766.6 627.4 766.4 630.9C766.1 634.3 765.8 638.4 765.7 641.3C765.6 644.1 765.6 645.2 765.7 648C765.8 650.9 766.1 654.9 766.4 658.4C766.6 661.8 766.8 665.1 767 668.8C767.2 672.5 767.4 676.6 767.7 680.5C767.9 684.4 768.1 688.2 768.3 692.1C768.5 696 768.6 699.9 769 703.8C769.3 707.7 769.6 711.8 770.3 715.5C770.9 719.2 771.8 722.9 772.9 725.9C773.9 728.9 775.5 731.4 776.8 733.7C778 736 778.1 737.4 780.4 739.5C782.7 741.7 788.7 745.5 790.4 746.7Z"/>
<path fill="#fbfbc8" d="M492.9 540C492.9 541.7 489.7 548.4 492.9 550.4C496.2 552.3 505.9 551 512.4 551.7C518.9 552.3 526.5 553.4 531.9 554.3C537.3 555.1 541.8 556.1 544.9 556.9C547.9 557.7 550.5 558.4 550.1 559.2C549.6 560.1 545.3 561.1 542.3 562.1C539.2 563.1 535.3 564.3 531.9 565.3C528.4 566.3 524.7 567 521.5 567.9C518.3 568.8 514.8 569.5 512.4 570.5C510 571.5 508.5 572.4 507.2 573.8C505.9 575.2 505.4 577 504.6 579C503.9 580.9 503.1 583.3 502.7 585.4C502.2 587.6 502.8 589.8 502 591.9C501.3 594.1 499.1 596.3 498.1 598.4C497.2 600.6 496.5 602.8 496.2 604.9C495.9 607.1 495.9 609.5 496.2 611.4C496.5 613.4 497.2 615.1 498.1 616.6C499.1 618.1 500.7 619.2 502 620.5C503.3 621.8 504.9 623.1 505.9 624.4C506.9 625.7 507.9 626.8 507.9 628.3C507.9 629.8 506.7 631.8 505.9 633.5C505.2 635.2 504 636.9 503.3 638.7C502.7 640.4 502.1 642.3 502 643.9C501.9 645.4 502 646 502.7 648C503.3 650 504.9 653.2 505.9 655.8C506.9 658.4 507.2 661.2 508.5 663.6C509.8 666 512.2 667.7 513.7 670.1C515.2 672.5 516.5 675.3 517.6 677.9C518.7 680.5 519.4 683.1 520.2 685.7C521 688.2 521.3 690.8 522.1 693.4C523 696 523.8 698.9 525.4 701.2C527 703.6 529.5 705.8 531.9 707.7C534.3 709.7 536.9 711.2 539.7 712.9C542.5 714.6 545.7 716.6 548.8 718.1C551.8 719.6 554.6 721 557.9 722C561.1 723 564.8 723.6 568.2 724C571.7 724.3 575.2 724.1 578.6 724C582.1 723.8 585.6 723.3 589 723C592.5 722.8 595.9 722.3 599.4 722.3C602.9 722.3 606.5 722.8 609.8 723C613.1 723.3 615.7 723.5 619 724C622.3 724.4 625.9 725.5 629.4 725.9C632.8 726.3 636.1 726.4 639.8 726.6C643.5 726.7 647.6 726.7 651.5 726.6C655.4 726.4 659.9 726.2 663.1 725.9C666.4 725.6 668.6 725.3 670.9 724.6C673.3 724 675.3 722.9 677.4 722C679.6 721.1 682 720 683.9 719.4C685.9 718.9 687.2 718.7 689.1 718.8C691.1 718.9 693.2 719.5 695.6 720.1C698 720.6 700.8 721.7 703.4 722C706 722.3 708.8 722.4 711.2 722C713.6 721.6 715.7 720.5 717.7 719.4C719.6 718.3 721.1 717 722.9 715.5C724.6 714 726.3 712.3 728.1 710.3C729.8 708.4 731.5 705.7 733.3 703.8C735 702 737 700.3 738.4 699.3C739.9 698.3 740.5 697.9 741.7 698C742.9 698.1 744.2 698.7 745.6 699.9C747 701.1 748.8 703.2 750.1 705.1C751.4 707.1 752.6 709.5 753.4 711.6C754.1 713.8 754.1 715.9 754.7 718.1C755.2 720.3 755.7 722.4 756.6 724.6C757.6 726.8 759 728.9 760.5 731.1C762 733.3 764.1 735.6 765.7 737.6C767.3 739.5 769.2 741.6 770.3 742.8C771.3 744 771.7 743.2 772.2 744.7C772.7 746.2 773.3 750.7 773.5 751.9L445.2 756.9L445.2 538.3Z"/>
<path fill="#fbfbc8" d="M572.1 553.6C572.1 552.3 571.3 549.8 574.7 549.1C578.2 548.3 589.6 548.3 592.9 549.1C596.3 549.8 595.1 552.3 594.9 553.6C594.6 554.9 593.7 556.1 591.6 556.9C589.6 557.6 585.3 558.2 582.5 558.2C579.7 558.2 576.5 557.6 574.7 556.9C573 556.1 572.1 554.9 572.1 553.6Z"/>
<path fill="#fbfbc8" d="M735.9 540C735.9 541.7 738.9 548.5 735.9 550.4C732.8 552.2 723.3 550.6 717.7 551C712 551.5 706.9 552.2 702.1 553C697.3 553.7 692.4 554.8 689.1 555.6C685.9 556.3 682.8 556.6 682.6 557.5C682.4 558.5 685.4 560.1 687.8 561.4C690.2 562.7 693.4 564.1 696.9 565.3C700.4 566.5 705.3 567.3 708.6 568.6C711.8 569.9 714.4 571.2 716.4 573.1C718.3 575.1 719 578 720.3 580.2C721.6 582.5 722.4 584.9 724.2 586.7C725.9 588.6 728.3 590 730.7 591.3C733 592.6 736 593.9 738.4 594.5C740.9 595.2 743.6 595.6 745.6 595.2C747.5 594.7 748.7 593 750.1 591.9C751.5 590.9 752.1 589.1 754 588.7C756 588.3 759.2 589.1 761.8 589.3C764.4 589.6 767 590.2 769.6 590C772.2 589.8 775.6 588.8 777.4 588C779.2 587.3 778.2 586.5 780.4 585.4C782.6 584.4 788.7 582.2 790.4 581.5L792.6 538.3Z"/>
<path fill="#fae29e" d="M463.7 556.9C464.2 554.7 465.1 554 467 553C468.8 552 471.5 551.1 474.8 551C478 550.9 482.5 551.7 486.4 552.3C490.3 553 494.7 554 498.1 554.9C501.6 555.9 507 557.1 507.2 558.2C507.4 559.3 502 560.3 499.4 561.4C496.8 562.5 493.8 563.4 491.6 564.7C489.5 566 487.7 567.5 486.4 569.2C485.1 570.9 484.4 572.8 483.8 575.1C483.3 577.3 483.4 580 483.2 582.8C483 585.7 483.1 589.1 482.5 591.9C482 594.7 480.6 597.3 480 599.7C479.3 602.1 478.5 604.1 478.7 606.2C478.8 608.4 479.8 610.5 480.6 612.7C481.4 614.9 482.3 617 483.2 619.2C484.1 621.4 485.1 623.3 485.8 625.7C486.4 628.1 486.9 629.8 487.1 633.5C487.3 637.2 486.8 644.3 487.1 648C487.4 651.7 488.4 653 489 655.8C489.7 658.6 490.1 662.1 491 664.9C491.9 667.7 493.3 670.1 494.2 672.7C495.2 675.3 496.4 677.6 496.8 680.5C497.3 683.3 496.8 687 496.8 689.5C496.8 692.1 496.2 693.9 496.8 696C497.5 698.2 499 700.6 500.7 702.5C502.5 704.5 505.1 706 507.2 707.7C509.4 709.5 511.8 711.2 513.7 712.9C515.7 714.6 517.6 716.4 518.9 718.1C520.2 719.8 520.6 721.6 521.5 723.3C522.4 725 522.4 727 524.1 728.5C525.8 730 529.3 731 531.9 732.4C534.5 733.8 539.2 735.6 539.7 736.9C540.1 738.2 536.6 739.1 534.5 740.2C532.3 741.3 529.3 742.6 526.7 743.4C524.1 744.3 524.5 743.9 518.9 745.1C513.3 746.3 502.5 750.3 492.9 750.6C483.4 750.8 467.4 748.2 461.8 746.7C456.1 745.2 459.7 743.6 459.2 741.5C458.6 739.3 458.5 737.2 458.5 733.7C458.5 730.2 459 725 459.2 720.7C459.4 716.4 459.6 712.1 459.8 707.7C460 703.4 460.3 699.1 460.5 694.7C460.7 690.4 460.8 686.1 461.1 681.8C461.4 677.4 461.9 672.7 462.4 668.8C463 664.9 463.8 661.8 464.4 658.4C464.9 654.9 465.5 652.2 465.7 648C465.9 643.8 465.8 637.6 465.7 633.5C465.6 629.3 465 626.6 465 623.1C465 619.6 465.5 615.7 465.7 612.7C465.9 609.7 466.8 607.3 466.3 604.9C465.9 602.5 464 600.6 463.1 598.4C462.1 596.3 460.9 594.3 460.5 591.9C460 589.6 460.2 587 460.5 584.1C460.8 581.3 461.8 578.1 462.4 575.1C463.1 572 464.2 569 464.4 566C464.6 562.9 463.3 559 463.7 556.9Z"/>
<path fill="#fae29e" d="M738.4 540C738.4 541.7 739.7 548.4 738.4 550.4C737.2 552.3 734.1 551 730.7 551.7C727.2 552.3 721 553.4 717.7 554.3C714.3 555.1 710.5 555.8 710.5 556.9C710.5 558 715.2 559.4 717.7 560.8C720.2 562.2 723.1 563.6 725.5 565.3C727.8 567 730 569.3 732 571.2C733.9 573 735.2 575.1 737.2 576.4C739.1 577.7 741.3 578.3 743.6 579C746 579.6 749.3 579.5 751.4 580.2C753.6 581 754.9 582.2 756.6 583.5C758.4 584.8 759.7 587.2 761.8 588C764 588.9 767.1 588.9 769.6 588.7C772.1 588.5 775 587.6 776.8 586.7C778.5 585.9 778.1 584.8 780.4 583.5C782.7 582.2 788.7 579.7 790.4 579L792.6 538.3Z"/>
<path fill="#fbfbc8" d="M790.4 558.2C788.7 558.5 783.4 559.2 780.4 560.1C777.4 561.1 774.5 562.4 772.2 564C769.9 565.6 767.4 568.1 766.4 569.9C765.3 571.6 765 573.2 765.7 574.4C766.5 575.6 769 576.4 770.9 577C772.9 577.7 775.8 577.9 777.4 578.3C779 578.7 778.2 579.3 780.4 579.6C782.6 579.9 788.7 580.1 790.4 580.2Z"/>
<path fill="#e7f3a9" d="M790.4 563.4C788.7 563.5 783 563.6 780.4 564C777.8 564.5 776.5 564.9 774.8 566C773.1 567 770.8 569.1 770.3 570.5C769.7 571.9 770.4 573.4 771.6 574.4C772.7 575.4 775.9 575.9 777.4 576.4C778.9 576.8 778.2 576.8 780.4 577C782.6 577.2 788.7 577.5 790.4 577.7Z"/>
<path fill="#fae29e" d="M687.8 736.9C687.2 736.2 690.4 734.9 693 734.3C695.6 733.8 699.9 733.8 703.4 733.7C706.9 733.6 710.5 734 713.8 733.7C717 733.4 720.1 732.6 722.9 731.7C725.7 730.9 728.1 729.5 730.7 728.5C733.3 727.5 736.3 726.3 738.4 725.9C740.6 725.5 741.9 725.5 743.6 725.9C745.4 726.3 746.9 727.3 748.8 728.5C750.8 729.7 753.2 731.5 755.3 733C757.5 734.6 760.1 736.2 761.8 737.6C763.6 739 765.2 740.2 765.7 741.5C766.3 742.8 770.5 744.5 765.1 745.4C759.7 746.2 740.3 747.1 733.3 746.7C726.2 746.2 726.8 743.8 722.9 742.8C719 741.8 714.2 741.5 709.9 740.8C705.6 740.2 700.6 739.5 696.9 738.9C693.2 738.2 688.5 737.7 687.8 736.9Z"/>
<path d="M457.7 540.8V755.3M511.8 540.8V755.3M565.8 540.8V755.3M619.9 540.8V755.3M673.9 540.8V755.3M728 540.8V755.3M782 540.8V755.3M441.2 745.6H797.2M441.2 713H797.2M441.2 680.5H797.2M441.2 648H797.2M441.2 615.4H797.2M441.2 582.8H797.2M441.2 550.3H797.2" stroke="#fff" stroke-opacity="0.05" stroke-width="1.2" fill="none"/>
</g></g>
<g>
<rect x="805.6" y="540.8" width="356" height="214.5" fill="#ebebeb"/>
<path d="M876.3 540.8V755.3M984.4 540.8V755.3M1092.5 540.8V755.3M805.6 713H1161.6M805.6 648H1161.6M805.6 582.8H1161.6" stroke="#fff" stroke-width="0.75" fill="none"/>
<path d="M822.3 540.8V755.3M930.4 540.8V755.3M1038.5 540.8V755.3M1146.6 540.8V755.3M805.6 745.6H1161.6M805.6 680.5H1161.6M805.6 615.4H1161.6M805.6 550.3H1161.6" stroke="#fff" stroke-width="1.5" fill="none"/>
<g clip-path="url(#c22)">
<rect x="805.6" y="540.8" width="356" height="214.5" fill="#579cc6"/>
<path fill="#a9d9a5" d="M825.8 540C825.8 541.7 825.7 546.9 825.8 550.1C825.9 553.4 826.1 556.4 826.4 559.5C826.7 562.5 827 566 827.7 568.6C828.5 571.2 829.3 573.4 831 575.1C832.6 576.7 835.3 577.4 837.5 578.3C839.6 579.2 842.1 579.3 844 580.2C845.8 581.2 847.4 582.7 848.5 584.1C849.6 585.6 849.6 587.6 850.4 588.7C851.3 589.8 852.4 590.4 853.7 590.6C855 590.9 856.8 590.7 858.2 590C859.6 589.2 860.6 587.5 862.1 586.1C863.6 584.7 865.8 583.2 867.3 581.5C868.8 579.9 870 577.9 871.2 576.4C872.4 574.8 873.2 573.2 874.5 572.5C875.8 571.7 877.4 571.7 879 571.8C880.6 571.9 882.9 572.1 884.2 573.1C885.5 574.1 886.3 575.6 886.8 577.7C887.3 579.7 886.9 583.6 887.4 585.4C888 587.3 888.6 588.3 890 588.7C891.4 589.1 894 588.7 895.9 588C897.7 587.4 899.6 586.1 901.1 584.8C902.6 583.5 903.9 581.2 905 580.2C906.1 579.3 906.6 578.6 907.6 579C908.5 579.3 909.3 581.5 910.8 582.2C912.3 582.8 914.8 582.8 916.7 582.8C918.5 582.8 920.3 581.9 921.9 582.2C923.4 582.5 924.7 583.9 925.7 584.8C926.8 585.7 927.2 587.1 928.3 587.4C929.5 587.7 931.7 587.5 932.9 586.7C934.1 586 934.3 583.5 935.5 582.8C936.7 582.2 938.4 582.5 940 582.8C941.7 583.2 943.3 584.3 945.2 584.8C947.2 585.3 949.9 585.9 951.7 586.1C953.6 586.3 955.3 585.1 956.3 586.1C957.2 587.1 956.9 590.3 957.6 591.9C958.2 593.6 958.5 595.1 960.2 595.8C961.8 596.6 965.2 595.9 967.3 596.5C969.4 597 970.5 598.3 972.5 599.1C974.4 599.8 977.2 600.5 979 601C980.7 601.6 981.5 601.8 983 602.3C984.5 602.9 986.6 604.1 988.2 604.3C989.8 604.5 991.4 604.1 992.7 603.6C994 603.2 994.9 601.6 996 601.7C997.1 601.8 998.4 603.3 999.2 604.3C1000.1 605.2 1000 606.9 1001.2 607.5C1002.4 608.2 1004.4 608.1 1006.4 608.2C1008.3 608.3 1011.1 607.5 1012.9 608.2C1014.6 608.8 1015.5 610.9 1016.8 612.1C1018.1 613.2 1019.6 613.9 1020.7 615.3C1021.7 616.7 1022.6 618.3 1023.2 620.5C1023.9 622.7 1024.1 625.7 1024.5 628.3C1025 630.9 1025.2 633.7 1025.8 636.1C1026.5 638.5 1027.4 640.6 1028.4 642.6C1029.5 644.6 1031.3 645.8 1032.3 648C1033.4 650.2 1034.6 653 1034.9 655.8C1035.3 658.6 1034.6 661.8 1034.3 664.9C1034 667.9 1033.5 670.9 1033 674C1032.4 677 1031.9 680.2 1031 683.1C1030.2 685.9 1029.1 688.7 1027.8 690.8C1026.5 693 1024.4 694.8 1023.2 696C1022.1 697.2 1021.7 697.9 1020.7 698C1019.6 698.1 1017.9 696.9 1016.8 696.7C1015.6 696.5 1014.5 695.9 1013.5 696.7C1012.5 697.4 1011.9 699.8 1010.9 701.2C1009.9 702.6 1009.1 704.2 1007.7 705.1C1006.3 706.1 1004.2 706.4 1002.5 707.1C1000.7 707.7 998.8 708 997.3 709C995.8 710 994.7 712.3 993.4 712.9C992.1 713.6 990.6 713.6 989.5 712.9C988.4 712.3 988 710 986.9 709C985.8 708 984.4 706.6 983 707.1C981.6 707.5 979.3 709.8 978.3 711.6C977.3 713.5 977.7 716.6 977 718.1C976.4 719.6 975.4 720.6 974.4 720.7C973.5 720.8 972.2 720.1 971.2 718.8C970.2 717.5 969.9 714.5 968.6 712.9C967.3 711.3 965.1 710.5 963.4 709C961.7 707.5 959.7 705.2 958.2 703.8C956.7 702.4 955.8 701.2 954.3 700.6C952.8 699.9 950.8 700.4 949.1 699.9C947.4 699.5 945.7 698.5 943.9 698C942.2 697.4 940.5 696.1 938.7 696.7C937 697.2 934.9 699.6 933.5 701.2C932.1 702.9 931.4 705.7 930.3 706.4C929.2 707.2 928.5 706.1 927 705.8C925.6 705.5 923.4 704.2 921.9 704.5C920.3 704.8 918.8 706.3 918 707.7C917.1 709.1 917.5 711.2 916.7 712.9C915.8 714.6 914.3 717 912.8 718.1C911.2 719.2 909.5 719.6 907.6 719.4C905.6 719.2 903 717.7 901.1 716.8C899.1 715.9 897.6 714.5 895.9 714.2C894.2 713.9 892.6 715.2 890.7 714.9C888.7 714.5 886.5 713.5 884.2 712.3C881.9 711.1 879.1 709.3 877.1 707.7C875 706.1 873.1 704.5 871.9 702.5C870.7 700.6 870.2 698.4 869.9 696C869.6 693.7 870.1 690.5 869.9 688.2C869.7 686 869.9 683.7 868.6 682.4C867.3 681.1 864.1 681.4 862.1 680.5C860.2 679.5 858.2 678.1 856.9 676.6C855.6 675 855.4 673.5 854.3 671.4C853.3 669.2 851.4 666.2 850.4 663.6C849.5 661 848.6 658.4 848.5 655.8C848.4 653.2 849.5 650.2 849.8 648C850.1 645.8 850.4 644 850.2 642.6C850 641.1 849.5 639.8 848.5 639.3C847.5 638.8 845.5 639.2 844 639.7C842.4 640.3 840.8 641.2 839.4 642.6C838 644 836.3 645.8 835.5 648C834.8 650.2 834.9 653.2 834.9 655.8C834.9 658.4 835.8 661 835.5 663.6C835.2 666.2 833.9 668.8 832.9 671.4C831.9 674 830.5 676.6 829.7 679.2C828.8 681.8 828.2 683.9 827.7 687C827.3 690 827.4 693.9 827.1 697.3C826.7 700.8 826.2 704.3 825.8 707.7C825.3 711.2 824.9 714.6 824.5 718.1C824 721.6 823.5 725 823.2 728.5C822.9 732 822.3 736.2 822.5 738.9C822.7 741.6 824.2 742.6 824.5 744.7C824.8 746.9 824.5 750.7 824.5 751.9L1156.9 756.9L1156.9 538.3Z"/>
<path fill="#a9d9a5" d="M835.1 603C835.9 602.5 837.1 605.8 838.1 607.5C839.1 609.2 840.9 611.6 841.4 613.4C841.8 615.1 841.4 616.5 840.7 617.9C840.1 619.3 838.5 621.8 837.5 621.8C836.4 621.8 835.3 619.8 834.6 617.9C834 616 833.5 612.6 833.6 610.1C833.7 607.6 834.4 603.4 835.1 603Z"/>
<path fill="#579cc6" d="M1043.1 628.9C1043.1 629.7 1042.8 630.5 1042.4 631.1C1042 631.7 1041.3 632.2 1040.6 632.4C1039.9 632.6 1039 632.6 1038.4 632.4C1037.7 632.2 1037 631.7 1036.5 631.1C1036.1 630.5 1035.8 629.7 1035.8 628.9C1035.8 628.2 1036.1 627.4 1036.5 626.8C1037 626.2 1037.7 625.7 1038.4 625.5C1039 625.3 1039.9 625.3 1040.6 625.5C1041.3 625.7 1042 626.2 1042.4 626.8C1042.8 627.4 1043.1 628.2 1043.1 628.9Z"/>
<path fill="#579cc6" d="M1039.7 630.9C1039.8 632.2 1039.9 635.8 1039.9 638.7C1039.8 641.5 1039.5 646 1039.5 648C1039.4 650 1038.7 650.2 1039.5 650.6C1040.2 651 1043.3 651 1044 650.6C1044.8 650.2 1044.3 648.4 1044 648C1043.8 647.6 1042.8 649.1 1042.5 648C1042.1 646.9 1042.2 644.1 1042.1 641.3C1041.9 638.4 1041.8 632.6 1041.7 630.9Z"/>
<path fill="#579cc6" d="M1041.4 679.8C1040.9 679.1 1042 676.1 1042.7 674.6C1043.5 673.1 1044.8 671.3 1046 670.7C1047.1 670.2 1048.9 670.6 1049.5 671.4C1050 672.1 1049.8 674 1049.2 675.3C1048.6 676.6 1047.3 678.4 1046 679.2C1044.7 679.9 1042 680.6 1041.4 679.8Z"/>
<path fill="#e7f3a9" d="M827.7 540C827.7 541.7 827.6 546.9 827.7 550.1C827.8 553.4 828 556.6 828.4 559.5C828.7 562.3 828.8 565.4 829.7 567.3C830.5 569.1 831.8 569.9 833.6 570.5C835.3 571.2 838.1 570.5 840.1 571.2C842 571.8 843.5 573.6 845.2 574.4C847 575.2 848.5 575.8 850.4 575.7C852.4 575.6 854.8 574.3 856.9 573.8C859.1 573.2 861.5 573 863.4 572.5C865.4 571.9 867.1 571.4 868.6 570.5C870.1 569.6 871 567.9 872.5 567.3C874 566.6 875.5 566.6 877.7 566.6C879.9 566.6 882.9 567.3 885.5 567.3C888.1 567.3 890.7 566.6 893.3 566.6C895.9 566.6 898.7 567 901.1 567.3C903.5 567.5 905.4 567.5 907.6 567.9C909.7 568.3 911.7 569.5 914.1 569.9C916.4 570.2 919.5 569.9 921.9 569.9C924.2 569.9 926.2 569.5 928.3 569.9C930.5 570.2 932.7 570.9 934.8 571.8C937 572.7 939.2 574.1 941.3 575.1C943.5 576 945.4 577 947.8 577.7C950.2 578.3 953.4 578.4 955.6 579C957.8 579.5 959.1 580 960.8 580.9C962.5 581.8 964.3 583.1 966 584.1C967.7 585.2 969.2 586.7 971.2 587.4C973.1 588 975.7 587.9 977.7 588C979.7 588.1 982.1 588.4 983 588C983.9 587.7 981.9 586.7 983 586.1C984.1 585.4 987.3 584.9 989.5 584.1C991.7 583.4 994.4 582.1 996 581.5C997.6 581 998.1 580.5 999.2 580.9C1000.3 581.3 1001.1 583 1002.5 584.1C1003.9 585.3 1005.7 587.1 1007.7 588C1009.6 589 1012.4 588.9 1014.2 590C1015.9 591.1 1016.8 593.1 1018.1 594.5C1019.4 595.9 1020.4 597.6 1022 598.4C1023.5 599.3 1025.6 599.8 1027.1 599.7C1028.7 599.6 1029.7 598.2 1031 597.8C1032.3 597.3 1033.6 596.9 1034.9 597.1C1036.2 597.3 1037.4 598.2 1038.8 599.1C1040.2 599.9 1042.1 600.9 1043.4 602.3C1044.7 603.7 1045.9 605.4 1046.6 607.5C1047.4 609.7 1047.5 612.5 1047.9 615.3C1048.4 618.1 1048.9 621.6 1049.2 624.4C1049.5 627.2 1049.4 630 1049.9 632.2C1050.3 634.3 1050.9 636.3 1051.8 637.4C1052.7 638.5 1054 638.9 1055.1 638.7C1056.1 638.5 1057.3 637.2 1058.3 636.1C1059.3 635 1060.1 632 1060.9 632.2C1061.7 632.4 1062.5 635.4 1062.8 637.4C1063.2 639.3 1063.2 642.1 1062.8 643.9C1062.5 645.6 1061.3 646.5 1060.9 648C1060.5 649.6 1060.8 651.2 1060.3 653.2C1059.7 655.1 1058.3 657.3 1057.7 659.7C1057 662.1 1056.6 664.9 1056.4 667.5C1056.1 670.1 1056.7 672.9 1056.4 675.3C1056 677.6 1055.4 679.8 1054.4 681.8C1053.4 683.7 1052 685.2 1050.5 687C1049 688.7 1047.3 690.8 1045.3 692.1C1043.4 693.4 1041 693.8 1038.8 694.7C1036.7 695.7 1034.3 696.7 1032.3 698C1030.4 699.3 1028.9 701.1 1027.1 702.5C1025.4 703.9 1024.1 705.1 1022 706.4C1019.8 707.7 1016.8 708.8 1014.2 710.3C1011.6 711.8 1009.2 713.7 1006.4 715.5C1003.6 717.4 1000.1 720 997.3 721.4C994.5 722.8 991.9 723.2 989.5 724C987.1 724.7 985 725.5 983 725.9C981 726.3 980.1 726.4 977.7 726.6C975.3 726.7 971.6 726.4 968.6 726.6C965.6 726.7 961.9 727.5 959.5 727.2C957.1 726.9 955.6 725.9 954.3 724.6C953 723.3 952.8 720.9 951.7 719.4C950.6 717.9 949 716.8 947.8 715.5C946.6 714.2 945 713.1 944.6 711.6C944.1 710.1 945.4 708.2 945.2 706.4C945 704.7 944.4 702.3 943.3 701.2C942.2 700.2 940.1 699.5 938.7 699.9C937.3 700.4 935.9 702.3 934.8 703.8C933.8 705.3 933.3 708.2 932.2 709C931.2 709.9 929.6 709.6 928.3 709C927 708.5 925.7 706.1 924.4 705.8C923.2 705.5 921.4 706.1 920.6 707.1C919.7 708 919.3 709.6 919.3 711.6C919.3 713.7 920.3 717 920.6 719.4C920.8 721.8 921.2 724.7 920.6 725.9C919.9 727.1 918.6 726.6 916.7 726.6C914.7 726.6 911.7 726.4 908.9 725.9C906.1 725.4 902.8 724.2 899.8 723.3C896.8 722.4 893.7 721.7 890.7 720.7C887.7 719.7 884.4 718.8 881.6 717.5C878.8 716.2 876.2 714.5 873.8 712.9C871.4 711.3 869.3 709.7 867.3 707.7C865.4 705.8 863.9 703.4 862.1 701.2C860.4 699.1 858.2 696.7 856.9 694.7C855.6 692.8 855.1 691.7 854.3 689.5C853.6 687.4 853 684.1 852.4 681.8C851.7 679.4 851.2 676.9 850.4 675.3C849.7 673.6 849.1 672.5 847.8 672C846.5 671.6 844.6 672 842.7 672.7C840.7 673.3 837.9 674.4 836.2 675.9C834.4 677.4 833.3 679.5 832.3 681.8C831.2 684 830.3 686.5 829.7 689.5C829 692.6 828.8 696 828.4 699.9C827.9 703.8 827.5 708.6 827.1 712.9C826.6 717.2 826.3 722 825.8 725.9C825.2 729.8 824 733.2 823.8 736.3C823.6 739.4 824.4 742.1 824.5 744.7C824.6 747.3 824.5 750.7 824.5 751.9L1156.9 756.9L1156.9 538.3Z"/>
<path fill="#a9d9a5" d="M1154.4 559.4C1152.8 560.3 1147.5 562.8 1144.9 564.4C1142.3 566 1140.9 567.2 1138.8 569C1136.7 570.7 1133.8 573.2 1132.1 575.1C1130.3 576.9 1129.1 578.1 1128.2 580.2C1127.2 582.4 1126.6 585 1126.2 588C1125.8 591.1 1125.9 595 1125.9 598.4C1125.9 601.9 1126.2 605.1 1126.2 608.8C1126.3 612.5 1126.1 616.8 1126.2 620.5C1126.3 624.2 1126.7 627.4 1126.9 630.9C1127 634.3 1127.4 638.4 1127.2 641.3C1127.1 644.1 1126.5 644.7 1126.2 648C1125.9 651.3 1125.6 656.7 1125.6 661C1125.6 665.3 1126.2 669.6 1126.2 674C1126.2 678.3 1125.6 682.6 1125.6 687C1125.5 691.3 1125.8 695.6 1125.9 699.9C1126.1 704.3 1126.1 709.2 1126.2 712.9C1126.4 716.6 1126 719.4 1126.9 722C1127.7 724.6 1129.8 726.3 1131.4 728.5C1133 730.7 1135.2 733 1136.6 735C1138 736.9 1139.2 738.6 1139.8 740.2C1140.5 741.8 1140.3 742.8 1140.5 744.7C1140.6 746.7 1140.7 750.7 1140.8 751.9L1156.9 756.9L1156.9 538.3Z"/>
<path fill="#579cc6" d="M1154.4 560.8C1152.8 561.7 1147.5 564.9 1144.9 566.6C1142.3 568.3 1140.6 569.8 1138.8 571.2C1137 572.6 1135.7 573.5 1134.3 575.1C1132.9 576.6 1131.3 578.1 1130.4 580.2C1129.4 582.4 1128.8 585 1128.4 588C1128 591.1 1128.2 595 1128.2 598.4C1128.2 601.9 1128.4 605.1 1128.4 608.8C1128.5 612.5 1128.3 616.8 1128.4 620.5C1128.5 624.2 1128.9 627.4 1129.1 630.9C1129.2 634.3 1129.6 638.4 1129.5 641.3C1129.3 644.1 1128.7 644.7 1128.4 648C1128.1 651.3 1127.8 656.7 1127.8 661C1127.8 665.3 1128.4 669.6 1128.4 674C1128.4 678.3 1127.8 682.6 1127.8 687C1127.7 691.3 1128 695.6 1128.2 699.9C1128.3 704.3 1128.3 709.2 1128.4 712.9C1128.6 716.6 1128.2 719.4 1129.1 722C1129.9 724.6 1132 726.3 1133.6 728.5C1135.2 730.7 1137.4 733 1138.8 735C1140.2 736.9 1141.4 738.6 1142 740.2C1142.7 741.8 1142.5 742.8 1142.7 744.7C1142.9 746.7 1142.9 750.7 1143 751.9L1156.9 756.9L1156.9 538.3Z"/>
<path fill="#fbfbc8" d="M962.8 558.2C962.3 557.4 964.2 556.3 966 555.6C967.8 554.8 971 554.2 973.8 553.6C976.6 553.1 980.2 554.6 983 552.3C985.8 550.1 962.9 542.1 990.8 540C1018.7 537.9 1123.9 537 1150.5 540C1177.1 543 1151.4 554.5 1150.5 558.2C1149.6 561.9 1146.5 561 1144.9 562.1C1143.3 563.2 1142.3 563.6 1140.8 564.7C1139.2 565.8 1137.2 567 1135.6 568.6C1133.9 570.1 1132.5 572 1131 573.8C1129.5 575.5 1127.8 577 1126.5 579C1125.2 580.9 1124.1 582.8 1123.2 585.4C1122.4 588 1121.7 591.3 1121.3 594.5C1120.8 597.8 1120.8 601.5 1120.6 604.9C1120.4 608.4 1120.2 611.8 1120 615.3C1119.8 618.8 1119.4 622.2 1119.3 625.7C1119.2 629.2 1119.5 632.4 1119.3 636.1C1119.1 639.8 1118.2 643.9 1118 648C1117.8 652.2 1118 656.7 1118 661C1118 665.3 1118 669.6 1118 674C1118 678.3 1117.9 682.6 1118 687C1118.1 691.3 1118.5 695.6 1118.7 699.9C1118.9 704.3 1119 709 1119.3 712.9C1119.7 716.8 1119.8 720.5 1120.6 723.3C1121.5 726.1 1123 727.8 1124.5 729.8C1126 731.7 1128 733.3 1129.7 735C1131.4 736.7 1133.5 738.6 1134.9 740.2C1136.3 741.8 1137.5 742.1 1138.2 744.7C1138.8 747.3 1166.8 753.9 1138.8 755.8C1110.8 757.6 998.1 755.8 970 755.8C942 755.8 970.5 757.6 970.5 755.8C970.6 753.9 970.4 747.3 970.5 744.7C970.6 742.1 970.2 741.4 971.2 740.2C972.2 739 974.4 738.1 976.4 737.6C978.4 737 980.2 737.5 983 736.9C985.8 736.4 989.9 734.9 993.4 734.3C996.8 733.8 1000.3 734 1003.8 733.7C1007.2 733.4 1010.7 733 1014.2 732.4C1017.6 731.7 1021.1 730.7 1024.5 729.8C1028 728.9 1031.9 727.8 1034.9 727.2C1038 726.6 1039.7 726.2 1042.7 725.9C1045.8 725.6 1049.6 725.6 1053.1 725.3C1056.6 724.9 1060.5 724.5 1063.5 724C1066.5 723.4 1069.1 723 1071.3 722C1073.5 721 1075.2 719.6 1076.5 718.1C1077.8 716.6 1077.8 714.2 1079.1 712.9C1080.4 711.6 1082.3 711.2 1084.3 710.3C1086.2 709.5 1088.6 708.8 1090.8 707.7C1092.9 706.6 1095.6 705.3 1097.3 703.8C1098.9 702.3 1099.9 700.6 1100.5 698.6C1101.2 696.7 1101.3 694.3 1101.2 692.1C1101 690 1100.1 688 1099.9 685.7C1099.6 683.3 1099.5 680.5 1099.9 677.9C1100.2 675.3 1101.3 672.7 1101.8 670.1C1102.3 667.5 1103.3 664.9 1103.1 662.3C1102.9 659.7 1101.3 656.9 1100.5 654.5C1099.7 652.1 1099.1 649.8 1098.6 648C1098 646.2 1097.9 645.9 1097.3 643.9C1096.6 641.9 1095.7 638.7 1094.7 636.1C1093.6 633.5 1091.8 630.9 1090.8 628.3C1089.7 625.7 1088.8 623.1 1088.2 620.5C1087.5 617.9 1087.3 615.1 1086.9 612.7C1086.4 610.3 1086.4 608.2 1085.6 606.2C1084.7 604.3 1083.4 602.5 1081.7 601C1079.9 599.5 1077.3 598.4 1075.2 597.1C1073 595.8 1070.6 594.5 1068.7 593.2C1066.7 591.9 1065.2 590.9 1063.5 589.3C1061.8 587.8 1060.3 585.9 1058.3 584.1C1056.4 582.4 1054 580.6 1051.8 579C1049.6 577.3 1047.7 575.8 1045.3 574.4C1042.9 573 1040.3 571.5 1037.5 570.5C1034.7 569.5 1031.5 569 1028.4 568.6C1025.4 568.1 1022.6 568.2 1019.4 567.9C1016.1 567.6 1012.2 567 1009 566.6C1005.7 566.2 1002.9 565.6 999.9 565.3C996.8 565 993.6 564.7 990.8 564.7C988 564.7 985 565.5 983 565.3C981 565.1 980.1 564.1 979 563.4C977.9 562.6 978.1 561.3 976.4 560.8C974.7 560.2 970.9 560.6 968.6 560.1C966.3 559.7 963.2 558.9 962.8 558.2Z"/>
<path fill="#fbfbc8" d="M834.9 751.9C834.9 750.7 835.1 747.1 834.9 744.7C834.6 742.3 833.9 740.1 833.6 737.6C833.2 735.1 832.6 732.2 832.9 729.8C833.2 727.4 834.6 725.7 835.5 723.3C836.4 720.9 837.8 718.1 838.1 715.5C838.4 712.9 837.6 709.9 837.5 707.7C837.4 705.6 836.7 703.8 837.5 702.5C838.2 701.2 840.5 699.9 842 699.9C843.5 699.9 845.6 700.8 846.5 702.5C847.5 704.3 847.7 707.7 847.8 710.3C848 712.9 847.6 715.7 847.2 718.1C846.8 720.5 844.9 722.9 845.2 724.6C845.6 726.3 847.2 728.1 849.1 728.5C851.1 728.9 854.8 728.3 856.9 727.2C859.1 726.1 860.4 723.4 862.1 722C863.9 720.6 865.6 719 867.3 718.8C869.1 718.5 871.2 719.5 872.5 720.7C873.8 721.9 874.6 724 875.1 725.9C875.7 727.8 875.3 730.7 875.8 732.4C876.2 734.1 876.1 735.9 877.7 736.3C879.3 736.7 883.6 734.8 885.5 735C887.4 735.2 889 736.5 889.4 737.6C889.8 738.7 889.6 740.6 888.1 741.5C886.6 742.3 882.5 742.2 880.3 742.8C878.1 743.3 876.2 743.2 875.1 744.7C874 746.2 874 750.7 873.8 751.9Z"/>
<path fill="#fbfbc8" d="M932.9 721.7C932.9 722.8 932.6 724.1 932.1 724.8C931.7 725.5 930.9 726 930.3 726C929.7 726 928.9 725.5 928.5 724.8C928 724.1 927.7 722.8 927.7 721.7C927.7 720.7 928 719.4 928.5 718.7C928.9 718 929.7 717.5 930.3 717.5C930.9 717.5 931.7 718 932.1 718.7C932.6 719.4 932.9 720.7 932.9 721.7Z"/>
<path fill="#fae29e" d="M985.6 556.9C985.4 555.9 988.2 554.5 990.8 553.6C993.4 552.8 998.1 554 1001.2 551.7C1004.2 549.4 984.1 541.9 1009 540C1033.9 538.1 1126.9 538.1 1150.5 540C1174.1 541.9 1151.4 549.1 1150.5 551.7C1149.6 554.3 1146.2 554.5 1144.9 555.6C1143.6 556.7 1143.7 557.1 1142.7 558.2C1141.7 559.3 1140.3 560.8 1138.8 562.1C1137.3 563.4 1135.3 564.5 1133.6 566C1131.9 567.5 1130.1 569.4 1128.4 571.2C1126.7 572.9 1124.7 574.4 1123.2 576.4C1121.7 578.3 1120.2 580.2 1119.3 582.8C1118.5 585.4 1118.4 588.5 1118 591.9C1117.7 595.4 1117.6 599.9 1117.4 603.6C1117.2 607.3 1117.1 610.8 1116.7 614C1116.4 617.3 1116.1 620.7 1115.4 623.1C1114.8 625.5 1114.1 627.3 1112.8 628.3C1111.5 629.3 1109.3 629.6 1107.6 628.9C1106 628.3 1104.3 626.2 1103.1 624.4C1101.9 622.6 1101.2 620.3 1100.5 617.9C1099.9 615.5 1100 612.5 1099.2 610.1C1098.4 607.7 1097.4 605.5 1096 603.6C1094.6 601.8 1092.7 600.5 1090.8 599.1C1088.8 597.7 1086.4 596.3 1084.3 595.2C1082.1 594.1 1079.9 593.6 1077.8 592.6C1075.6 591.6 1073 590.7 1071.3 589.3C1069.6 587.9 1068.7 586.1 1067.4 584.1C1066.1 582.2 1065.2 579.7 1063.5 577.7C1061.8 575.6 1059.2 573.4 1057 571.8C1054.8 570.2 1053.1 569 1050.5 567.9C1047.9 566.8 1044.5 566 1041.4 565.3C1038.4 564.7 1035.4 564.3 1032.3 564C1029.3 563.7 1026.5 563.7 1023.2 563.4C1020 563 1016.3 562.5 1012.9 562.1C1009.4 561.6 1005.9 561.2 1002.5 560.8C999 560.3 994.9 560.1 992.1 559.5C989.3 558.8 985.8 557.9 985.6 556.9Z"/>
<path fill="#fae29e" d="M1012.9 740.8C1012.9 739.9 1014.6 738.8 1016.8 737.6C1018.9 736.4 1022.4 734.7 1025.8 733.7C1029.3 732.7 1033.4 732.2 1037.5 731.7C1041.6 731.3 1046.2 731.3 1050.5 731.1C1054.8 730.9 1059.2 730.7 1063.5 730.4C1067.8 730.2 1072.2 730.2 1076.5 729.8C1080.8 729.4 1085.6 728.6 1089.5 727.8C1093.4 727.1 1097 726.2 1099.9 725.3C1102.7 724.3 1104.5 723.1 1106.3 722C1108.2 720.9 1109.6 718.8 1110.9 718.8C1112.2 718.8 1113.2 720.6 1114.1 722C1115.1 723.4 1115.6 725.5 1116.7 727.2C1117.8 728.9 1119.1 730.9 1120.6 732.4C1122.1 733.9 1124.1 735 1125.8 736.3C1127.6 737.6 1129.5 738.8 1131 740.2C1132.5 741.6 1134.3 742.1 1134.9 744.7C1135.6 747.3 1153.3 753.9 1134.9 755.8C1116.5 757.6 1042.9 757.6 1024.5 755.8C1006.2 753.9 1025.8 746.8 1024.5 744.7C1023.2 742.7 1018.7 744.1 1016.8 743.4C1014.8 742.8 1012.9 741.8 1012.9 740.8Z"/>
<path fill="#fae29e" d="M842 738.9C842 737.5 842.5 735.9 844 735C845.4 734.1 848.1 734.1 850.4 733.7C852.8 733.3 856.3 733.5 858.2 732.4C860.2 731.3 861 728.9 862.1 727.2C863.2 725.5 863.6 723.1 864.7 722C865.8 720.9 867.3 720.5 868.6 720.7C869.9 720.9 871.6 721.8 872.5 723.3C873.4 724.8 873.9 727.6 873.8 729.8C873.7 732 873.2 734.6 871.9 736.3C870.6 738 868.3 739 866 740.2C863.8 741.4 860.8 742.6 858.2 743.4C855.6 744.3 852.8 745.1 850.4 745.1C848.1 745.1 845.4 744.5 844 743.4C842.5 742.4 842 740.3 842 738.9Z"/>
<path fill="#f9a076" d="M1055.7 555.6C1055.7 554.5 1058.7 554.9 1060.9 552.3C1063.1 549.7 1055.8 542.1 1068.7 540C1081.6 537.9 1126.5 537.8 1138.2 540C1149.8 542.2 1138.9 550.2 1138.8 553C1138.7 555.8 1138.6 555.8 1137.5 556.9C1136.4 558 1134 558.4 1132.3 559.5C1130.6 560.6 1128.6 562.3 1127.1 563.4C1125.6 564.5 1125.2 565.4 1123.2 566C1121.3 566.5 1118 566.6 1115.4 566.6C1112.8 566.6 1110.2 566.4 1107.6 566C1105 565.5 1102.4 564.6 1099.9 564C1097.3 563.5 1095.1 563 1092.1 562.7C1089 562.4 1085.1 562.4 1081.7 562.1C1078.2 561.7 1074.8 561.3 1071.3 560.8C1067.8 560.2 1063.5 559.7 1060.9 558.8C1058.3 558 1055.7 556.7 1055.7 555.6Z"/>
<path fill="#f9a076" d="M1097.3 741.5C1097.5 740.5 1099.4 739.6 1101.2 738.9C1102.9 738.1 1105.5 737.2 1107.6 736.9C1109.8 736.7 1112.3 736.9 1114.1 737.6C1116 738.2 1117.7 739.6 1118.7 740.8C1119.7 742 1119.8 742.9 1120 744.7C1120.2 746.6 1123.3 750.7 1120 751.9C1116.6 753.1 1103.2 753.1 1099.9 751.9C1096.5 750.7 1100.3 746.5 1099.9 744.7C1099.4 743 1097 742.5 1097.3 741.5Z"/>
<path fill="#d9616e" d="M1100.5 555.6C1100.5 554.4 1103.4 554.9 1105 552.3C1106.7 549.7 1107.1 542.1 1110.2 540C1113.4 537.9 1121.5 537.6 1123.9 540C1126.3 542.4 1124.5 551.1 1124.5 554.3C1124.5 557.4 1125 557.9 1123.9 558.8C1122.8 559.8 1120.3 559.8 1118 560.1C1115.8 560.4 1112.4 560.9 1110.2 560.8C1108.1 560.7 1106.7 560.3 1105 559.5C1103.4 558.6 1100.5 556.8 1100.5 555.6Z"/>
<path d="M822.3 540.8V755.3M876.3 540.8V755.3M930.4 540.8V755.3M984.4 540.8V755.3M1038.5 540.8V755.3M1092.5 540.8V755.3M1146.6 540.8V755.3M805.6 745.6H1161.6M805.6 713H1161.6M805.6 680.5H1161.6M805.6 648H1161.6M805.6 615.4H1161.6M805.6 582.8H1161.6M805.6 550.3H1161.6" stroke="#fff" stroke-opacity="0.05" stroke-width="1.2" fill="none"/>
</g></g>
<path d="M72.2 298.3H77M72.2 233.3H77M72.2 168.2H77M72.2 103.2H77M72.2 522.6H77M72.2 457.4H77M72.2 392.1H77M72.2 326.9H77M72.2 745.6H77M72.2 680.5H77M72.2 615.4H77M72.2 550.3H77M93.2 755.3V759.9M201.3 755.3V759.9M309.4 755.3V759.9M417.5 755.3V759.9M457.7 755.3V759.9M565.8 755.3V759.9M673.9 755.3V759.9M782 755.3V759.9M822.3 755.3V759.9M930.4 755.3V759.9M1038.5 755.3V759.9M1146.6 755.3V759.9" stroke="#333" stroke-width="1.5" fill="none"/>
<g font-size="27" fill="#4d4d4d">
<text x="68.3" y="309.2" text-anchor="end">0</text>
<text x="68.3" y="244.2" text-anchor="end">10</text>
<text x="68.3" y="179.1" text-anchor="end">20</text>
<text x="68.3" y="114.1" text-anchor="end">30</text>
<text x="68.3" y="533.5" text-anchor="end">0</text>
<text x="68.3" y="468.3" text-anchor="end">10</text>
<text x="68.3" y="403" text-anchor="end">20</text>
<text x="68.3" y="337.8" text-anchor="end">30</text>
<text x="68.3" y="756.5" text-anchor="end">0</text>
<text x="68.3" y="691.4" text-anchor="end">10</text>
<text x="68.3" y="626.3" text-anchor="end">20</text>
<text x="68.3" y="561.2" text-anchor="end">30</text>
<text x="93.2" y="785.4" text-anchor="middle">0</text>
<text x="201.3" y="785.4" text-anchor="middle">20</text>
<text x="309.4" y="785.4" text-anchor="middle">40</text>
<text x="417.5" y="785.4" text-anchor="middle">60</text>
<text x="457.7" y="785.4" text-anchor="middle">0</text>
<text x="565.8" y="785.4" text-anchor="middle">20</text>
<text x="673.9" y="785.4" text-anchor="middle">40</text>
<text x="782" y="785.4" text-anchor="middle">60</text>
<text x="822.3" y="785.4" text-anchor="middle">0</text>
<text x="930.4" y="785.4" text-anchor="middle">20</text>
<text x="1038.5" y="785.4" text-anchor="middle">40</text>
<text x="1146.6" y="785.4" text-anchor="middle">60</text>
</g>
<text x="620" y="34.4" font-size="37" text-anchor="middle" fill="#000">Velocity</text>
<text x="619" y="819" font-size="33" text-anchor="middle" fill="#000">x [cm]</text>
<text transform="translate(29.2 424) rotate(-90)" font-size="33" text-anchor="middle" fill="#000">y [cm]</text>
<text transform="translate(1225 423.5) rotate(90)" font-size="37" text-anchor="middle" fill="#000">Group size</text>
<g font-size="24.7" fill="#000"><text x="1298" y="300.8">Horizontal probability</text>
<text x="1298" y="329.1" font-size="24.3">density (P<tspan font-size="12.5" dy="9" dx="-0.5">H</tspan><tspan dy="-9" dx="0.5">)</tspan></text></g>
<g font-size="26.5" fill="#000">
<rect x="1302" y="349.9" width="24" height="23.8" fill="#5a9dc8"/>
<text x="1345.4" y="373.5">(0e+00, 5e-05]</text>
<rect x="1302" y="376.5" width="24" height="23.8" fill="#abdaa7"/>
<text x="1345.4" y="399.9">(5e-05, 1e-04]</text>
<rect x="1302" y="403.1" width="24" height="23.8" fill="#e8f4aa"/>
<text x="1345.4" y="426.4">(1e-04, 5e-04]</text>
<rect x="1302" y="429.7" width="24" height="23.8" fill="#fcfcc9"/>
<text x="1345.4" y="452.9">(5e-04, 1e-03]</text>
<rect x="1302" y="456.3" width="24" height="23.8" fill="#fbe3a0"/>
<text x="1345.4" y="479.3">(1e-03, 5e-03]</text>
<rect x="1302" y="482.9" width="24" height="23.8" fill="#faa177"/>
<text x="1345.4" y="505.8">(5e-03, 1e-02]</text>
<rect x="1302" y="509.5" width="24" height="23.8" fill="#da626f"/>
<text x="1345.4" y="532.2">(1e-02, 5e-02]</text>
</g>
</svg></body></html>
